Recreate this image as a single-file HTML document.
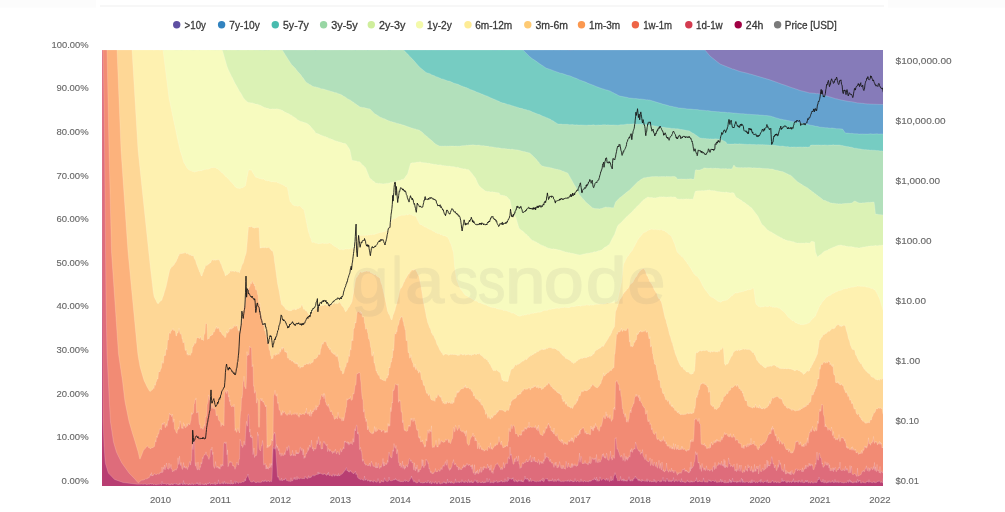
<!DOCTYPE html>
<html><head><meta charset="utf-8"><title>HODL Waves</title>
<style>
html,body{margin:0;padding:0;background:#fff;}
body{width:1005px;height:512px;overflow:hidden;font-family:"Liberation Sans",sans-serif;}
svg{display:block;}
text{font-family:"Liberation Sans",sans-serif;}
.leg text{font-size:11px;fill:#38383c;stroke:#38383c;stroke-width:0.3px;}
.ax text{font-size:9.5px;fill:#66666b;stroke:#66666b;stroke-width:0.12px;}
</style></head><body>
<svg width="1005" height="512" viewBox="0 0 1005 512">
<rect width="1005" height="512" fill="#fff"/>
<rect x="0" y="0" width="96" height="7.5" fill="#fcfcfc"/><rect x="888" y="0" width="117" height="7.5" fill="#fcfcfc"/>
<rect x="100" y="5.5" width="784" height="1" fill="#f0f0f0"/>
<defs><clipPath id="pc"><rect x="102" y="50" width="781" height="436"/></clipPath></defs>
<g clip-path="url(#pc)" shape-rendering="geometricPrecision">
<rect x="101" y="50" width="783" height="437" fill="#867bb9"/>
<path d="M167 50L530 50L530.5 50.1L549 50L551.5 50.1L553.5 50L560 50.1L560.5 50L567.5 50L569.5 50.2L573.5 50L603.5 50.1L636.5 50L638 50.1L639.5 50L688.5 50L689.5 50.1L690 50L704.5 50L705 50.1L710 56L720 64L732.5 69L733 69L740 71.5L746.5 73L750 74.1L750.5 74.1L769 79.6L776.5 82.2L782 84.3L784.5 85L791 87.4L796.5 89.2L800 90.5L805 91.7L809.5 92.9L814.5 93.3L816.5 93.7L817.5 93.6L819.5 93.9L823 94.8L825 95.5L832.5 97.7L835.5 98.7L837 98.9L838.5 99.4L844 100.6L849 101.5L851.5 101.7L857.5 102.9L861.5 103.3L862.5 103.3L865 103.7L868 104L868.5 103.9L869 104L883 104.5L884 487L167 487Z" fill="#65a2cf"/>
<path d="M167 50L530 50L530.5 50.1L549 50L551.5 50.1L553.5 50L560 50.1L560.5 50L567.5 50L569.5 50.2L573.5 50L603.5 50.1L636.5 50L638 50.1L639.5 50L688.5 50L689.5 50.1L690 50L704.5 50L705 50.1L710 56L720 64L732.5 69L733 69L740 71.5L746.5 73L750 74.1L750.5 74.1L769 79.6L776.5 82.2L782 84.3L784.5 85L791 87.4L796.5 89.2L800 90.5L805 91.7L809.5 92.9L814.5 93.3L816.5 93.7L817.5 93.6L819.5 93.9L823 94.8L825 95.5L832.5 97.7L835.5 98.7L837 98.9L838.5 99.4L844 100.6L849 101.5L851.5 101.7L857.5 102.9L861.5 103.3L862.5 103.3L865 103.7L868 104L868.5 103.9L869 104L883 104.5" fill="none" stroke="#fff" stroke-opacity="0.28" stroke-width="0.6"/>
<path d="M172 50L365.5 50L367.5 50.1L369 50L390 50L390.5 50.1L391 50L405 50L406.5 50.2L407.5 50L419 50L420 50.1L425.5 50L427 50.1L430 50L430.5 50.2L431.5 50L436 50L438 50.2L440 50L445 50L445.5 50.1L447 50L487 50.1L492.5 50L495 50.2L497.5 50L501.5 50L502 50.2L504.5 50L512 50L512.5 50.2L513 50L522.5 50L523 50.1L523.5 50.5L529.5 56.5L532 58.5L536 61.1L540 64.1L543 65.9L546 68.1L547 68.5L547.5 68.5L550 69.4L550.5 69.6L551 69.7L554 70.9L560.5 73.2L562.5 73.6L568 75.5L569.5 75.7L575 78L575.5 78.1L577.5 78.9L579.5 79.9L585.5 82.1L588 83.3L594.5 85.7L596 86.5L598.5 87.3L599.5 87.8L603 88.9L603.5 89L606 89.9L607 90L609 90.8L610 90.9L612.5 92.4L613.5 92.8L614.5 93.5L616 94.1L617.5 94.9L618.5 95.6L620 96.1L627.5 97.5L629 98L632.5 98.3L633 98.4L634 98.4L634.5 98.6L635.5 98.5L639.5 99.1L640.5 99L642.5 99.2L647 99.9L647.5 99.8L648.5 100L649.5 100L658.5 102.8L660.5 103.3L662.5 104.1L667.5 105.3L669.5 106L672.5 106.5L674 106.9L676 107.2L678.5 107.9L680 108.1L684.5 108.4L687 108.9L691 109.1L694 109.5L696.5 109.6L697 109.5L699.5 110L704.5 110.4L707 110.8L707.5 110.6L709 110.8L711.5 111.3L717.5 111.7L718.5 111.7L720.5 112.1L725.5 112.3L726 112.5L727 112.5L727.5 112.7L728 112.6L730.5 112.7L732.5 112.9L733.5 113.1L736 113.2L738 113.5L741 113.7L743.5 113.7L745 114L746.5 114L747 114.2L749.5 114.2L751 114.5L756 114.7L756.5 114.8L758 114.8L759 115L763.5 115.3L764.5 115.5L767 115.6L768 115.8L770 115.9L772.5 116.8L774 117.1L774.5 117.4L778 118.4L780 119.1L781.5 119.2L782 119.5L783 119.6L783.5 119.8L786 120.1L787 120.5L789 120.7L791 121.4L793 121.8L795.5 122L796 122.3L798.5 122.6L800.5 123.1L803.5 123.5L806.5 124.3L807 124.3L810.5 125.2L814 125.8L815.5 126.3L817 126.3L820 127.2L821 127.2L825.5 127.7L828 127.8L828.5 128L830.5 128.2L831 128L832.5 128.1L836.5 128.7L838.5 128.7L842.5 129L845 132.5L845.5 133L846 133.1L848 133.1L849 133.3L851 133.5L851.5 133.3L854 133.7L857.5 133.8L858 134L859 133.9L859.5 134.1L861 133.9L862 134L862.5 133.9L863.5 134L868 134.1L870.5 133.8L873 134.1L877 133.8L878.5 134L882 133.9L883 134L884 487L172 487Z" fill="#76ccc2"/>
<path d="M172 50L365.5 50L367.5 50.1L369 50L390 50L390.5 50.1L391 50L405 50L406.5 50.2L407.5 50L419 50L420 50.1L425.5 50L427 50.1L430 50L430.5 50.2L431.5 50L436 50L438 50.2L440 50L445 50L445.5 50.1L447 50L487 50.1L492.5 50L495 50.2L497.5 50L501.5 50L502 50.2L504.5 50L512 50L512.5 50.2L513 50L522.5 50L523 50.1L523.5 50.5L529.5 56.5L532 58.5L536 61.1L540 64.1L543 65.9L546 68.1L547 68.5L547.5 68.5L550 69.4L550.5 69.6L551 69.7L554 70.9L560.5 73.2L562.5 73.6L568 75.5L569.5 75.7L575 78L575.5 78.1L577.5 78.9L579.5 79.9L585.5 82.1L588 83.3L594.5 85.7L596 86.5L598.5 87.3L599.5 87.8L603 88.9L603.5 89L606 89.9L607 90L609 90.8L610 90.9L612.5 92.4L613.5 92.8L614.5 93.5L616 94.1L617.5 94.9L618.5 95.6L620 96.1L627.5 97.5L629 98L632.5 98.3L633 98.4L634 98.4L634.5 98.6L635.5 98.5L639.5 99.1L640.5 99L642.5 99.2L647 99.9L647.5 99.8L648.5 100L649.5 100L658.5 102.8L660.5 103.3L662.5 104.1L667.5 105.3L669.5 106L672.5 106.5L674 106.9L676 107.2L678.5 107.9L680 108.1L684.5 108.4L687 108.9L691 109.1L694 109.5L696.5 109.6L697 109.5L699.5 110L704.5 110.4L707 110.8L707.5 110.6L709 110.8L711.5 111.3L717.5 111.7L718.5 111.7L720.5 112.1L725.5 112.3L726 112.5L727 112.5L727.5 112.7L728 112.6L730.5 112.7L732.5 112.9L733.5 113.1L736 113.2L738 113.5L741 113.7L743.5 113.7L745 114L746.5 114L747 114.2L749.5 114.2L751 114.5L756 114.7L756.5 114.8L758 114.8L759 115L763.5 115.3L764.5 115.5L767 115.6L768 115.8L770 115.9L772.5 116.8L774 117.1L774.5 117.4L778 118.4L780 119.1L781.5 119.2L782 119.5L783 119.6L783.5 119.8L786 120.1L787 120.5L789 120.7L791 121.4L793 121.8L795.5 122L796 122.3L798.5 122.6L800.5 123.1L803.5 123.5L806.5 124.3L807 124.3L810.5 125.2L814 125.8L815.5 126.3L817 126.3L820 127.2L821 127.2L825.5 127.7L828 127.8L828.5 128L830.5 128.2L831 128L832.5 128.1L836.5 128.7L838.5 128.7L842.5 129L845 132.5L845.5 133L846 133.1L848 133.1L849 133.3L851 133.5L851.5 133.3L854 133.7L857.5 133.8L858 134L859 133.9L859.5 134.1L861 133.9L862 134L862.5 133.9L863.5 134L868 134.1L870.5 133.8L873 134.1L877 133.8L878.5 134L882 133.9L883 134" fill="none" stroke="#fff" stroke-opacity="0.28" stroke-width="0.6"/>
<path d="M167 50L260 50.1L267 50L268.5 50.2L271.5 50L285 50L285.5 50.1L286 50L307.5 50.1L314 50L315.5 50.2L317 50L327.5 50.1L339.5 50L340 50.1L340.5 50L350.5 50.1L354.5 50L355.5 50.2L356 50L362 50L362.5 50.1L364.5 50L367 50L367.5 50.2L369 50L386 50L386.5 50.1L387.5 50L388.5 50.2L389.5 50L390.5 50.2L391 50L402 50L403 50.1L403.5 50L405 51.3L406.5 53.1L408 54.3L410 56.7L412 58.6L419.5 67.1L426 72.4L428 73.2L428.5 73.2L430.5 74L431.5 74.7L434.5 75.8L435.5 76.4L438.5 77.4L440 78.2L441 78.5L441.5 78.9L442.5 78.9L448 81L449 81L450.5 81.6L451 81.7L451.5 82.1L454 83.2L458 84.3L459.5 85.1L460 85.2L461.5 85.9L462 85.9L463.5 86.8L465 87.1L465.5 87.5L467 87.8L467.5 88.2L468.5 88.4L470 89.4L472 90L473 90.6L474 90.8L476.5 92L480 93.2L480.5 93.6L481 93.6L481.5 94L482 94L484 95.1L484.5 95.1L485 95.4L487.5 96.2L490.5 97.8L496.5 100.2L497.5 100.8L499 101.3L500.5 102.2L503 103L504 103.1L505 103.6L506.5 103.9L507.5 104.4L509.5 104.7L512 105.7L513.5 106L514.5 106.4L515 106.4L515.5 106.7L518 107.4L519.5 108.1L522.5 108.6L523 109L526.5 109.8L528 110.4L528.5 110.3L529 110.6L530 110.8L533 112.3L534 112.5L535 113.1L537.5 113.9L538 114.3L539.5 114.6L541.5 115.5L542 115.9L542.5 115.9L543.5 116.5L544.5 116.7L546.5 117.7L547 117.7L548.5 118.6L550 119.1L551.5 120L552 120.5L553.5 121.1L555 122.2L556 122.7L557 123.5L558 124L560 124.1L560.5 124L561.5 124.1L562 124.3L567.5 124.3L568.5 124.6L569 124.4L569.5 124.7L573 124.6L574 124.9L575 124.8L575.5 125L576 124.8L579 125.1L580.5 124.9L587 125.2L588 125L591.5 125.1L593.5 124.8L595.5 125.2L598.5 124.9L599.5 125.1L602 125L602.5 124.8L605.5 124.8L606.5 125.1L608 124.8L609 125L610 124.9L611 125.1L613.5 124.9L618 125.2L620.5 124.8L624 124.7L625 124.4L627.5 124L629 124.2L630 124L630.5 124.1L631 123.9L631.5 124.1L634 123.8L634.5 124L635 123.9L635.5 124.2L636 124L636.5 124.2L637.5 123.9L638.5 124.2L640.5 124L641 124.2L642 124.2L643 124.4L643.5 124.2L644 124.5L647.5 124.7L649 125.1L650.5 125.2L651.5 125.6L653 125.6L656 126.3L656.5 126.2L657.5 126.6L658.5 126.7L661 127.3L661.5 127.2L664 127.3L666 127.8L669.5 128L671.5 128.4L674.5 128.4L675.5 128.7L678 128.8L680.5 129.4L681 129.2L681.5 129.5L684.5 129.9L685.5 130.3L686.5 130.4L688.5 130.8L689.5 131.1L692 132.8L694 133.7L700 138L703 138.5L703.5 138.3L704 138.6L706 138.5L706.5 138.8L708.5 138.8L709.5 139L711 138.8L711.5 139L712 138.9L714 139.1L715 138.8L717.5 139L718 139.2L718.5 139.1L720.5 139.2L723.5 140.7L726 142.1L727 144L728.5 143.9L730 144.1L734 144L734.5 143.8L738 144.1L739.5 143.8L741 144.1L741.5 143.9L742.5 144L743 144.3L743.5 144.1L744 144.3L745.5 144.2L747.5 144.5L748 144.3L748.5 144.5L749 144.2L752 144.6L754.5 144.5L756.5 144.7L758.5 144.6L760 144.8L761 144.6L761.5 144.8L762.5 144.6L763 144.8L764.5 144.7L766 144.9L767 144.8L767.5 144.9L769 144.9L769.5 145.2L770 145L771 145.2L772.5 145.1L773.5 145.3L775 145.3L777 145.8L778 145.8L780 146.2L783 146L784.5 146.5L786.5 146.7L787.5 146.6L790 147.2L791 147.1L791.5 146.9L792.5 147.1L793 146.9L795 146.9L796 147.2L797 147L798 147.1L799.5 146.9L801.5 146.9L802 147.2L803.5 146.9L804.5 147.1L805 146.9L806.5 147.1L807 147L807.5 147.2L808.5 147L809.5 147.1L810.5 145.3L811 145L811.5 145.1L812.5 144.9L815.5 145.1L817 144.9L818 145.1L818.5 144.9L819.5 145.1L820.5 145L821 145.2L822 145L824 145.1L824.5 144.9L828 145.2L828.5 145L831.5 145.1L833.5 144.8L834.5 145.1L839.5 145L841.5 145.5L842.5 145.5L844 146L846.5 146.5L849 146.8L849.5 147.1L851.5 147.2L854.5 148.2L856 148.2L858 148.7L861 149L861.5 149.2L865 149.7L866 149.5L867 149.9L868 149.8L870.5 150.2L871.5 150L872 150.2L874 150.2L876.5 150.6L877.5 150.6L878 150.5L880.5 151L881 150.8L882.5 151L883 150.9L884 487L167 487Z" fill="#b2e0bb"/>
<path d="M167 50L260 50.1L267 50L268.5 50.2L271.5 50L285 50L285.5 50.1L286 50L307.5 50.1L314 50L315.5 50.2L317 50L327.5 50.1L339.5 50L340 50.1L340.5 50L350.5 50.1L354.5 50L355.5 50.2L356 50L362 50L362.5 50.1L364.5 50L367 50L367.5 50.2L369 50L386 50L386.5 50.1L387.5 50L388.5 50.2L389.5 50L390.5 50.2L391 50L402 50L403 50.1L403.5 50L405 51.3L406.5 53.1L408 54.3L410 56.7L412 58.6L419.5 67.1L426 72.4L428 73.2L428.5 73.2L430.5 74L431.5 74.7L434.5 75.8L435.5 76.4L438.5 77.4L440 78.2L441 78.5L441.5 78.9L442.5 78.9L448 81L449 81L450.5 81.6L451 81.7L451.5 82.1L454 83.2L458 84.3L459.5 85.1L460 85.2L461.5 85.9L462 85.9L463.5 86.8L465 87.1L465.5 87.5L467 87.8L467.5 88.2L468.5 88.4L470 89.4L472 90L473 90.6L474 90.8L476.5 92L480 93.2L480.5 93.6L481 93.6L481.5 94L482 94L484 95.1L484.5 95.1L485 95.4L487.5 96.2L490.5 97.8L496.5 100.2L497.5 100.8L499 101.3L500.5 102.2L503 103L504 103.1L505 103.6L506.5 103.9L507.5 104.4L509.5 104.7L512 105.7L513.5 106L514.5 106.4L515 106.4L515.5 106.7L518 107.4L519.5 108.1L522.5 108.6L523 109L526.5 109.8L528 110.4L528.5 110.3L529 110.6L530 110.8L533 112.3L534 112.5L535 113.1L537.5 113.9L538 114.3L539.5 114.6L541.5 115.5L542 115.9L542.5 115.9L543.5 116.5L544.5 116.7L546.5 117.7L547 117.7L548.5 118.6L550 119.1L551.5 120L552 120.5L553.5 121.1L555 122.2L556 122.7L557 123.5L558 124L560 124.1L560.5 124L561.5 124.1L562 124.3L567.5 124.3L568.5 124.6L569 124.4L569.5 124.7L573 124.6L574 124.9L575 124.8L575.5 125L576 124.8L579 125.1L580.5 124.9L587 125.2L588 125L591.5 125.1L593.5 124.8L595.5 125.2L598.5 124.9L599.5 125.1L602 125L602.5 124.8L605.5 124.8L606.5 125.1L608 124.8L609 125L610 124.9L611 125.1L613.5 124.9L618 125.2L620.5 124.8L624 124.7L625 124.4L627.5 124L629 124.2L630 124L630.5 124.1L631 123.9L631.5 124.1L634 123.8L634.5 124L635 123.9L635.5 124.2L636 124L636.5 124.2L637.5 123.9L638.5 124.2L640.5 124L641 124.2L642 124.2L643 124.4L643.5 124.2L644 124.5L647.5 124.7L649 125.1L650.5 125.2L651.5 125.6L653 125.6L656 126.3L656.5 126.2L657.5 126.6L658.5 126.7L661 127.3L661.5 127.2L664 127.3L666 127.8L669.5 128L671.5 128.4L674.5 128.4L675.5 128.7L678 128.8L680.5 129.4L681 129.2L681.5 129.5L684.5 129.9L685.5 130.3L686.5 130.4L688.5 130.8L689.5 131.1L692 132.8L694 133.7L700 138L703 138.5L703.5 138.3L704 138.6L706 138.5L706.5 138.8L708.5 138.8L709.5 139L711 138.8L711.5 139L712 138.9L714 139.1L715 138.8L717.5 139L718 139.2L718.5 139.1L720.5 139.2L723.5 140.7L726 142.1L727 144L728.5 143.9L730 144.1L734 144L734.5 143.8L738 144.1L739.5 143.8L741 144.1L741.5 143.9L742.5 144L743 144.3L743.5 144.1L744 144.3L745.5 144.2L747.5 144.5L748 144.3L748.5 144.5L749 144.2L752 144.6L754.5 144.5L756.5 144.7L758.5 144.6L760 144.8L761 144.6L761.5 144.8L762.5 144.6L763 144.8L764.5 144.7L766 144.9L767 144.8L767.5 144.9L769 144.9L769.5 145.2L770 145L771 145.2L772.5 145.1L773.5 145.3L775 145.3L777 145.8L778 145.8L780 146.2L783 146L784.5 146.5L786.5 146.7L787.5 146.6L790 147.2L791 147.1L791.5 146.9L792.5 147.1L793 146.9L795 146.9L796 147.2L797 147L798 147.1L799.5 146.9L801.5 146.9L802 147.2L803.5 146.9L804.5 147.1L805 146.9L806.5 147.1L807 147L807.5 147.2L808.5 147L809.5 147.1L810.5 145.3L811 145L811.5 145.1L812.5 144.9L815.5 145.1L817 144.9L818 145.1L818.5 144.9L819.5 145.1L820.5 145L821 145.2L822 145L824 145.1L824.5 144.9L828 145.2L828.5 145L831.5 145.1L833.5 144.8L834.5 145.1L839.5 145L841.5 145.5L842.5 145.5L844 146L846.5 146.5L849 146.8L849.5 147.1L851.5 147.2L854.5 148.2L856 148.2L858 148.7L861 149L861.5 149.2L865 149.7L866 149.5L867 149.9L868 149.8L870.5 150.2L871.5 150L872 150.2L874 150.2L876.5 150.6L877.5 150.6L878 150.5L880.5 151L881 150.8L882.5 151L883 150.9" fill="none" stroke="#fff" stroke-opacity="0.28" stroke-width="0.6"/>
<path d="M144.5 50L181 50L182 50.2L182.5 50L193 50L193.5 50.1L194.5 50L217 50L219 50.1L219.5 50L223.5 50.1L224.5 50L226.5 50.2L227 50L230 50L230.5 50.1L236 50L238 50.2L240 50L247.5 50L248 50.2L248.5 50L253.5 50L254.5 50.3L256.5 50L260 50.2L260.5 50L262 50.2L263 50L264 50.4L265.5 50L266 50.2L266.5 50L269 50.2L269.5 50L271.5 50L276.5 50L277.5 50.3L278 50L278.5 50.2L279 50L282.5 50.2L286 56L291.5 64.5L295.5 68.6L297.5 71.3L301 75.1L302 76.7L303 77.8L305.5 81.4L306.5 82.4L308 83.4L308.5 83.6L309.5 84.5L310.5 84.8L312.5 86.2L315 86.9L315.5 86.8L316 87.2L318 87.5L319 88L319.5 87.9L320.5 88.5L322 88.9L322.5 88.8L323 89.2L323.5 89L324.5 89.3L325 89.7L326 89.8L328 90.5L328.5 90.5L329 90.8L329.5 90.7L331 91.5L332 91.5L333 92.1L333.5 92L334.5 92.5L336.5 92.8L337 93.2L338 93.4L338.5 93.8L340.5 94.2L341 94.7L342 95.1L343.5 96.2L344 96.3L345 97L345.5 97.2L347.5 98.7L350.5 100.2L352.5 101.8L354 102.6L354.5 103.2L356 104L357 105L357.5 105.1L358 105.6L360 107L361.5 107.2L362.5 107.6L364 107.6L366.5 108.3L367 108.2L368 108.8L369 108.7L370 109L375 113.9L375.5 114L376 114.6L378.5 115.9L379.5 116.8L380.5 117.2L381 117.7L381.5 117.6L383 118.4L384.5 118.8L387.5 120.3L388 120.3L388.5 120.8L389 120.8L390.5 121.4L391.5 121.5L392.5 122L395.5 122.7L397 123.4L398.5 123.6L399 123.9L400.5 124.1L402 124.8L403.5 125.1L408 126.8L409 127L410 127.6L410.5 127.5L411.5 128L412 128L413 128.5L413.5 128.5L414.5 128.9L415 128.7L416.5 129.6L417.5 129.8L418 129.6L418.5 130L419 130L422 132.1L425 134.9L426.5 135.9L427.5 137.1L433.5 142.1L434 142.9L434.5 143.1L435.5 144.1L438.5 145.6L440 146.2L440.5 146L442 146.2L443 145.9L443.5 146.2L445 145.9L446.5 146.2L447.5 146L448 146.2L449 146.1L449.5 145.9L451 145.9L451.5 146.1L452 145.8L452.5 146.1L454 146L454.5 146.3L455 146L456 146L457.5 146.2L458.5 146.1L459 146.2L460.5 146L461.5 145.7L465.5 145.5L466.5 145.2L467 145.1L467.5 145.4L469 145L469.5 145.1L471 144.9L471.5 145L472 144.7L472.5 144.9L473 144.8L474.5 145L475 144.9L475.5 145.2L476 144.9L476.5 145.3L477 145.3L477.5 145.1L479.5 145.1L480 145.4L481 145.4L482 145.8L483.5 145.6L485 146L486.5 146.1L487 146L487.5 146.3L488 146.1L489.5 146.7L491.5 146.7L496.5 147.7L499 147.8L499.5 148.1L501 148.2L501.5 148.4L503.5 148.4L504 148.6L505 148.5L505.5 148.8L506.5 148.8L507.5 149.1L509.5 149.1L510.5 149.4L512 149.1L513 149.2L513.5 149.6L514 149.4L515 149.8L515.5 149.7L518 150L523.5 151.5L524.5 151.5L526.5 152.3L527 152.2L528.5 152.8L529 152.7L530 153.2L533 155.9L535 158.1L536.5 159.4L537 160.3L539 162.5L539.5 163.4L542 166L543 166L544 166.6L549.5 167.4L550.5 167.8L551 167.8L552.5 168.3L554.5 168.7L555 169L555.5 168.9L556.5 169.3L557.5 169.3L558.5 169.7L559.5 169.7L560 170.1L561.5 170.5L562 171L564 171.4L564.5 171.9L565 171.8L565.5 172.3L567.5 172.9L568 173.4L575 186L575.5 186.6L579.5 194.7L583 198.9L584 199.8L585.5 201.8L593 208.3L593.5 208L594.5 208.4L599 208.8L599.5 209L600.5 208.5L601.5 208.5L602 208.2L602.5 208.2L603 207.8L604 207.7L605.5 207L608 207.4L608.5 207.2L610 207.5L610.5 207.4L611.5 207.7L612 207.6L612.5 207.8L613.5 207.9L615.5 202.2L616.5 200.9L620 197.5L621.5 196.5L622 195.9L622.5 195.7L623.5 194.7L624.5 194.1L626.5 192.3L629 190.6L637.5 181.9L638 181.5L638.5 181.4L639.5 180.5L641.5 179.1L642 179L643 178.2L644 177.8L645.5 177.7L646 177.4L646.5 177.5L648 177.1L648.5 177.2L652.5 176.4L653 176.7L654 176.4L654.5 176.6L655.5 176.4L656 176.6L656.5 176.4L657 176.5L657.5 176.4L658.5 176.7L659.5 176.5L660 176.7L660.5 176.5L663 176.6L664.5 176.4L665.5 176.7L666.5 176.3L667.5 176.6L668.5 176.4L669.5 176.6L670 176.4L671 176.7L671.5 176.4L672 176.5L673 176.3L674 176.5L674.5 176.4L675.5 176.8L676.5 177.8L677.5 179.2L678 179L678.5 179.1L681.5 178.9L682 179.1L683 178.9L684 179.1L685 178.9L686 179.2L687.5 178.9L688 179.1L689 178.9L691 178.8L691.5 178.9L692.5 179.3L693 179.1L693.5 179.3L694 179.1L694.5 176.5L695 171.9L695.5 169.9L696 170.1L696.5 169.8L697.5 170.1L700 170L702 168.9L702.5 168.9L703.5 168.2L705 167.8L705.5 168.1L706 167.9L706.5 168.2L708.5 168.3L709.5 168.3L710 168L713 168.4L713.5 168.2L714.5 168.3L715.5 168.1L716.5 168.4L717 168.3L718 168.3L719.5 168.6L720 168.5L720.5 168.7L722 168.7L722.5 168.5L723 168.7L724 168.5L724.5 168.7L726 168.6L727.5 168.9L728.5 168.8L729 169L729.5 168.8L731 169L731.5 168.8L732 169L733.5 165.6L734 165L735.5 167.1L737 167.6L738.5 167.5L739 167.7L740 167.5L740.5 167.7L741 167.4L741.5 167.6L742 167.4L742.5 167.7L744 167.7L744.5 167.5L746.5 167.8L748.5 167.6L751.5 167.8L752.5 168.1L753.5 167.8L757 168L759.5 167.9L760.5 168.2L761 168.1L761.5 168.3L764.5 168.4L765.5 168.6L766.5 168.5L767 168.7L767.5 168.5L770 169L771 168.9L772.5 169.1L775 170L777 170.2L779.5 171.1L780 171L780.5 171.3L781 171.2L781.5 171.5L782 171.4L782.5 171.6L786.5 173.4L787 173.8L788 174.1L788.5 174.6L790.5 175.2L792 176.4L797.5 181.8L801.5 184.3L802 184.4L802.5 185L805 186.6L806 186.9L807 187.7L807.5 187.8L809.5 189.4L810 190L810.5 190.1L811.5 191.1L814 192.8L815 193.8L816 194.2L817 195.2L818 195.8L818.5 196.4L819 196.5L820 197.4L821 197.9L821.5 198.6L823.5 200.2L825.5 200.6L827.5 201.7L828 201.6L828.5 201.8L829 202.3L830.5 202.9L831 202.8L831.5 203.1L832.5 203.3L834 203.2L836.5 203.7L837 203.6L838.5 204L839 203.8L842 203.9L842.5 203.6L843 203.8L843.5 203.6L845 203.6L846 203.3L847 203.5L847.5 203.3L849.5 203.3L850.5 203.1L851 203.3L852.5 202.6L854 201.2L855 201L858.5 202.8L860 203L861.5 203.1L863 202.7L864 202.9L864.5 202.7L866.5 202.5L867 202.3L867.5 202.4L869 202.2L869.5 202.4L871 202.2L871.5 202.3L872 202L873.5 202.2L874 201.9L874.5 204.5L875.5 214.3L876.5 214.1L878.5 214.4L879 214.7L879.5 214.6L883 214.9L884 487L144.5 487Z" fill="#dbf2b5"/>
<path d="M144.5 50L181 50L182 50.2L182.5 50L193 50L193.5 50.1L194.5 50L217 50L219 50.1L219.5 50L223.5 50.1L224.5 50L226.5 50.2L227 50L230 50L230.5 50.1L236 50L238 50.2L240 50L247.5 50L248 50.2L248.5 50L253.5 50L254.5 50.3L256.5 50L260 50.2L260.5 50L262 50.2L263 50L264 50.4L265.5 50L266 50.2L266.5 50L269 50.2L269.5 50L271.5 50L276.5 50L277.5 50.3L278 50L278.5 50.2L279 50L282.5 50.2L286 56L291.5 64.5L295.5 68.6L297.5 71.3L301 75.1L302 76.7L303 77.8L305.5 81.4L306.5 82.4L308 83.4L308.5 83.6L309.5 84.5L310.5 84.8L312.5 86.2L315 86.9L315.5 86.8L316 87.2L318 87.5L319 88L319.5 87.9L320.5 88.5L322 88.9L322.5 88.8L323 89.2L323.5 89L324.5 89.3L325 89.7L326 89.8L328 90.5L328.5 90.5L329 90.8L329.5 90.7L331 91.5L332 91.5L333 92.1L333.5 92L334.5 92.5L336.5 92.8L337 93.2L338 93.4L338.5 93.8L340.5 94.2L341 94.7L342 95.1L343.5 96.2L344 96.3L345 97L345.5 97.2L347.5 98.7L350.5 100.2L352.5 101.8L354 102.6L354.5 103.2L356 104L357 105L357.5 105.1L358 105.6L360 107L361.5 107.2L362.5 107.6L364 107.6L366.5 108.3L367 108.2L368 108.8L369 108.7L370 109L375 113.9L375.5 114L376 114.6L378.5 115.9L379.5 116.8L380.5 117.2L381 117.7L381.5 117.6L383 118.4L384.5 118.8L387.5 120.3L388 120.3L388.5 120.8L389 120.8L390.5 121.4L391.5 121.5L392.5 122L395.5 122.7L397 123.4L398.5 123.6L399 123.9L400.5 124.1L402 124.8L403.5 125.1L408 126.8L409 127L410 127.6L410.5 127.5L411.5 128L412 128L413 128.5L413.5 128.5L414.5 128.9L415 128.7L416.5 129.6L417.5 129.8L418 129.6L418.5 130L419 130L422 132.1L425 134.9L426.5 135.9L427.5 137.1L433.5 142.1L434 142.9L434.5 143.1L435.5 144.1L438.5 145.6L440 146.2L440.5 146L442 146.2L443 145.9L443.5 146.2L445 145.9L446.5 146.2L447.5 146L448 146.2L449 146.1L449.5 145.9L451 145.9L451.5 146.1L452 145.8L452.5 146.1L454 146L454.5 146.3L455 146L456 146L457.5 146.2L458.5 146.1L459 146.2L460.5 146L461.5 145.7L465.5 145.5L466.5 145.2L467 145.1L467.5 145.4L469 145L469.5 145.1L471 144.9L471.5 145L472 144.7L472.5 144.9L473 144.8L474.5 145L475 144.9L475.5 145.2L476 144.9L476.5 145.3L477 145.3L477.5 145.1L479.5 145.1L480 145.4L481 145.4L482 145.8L483.5 145.6L485 146L486.5 146.1L487 146L487.5 146.3L488 146.1L489.5 146.7L491.5 146.7L496.5 147.7L499 147.8L499.5 148.1L501 148.2L501.5 148.4L503.5 148.4L504 148.6L505 148.5L505.5 148.8L506.5 148.8L507.5 149.1L509.5 149.1L510.5 149.4L512 149.1L513 149.2L513.5 149.6L514 149.4L515 149.8L515.5 149.7L518 150L523.5 151.5L524.5 151.5L526.5 152.3L527 152.2L528.5 152.8L529 152.7L530 153.2L533 155.9L535 158.1L536.5 159.4L537 160.3L539 162.5L539.5 163.4L542 166L543 166L544 166.6L549.5 167.4L550.5 167.8L551 167.8L552.5 168.3L554.5 168.7L555 169L555.5 168.9L556.5 169.3L557.5 169.3L558.5 169.7L559.5 169.7L560 170.1L561.5 170.5L562 171L564 171.4L564.5 171.9L565 171.8L565.5 172.3L567.5 172.9L568 173.4L575 186L575.5 186.6L579.5 194.7L583 198.9L584 199.8L585.5 201.8L593 208.3L593.5 208L594.5 208.4L599 208.8L599.5 209L600.5 208.5L601.5 208.5L602 208.2L602.5 208.2L603 207.8L604 207.7L605.5 207L608 207.4L608.5 207.2L610 207.5L610.5 207.4L611.5 207.7L612 207.6L612.5 207.8L613.5 207.9L615.5 202.2L616.5 200.9L620 197.5L621.5 196.5L622 195.9L622.5 195.7L623.5 194.7L624.5 194.1L626.5 192.3L629 190.6L637.5 181.9L638 181.5L638.5 181.4L639.5 180.5L641.5 179.1L642 179L643 178.2L644 177.8L645.5 177.7L646 177.4L646.5 177.5L648 177.1L648.5 177.2L652.5 176.4L653 176.7L654 176.4L654.5 176.6L655.5 176.4L656 176.6L656.5 176.4L657 176.5L657.5 176.4L658.5 176.7L659.5 176.5L660 176.7L660.5 176.5L663 176.6L664.5 176.4L665.5 176.7L666.5 176.3L667.5 176.6L668.5 176.4L669.5 176.6L670 176.4L671 176.7L671.5 176.4L672 176.5L673 176.3L674 176.5L674.5 176.4L675.5 176.8L676.5 177.8L677.5 179.2L678 179L678.5 179.1L681.5 178.9L682 179.1L683 178.9L684 179.1L685 178.9L686 179.2L687.5 178.9L688 179.1L689 178.9L691 178.8L691.5 178.9L692.5 179.3L693 179.1L693.5 179.3L694 179.1L694.5 176.5L695 171.9L695.5 169.9L696 170.1L696.5 169.8L697.5 170.1L700 170L702 168.9L702.5 168.9L703.5 168.2L705 167.8L705.5 168.1L706 167.9L706.5 168.2L708.5 168.3L709.5 168.3L710 168L713 168.4L713.5 168.2L714.5 168.3L715.5 168.1L716.5 168.4L717 168.3L718 168.3L719.5 168.6L720 168.5L720.5 168.7L722 168.7L722.5 168.5L723 168.7L724 168.5L724.5 168.7L726 168.6L727.5 168.9L728.5 168.8L729 169L729.5 168.8L731 169L731.5 168.8L732 169L733.5 165.6L734 165L735.5 167.1L737 167.6L738.5 167.5L739 167.7L740 167.5L740.5 167.7L741 167.4L741.5 167.6L742 167.4L742.5 167.7L744 167.7L744.5 167.5L746.5 167.8L748.5 167.6L751.5 167.8L752.5 168.1L753.5 167.8L757 168L759.5 167.9L760.5 168.2L761 168.1L761.5 168.3L764.5 168.4L765.5 168.6L766.5 168.5L767 168.7L767.5 168.5L770 169L771 168.9L772.5 169.1L775 170L777 170.2L779.5 171.1L780 171L780.5 171.3L781 171.2L781.5 171.5L782 171.4L782.5 171.6L786.5 173.4L787 173.8L788 174.1L788.5 174.6L790.5 175.2L792 176.4L797.5 181.8L801.5 184.3L802 184.4L802.5 185L805 186.6L806 186.9L807 187.7L807.5 187.8L809.5 189.4L810 190L810.5 190.1L811.5 191.1L814 192.8L815 193.8L816 194.2L817 195.2L818 195.8L818.5 196.4L819 196.5L820 197.4L821 197.9L821.5 198.6L823.5 200.2L825.5 200.6L827.5 201.7L828 201.6L828.5 201.8L829 202.3L830.5 202.9L831 202.8L831.5 203.1L832.5 203.3L834 203.2L836.5 203.7L837 203.6L838.5 204L839 203.8L842 203.9L842.5 203.6L843 203.8L843.5 203.6L845 203.6L846 203.3L847 203.5L847.5 203.3L849.5 203.3L850.5 203.1L851 203.3L852.5 202.6L854 201.2L855 201L858.5 202.8L860 203L861.5 203.1L863 202.7L864 202.9L864.5 202.7L866.5 202.5L867 202.3L867.5 202.4L869 202.2L869.5 202.4L871 202.2L871.5 202.3L872 202L873.5 202.2L874 201.9L874.5 204.5L875.5 214.3L876.5 214.1L878.5 214.4L879 214.7L879.5 214.6L883 214.9" fill="none" stroke="#fff" stroke-opacity="0.28" stroke-width="0.6"/>
<path d="M144.5 50L162.5 50L163.5 50.2L164 50L165 50L166 50.2L166.5 50L171 50.1L174 50L175 50.2L175.5 50L176 50.2L180.5 50L181 50.3L182 50.2L182.5 50L186.5 50L187 50.2L187.5 50L190 50L192.5 50.3L193 50.1L193.5 50.2L196.5 50L198.5 50L199.5 50.3L200.5 50L201 50.1L201.5 50L207.5 50L208 50.2L208.5 50L211.5 50L212 50.2L212.5 50L215.5 50.2L217 50L217.5 50.2L218 50L218.5 50.3L220 50L221.5 50.1L222.5 50.4L227 66.2L228 69L231.5 76.2L232.5 77.9L235 83.3L237.5 87.4L239 90.4L240 92L240.5 92.5L243.5 98L246 100.7L246.5 100.9L247 101.8L248.5 102.4L249.5 102.4L250 102.8L250.5 102.9L251 102.6L251.5 103L252 102.8L252.5 102.9L253 103.3L254 103.4L255.5 104.1L256.5 104.3L257 104L257.5 104.2L258.5 104.8L259.5 104.9L260 105.4L260.5 105.3L261.5 105.9L262 105.9L262.5 106.4L264.5 107.5L265.5 107.6L266.5 108.2L267 108.1L267.5 108.3L268 108.2L269.5 109L271.5 109.1L272 108.7L272.5 108.9L273 108.7L273.5 109L274.5 108.9L275.5 109L276.5 108.7L277.5 108.9L278 109.3L278.5 109.1L279.5 109.5L280 109.3L280.5 109.8L283 110.7L283.5 111.3L284 111.2L284.5 111.9L285.5 112.4L286 112.3L287 113.3L288.5 113.6L290.5 114.9L292 115.4L293 116.4L296 118.3L297.5 119.7L298.5 120.1L299 120.7L301 121.4L301.5 121.4L302 121.7L303 121.9L303.5 122.3L305 122.8L305.5 122.8L306 123.1L308 123.9L308.5 124.6L309.5 125.3L310 126.1L310.5 126.3L311 127.2L312 128L312.5 128.9L314 130.3L316 133.5L316.5 133.3L318 133.8L319 134.1L320.5 135.1L321.5 135.2L323 135.9L323.5 135.9L324.5 136.6L326 136.8L326.5 137.3L327 137.2L327.5 137.4L328 138L328.5 137.9L329 138.4L329.5 138.4L330 138.7L330.5 138.6L331.5 139.3L332 139.2L333.5 139.9L334 140.3L335.5 140.9L336 140.8L337 141.4L337.5 141.3L338.5 141.9L339 141.7L340 142.3L341.5 142.5L342.5 143.1L343 143L343.5 143.4L344.5 143.3L345 143.7L345.5 143.6L346 143.9L347 145.2L347.5 146.2L348 146.7L349.5 149.1L350 150.2L352 160.2L354.5 160.8L356.5 161L357 161.4L357.5 161.4L358 161.7L359 161.6L359.5 161.8L361 163L361.5 163.9L363 165.3L364 165.9L365 167.4L365.5 167.5L369.5 177.5L371 179.2L372 179.7L372.5 180.4L373.5 181.2L374 181.3L375.5 183.1L376 183.3L376.5 183.1L377.5 183.2L378.5 183.6L379.5 183.2L380.5 183.6L381 183.4L382 183.8L382.5 183.7L383 183.9L383.5 183.7L384 184.1L384.5 183.6L385 183.8L386.5 183.2L387 183.4L389.5 183L391 182.3L391.5 182.5L392 182.1L393 181.8L393.5 182.1L394.5 181.6L395 181.4L395.5 181.5L396 181.2L396.5 181.2L397.5 180.6L400.5 180.3L401 179.7L403.5 179.2L405 177.5L405.5 176.6L407.5 174.1L410.5 163.5L411 162.9L411.5 163.1L412 162.8L413 162.7L413.5 162.9L414 162.6L414.5 162.8L416 162.6L416.5 162.1L417.5 162.2L418 161.9L418.5 162.2L420 161.8L421 162L421.5 162.5L422.5 162.4L424 162.8L425 162.7L427 162.9L427.5 163.3L428 163.4L429 163.1L429.5 163.4L430 163.2L430.5 163.7L431.5 163.7L434.5 164.4L436 164.3L436.5 164.6L437.5 164.9L439 165L440 164.7L441 164.9L442.5 165.6L444 165.4L445 165.9L445.5 165.6L446 165.9L447.5 165.9L448 166.2L449.5 166L451 166.6L451.5 166.4L452 166.8L453 166.5L455 166.9L456.5 167.5L457 167.3L458 167.2L458.5 167.5L459 167.6L459.5 168.1L460.5 168.2L461 168.1L461.5 168.5L462.5 168.6L463.5 169L464 168.8L465.5 168.9L466 169.1L466.5 169.6L468 169.6L469 169.9L472 173.5L474 176.3L474.5 176.7L475 177.6L475.5 178L477.5 182.7L479 185.6L482 188.4L483 189L485 190.8L485.5 191L486 191.4L486.5 191.1L487.5 191.6L488.5 191.4L489 191.6L489.5 191.5L490 191.9L493 191.8L493.5 192.2L494.5 192.1L496 192.6L496.5 192.4L497 192.8L497.5 192.5L498 192.9L499 192.8L499.5 193.6L500 195.1L500.5 194.9L501.5 195.2L502.5 195.1L503 195.6L503.5 195.5L504 195.8L504.5 195.6L505 195.7L505.5 196.2L506 196L507 196.8L508.5 198.6L509.5 199.4L510 200.1L512 209.8L514 214.3L516 217.9L519 228L520.5 229.7L521 229.8L522 230.8L523 231.2L526 234.3L527 234.8L527.5 235.7L528.5 236.3L529.5 237.8L530 237.9L530.5 238.7L532.5 240.5L533.5 240.6L534 241.2L535 241.4L536 242.1L537 242.4L537.5 242.9L538 243L540.5 244.8L541.5 244.9L542 245.4L543.5 245.8L544.5 246.5L545.5 246.6L546 247.2L547.5 247.8L548 248.2L549.5 248.3L550.5 248.8L551 248.6L551.5 249L552 248.8L552.5 249.1L553.5 248.8L554.5 249.1L555.5 249.1L558 249.8L559 250L559.5 249.8L560 250.3L561.5 250.6L562 251L562.5 250.9L563 251.3L563.5 251.2L564 251.6L564.5 251.6L565.5 252.1L566 252.2L566.5 252L567 252.4L567.5 252.3L568.5 252.7L569 252.6L571 253.2L571.5 253.1L572 253.4L572.5 253.3L574 253.8L574.5 253.8L575 254.1L576.5 254.2L577.5 254.6L579.5 254.9L581 254.8L584 253.9L585.5 253.8L586 253.5L587.5 253.2L588 253.4L588.5 253.1L589 253.3L590 253L590.5 252.6L591 252.9L591.5 252.5L592 252.6L592.5 252.5L594.5 251.6L595 251.9L596 251.7L598 251.1L598.5 250.6L599 250.8L599.5 250.5L601.5 250.1L605 247.1L606 246.8L607 246.2L607.5 245.5L608 245.3L609 244.7L609.5 244L612.5 237.9L614.5 234.4L617.5 226.1L618 225.6L618.5 224.7L619 224.4L619.5 223.8L620 223.6L621 222.7L621.5 222L624 219.6L625 218.3L625.5 218.1L626.5 216.8L627.5 216.1L630 213.4L630.5 213.2L633 210.8L634 209.4L636 207.7L636.5 206.8L639 204.7L640 203.3L640.5 203.2L641.5 201.7L642 201.6L643.5 199.8L644.5 199.3L645 198.8L646.5 197.9L647 197.4L647.5 197.1L648 197.2L648.5 197.1L649 197.2L649.5 197.6L650 197.3L650.5 197.5L651.5 197.4L652 197.6L653 197.7L653.5 198L654.5 197.8L655 198.2L656.5 197.6L658.5 197.3L659.5 196.8L660 197L660.5 196.7L661 197L661.5 196.7L662 196.7L662.5 197.1L663.5 196.8L664 197.1L664.5 196.9L666.5 197.2L667 197L667.5 197.1L668.5 196.9L669 197.2L669.5 196.9L670.5 196.8L671 197L671.5 196.8L672 197.1L673 197.3L673.5 196.9L675.5 197L676.5 198.3L677.5 199L679 198.9L679.5 199.2L681.5 198.9L682.5 199.2L683.5 198.9L684 199.2L684.5 199.1L685 198.8L685.5 199.1L686 198.8L686.5 198.8L687 199.2L687.5 199.1L688 198.8L689.5 199.2L690 199L690.5 199.2L691 198.9L693 199.3L695 191.9L695.5 191.2L696 190.9L696.5 191.1L697.5 190.7L698 190.9L698.5 190.7L699.5 190.8L700 191.1L700.5 190.7L701.5 190.6L702 190.7L703 190.5L703.5 190.7L704 190.7L704.5 190.4L705 190.7L705.5 190.3L706 190.6L708 190L709 190.2L709.5 189.8L710.5 190.4L711.5 190.6L712 190.4L713.5 190.7L714 190.6L716.5 191.2L717 191.6L718.5 191.5L721 192.1L721.5 192L722 192.3L723.5 192.1L724.5 192.4L726.5 192L727 192.1L727.5 192.5L728 192.4L730.5 193L732 192.6L733 192.7L734 193.1L735 195.2L736 196.9L736.5 197.4L737.5 198L738 198L739.5 199.4L740 199.3L740.5 200.1L741 200.1L741.5 200.3L742 201L743.5 202L745 202.7L745.5 203.3L746 203.5L747 204.6L749 205.7L750 206.9L751 207.6L751.5 207.8L758 216.3L761 222.6L762 224.4L763 225.3L763.5 225.5L767.5 230L768 230L769 230.9L770.5 231.8L771 231.8L772.5 232.7L773 233.3L775 234.2L776 235.1L777 235.4L778 236.3L778.5 236.2L780.5 237.5L781 237.6L782 238.2L782.5 238.4L783.5 239.2L784.5 239.3L785.5 240.1L786 240.1L788 240.8L789.5 240.8L792.5 241.8L793 241.6L794.5 242.2L795 242.6L795.5 242.6L796 242.9L796.5 242.7L797.5 243.3L798.5 243L799.5 243.2L800 243L801 243.2L802 242.9L802.5 243.2L803 243L805 243.2L805.5 242.8L806 242.9L806.5 242.8L807.5 243L809 242.9L809.5 243.2L811.5 241.2L813 241.5L813.5 241.8L814 241.7L814.5 242L815.5 252L817.5 257.1L818 256.5L818.5 256.3L819 255.5L821.5 253.9L822.5 252.7L824.5 251.2L825.5 250.8L826 250.8L826.5 250.4L827 250.5L827.5 250.3L828 249.7L829 249.3L829.5 248.8L830 248.8L830.5 248.4L832 247.9L832.5 247.5L835 246.7L835.5 246.3L836 246.3L836.5 245.9L837 246L837.5 245.5L838 245.6L838.5 245.3L839.5 245.2L840 245.3L840.5 245L841 245.3L841.5 245.1L843 245.8L844.5 245.6L845.5 246.1L846 246L846.5 246.4L848 246.3L848.5 246.7L849 246.5L850 246.8L851 246.6L853 247.1L853.5 247L855 247.4L855.5 247.6L856 247.5L858 247.7L858.5 248.1L859 247.7L859.5 248.1L860.5 247.6L861.5 247.5L863.5 246.9L865 246.9L866.5 246.4L867.5 246.5L868.5 246.1L870 246.1L870.5 245.9L871 246L871.5 245.8L872 246.1L873.5 245.7L874.5 245.8L876 245.3L876.5 245.7L878 245.7L879.5 245.2L881 245.4L882 245.1L883 245.1L884 487L144.5 487Z" fill="#f7fbbf"/>
<path d="M144.5 50L162.5 50L163.5 50.2L164 50L165 50L166 50.2L166.5 50L171 50.1L174 50L175 50.2L175.5 50L176 50.2L180.5 50L181 50.3L182 50.2L182.5 50L186.5 50L187 50.2L187.5 50L190 50L192.5 50.3L193 50.1L193.5 50.2L196.5 50L198.5 50L199.5 50.3L200.5 50L201 50.1L201.5 50L207.5 50L208 50.2L208.5 50L211.5 50L212 50.2L212.5 50L215.5 50.2L217 50L217.5 50.2L218 50L218.5 50.3L220 50L221.5 50.1L222.5 50.4L227 66.2L228 69L231.5 76.2L232.5 77.9L235 83.3L237.5 87.4L239 90.4L240 92L240.5 92.5L243.5 98L246 100.7L246.5 100.9L247 101.8L248.5 102.4L249.5 102.4L250 102.8L250.5 102.9L251 102.6L251.5 103L252 102.8L252.5 102.9L253 103.3L254 103.4L255.5 104.1L256.5 104.3L257 104L257.5 104.2L258.5 104.8L259.5 104.9L260 105.4L260.5 105.3L261.5 105.9L262 105.9L262.5 106.4L264.5 107.5L265.5 107.6L266.5 108.2L267 108.1L267.5 108.3L268 108.2L269.5 109L271.5 109.1L272 108.7L272.5 108.9L273 108.7L273.5 109L274.5 108.9L275.5 109L276.5 108.7L277.5 108.9L278 109.3L278.5 109.1L279.5 109.5L280 109.3L280.5 109.8L283 110.7L283.5 111.3L284 111.2L284.5 111.9L285.5 112.4L286 112.3L287 113.3L288.5 113.6L290.5 114.9L292 115.4L293 116.4L296 118.3L297.5 119.7L298.5 120.1L299 120.7L301 121.4L301.5 121.4L302 121.7L303 121.9L303.5 122.3L305 122.8L305.5 122.8L306 123.1L308 123.9L308.5 124.6L309.5 125.3L310 126.1L310.5 126.3L311 127.2L312 128L312.5 128.9L314 130.3L316 133.5L316.5 133.3L318 133.8L319 134.1L320.5 135.1L321.5 135.2L323 135.9L323.5 135.9L324.5 136.6L326 136.8L326.5 137.3L327 137.2L327.5 137.4L328 138L328.5 137.9L329 138.4L329.5 138.4L330 138.7L330.5 138.6L331.5 139.3L332 139.2L333.5 139.9L334 140.3L335.5 140.9L336 140.8L337 141.4L337.5 141.3L338.5 141.9L339 141.7L340 142.3L341.5 142.5L342.5 143.1L343 143L343.5 143.4L344.5 143.3L345 143.7L345.5 143.6L346 143.9L347 145.2L347.5 146.2L348 146.7L349.5 149.1L350 150.2L352 160.2L354.5 160.8L356.5 161L357 161.4L357.5 161.4L358 161.7L359 161.6L359.5 161.8L361 163L361.5 163.9L363 165.3L364 165.9L365 167.4L365.5 167.5L369.5 177.5L371 179.2L372 179.7L372.5 180.4L373.5 181.2L374 181.3L375.5 183.1L376 183.3L376.5 183.1L377.5 183.2L378.5 183.6L379.5 183.2L380.5 183.6L381 183.4L382 183.8L382.5 183.7L383 183.9L383.5 183.7L384 184.1L384.5 183.6L385 183.8L386.5 183.2L387 183.4L389.5 183L391 182.3L391.5 182.5L392 182.1L393 181.8L393.5 182.1L394.5 181.6L395 181.4L395.5 181.5L396 181.2L396.5 181.2L397.5 180.6L400.5 180.3L401 179.7L403.5 179.2L405 177.5L405.5 176.6L407.5 174.1L410.5 163.5L411 162.9L411.5 163.1L412 162.8L413 162.7L413.5 162.9L414 162.6L414.5 162.8L416 162.6L416.5 162.1L417.5 162.2L418 161.9L418.5 162.2L420 161.8L421 162L421.5 162.5L422.5 162.4L424 162.8L425 162.7L427 162.9L427.5 163.3L428 163.4L429 163.1L429.5 163.4L430 163.2L430.5 163.7L431.5 163.7L434.5 164.4L436 164.3L436.5 164.6L437.5 164.9L439 165L440 164.7L441 164.9L442.5 165.6L444 165.4L445 165.9L445.5 165.6L446 165.9L447.5 165.9L448 166.2L449.5 166L451 166.6L451.5 166.4L452 166.8L453 166.5L455 166.9L456.5 167.5L457 167.3L458 167.2L458.5 167.5L459 167.6L459.5 168.1L460.5 168.2L461 168.1L461.5 168.5L462.5 168.6L463.5 169L464 168.8L465.5 168.9L466 169.1L466.5 169.6L468 169.6L469 169.9L472 173.5L474 176.3L474.5 176.7L475 177.6L475.5 178L477.5 182.7L479 185.6L482 188.4L483 189L485 190.8L485.5 191L486 191.4L486.5 191.1L487.5 191.6L488.5 191.4L489 191.6L489.5 191.5L490 191.9L493 191.8L493.5 192.2L494.5 192.1L496 192.6L496.5 192.4L497 192.8L497.5 192.5L498 192.9L499 192.8L499.5 193.6L500 195.1L500.5 194.9L501.5 195.2L502.5 195.1L503 195.6L503.5 195.5L504 195.8L504.5 195.6L505 195.7L505.5 196.2L506 196L507 196.8L508.5 198.6L509.5 199.4L510 200.1L512 209.8L514 214.3L516 217.9L519 228L520.5 229.7L521 229.8L522 230.8L523 231.2L526 234.3L527 234.8L527.5 235.7L528.5 236.3L529.5 237.8L530 237.9L530.5 238.7L532.5 240.5L533.5 240.6L534 241.2L535 241.4L536 242.1L537 242.4L537.5 242.9L538 243L540.5 244.8L541.5 244.9L542 245.4L543.5 245.8L544.5 246.5L545.5 246.6L546 247.2L547.5 247.8L548 248.2L549.5 248.3L550.5 248.8L551 248.6L551.5 249L552 248.8L552.5 249.1L553.5 248.8L554.5 249.1L555.5 249.1L558 249.8L559 250L559.5 249.8L560 250.3L561.5 250.6L562 251L562.5 250.9L563 251.3L563.5 251.2L564 251.6L564.5 251.6L565.5 252.1L566 252.2L566.5 252L567 252.4L567.5 252.3L568.5 252.7L569 252.6L571 253.2L571.5 253.1L572 253.4L572.5 253.3L574 253.8L574.5 253.8L575 254.1L576.5 254.2L577.5 254.6L579.5 254.9L581 254.8L584 253.9L585.5 253.8L586 253.5L587.5 253.2L588 253.4L588.5 253.1L589 253.3L590 253L590.5 252.6L591 252.9L591.5 252.5L592 252.6L592.5 252.5L594.5 251.6L595 251.9L596 251.7L598 251.1L598.5 250.6L599 250.8L599.5 250.5L601.5 250.1L605 247.1L606 246.8L607 246.2L607.5 245.5L608 245.3L609 244.7L609.5 244L612.5 237.9L614.5 234.4L617.5 226.1L618 225.6L618.5 224.7L619 224.4L619.5 223.8L620 223.6L621 222.7L621.5 222L624 219.6L625 218.3L625.5 218.1L626.5 216.8L627.5 216.1L630 213.4L630.5 213.2L633 210.8L634 209.4L636 207.7L636.5 206.8L639 204.7L640 203.3L640.5 203.2L641.5 201.7L642 201.6L643.5 199.8L644.5 199.3L645 198.8L646.5 197.9L647 197.4L647.5 197.1L648 197.2L648.5 197.1L649 197.2L649.5 197.6L650 197.3L650.5 197.5L651.5 197.4L652 197.6L653 197.7L653.5 198L654.5 197.8L655 198.2L656.5 197.6L658.5 197.3L659.5 196.8L660 197L660.5 196.7L661 197L661.5 196.7L662 196.7L662.5 197.1L663.5 196.8L664 197.1L664.5 196.9L666.5 197.2L667 197L667.5 197.1L668.5 196.9L669 197.2L669.5 196.9L670.5 196.8L671 197L671.5 196.8L672 197.1L673 197.3L673.5 196.9L675.5 197L676.5 198.3L677.5 199L679 198.9L679.5 199.2L681.5 198.9L682.5 199.2L683.5 198.9L684 199.2L684.5 199.1L685 198.8L685.5 199.1L686 198.8L686.5 198.8L687 199.2L687.5 199.1L688 198.8L689.5 199.2L690 199L690.5 199.2L691 198.9L693 199.3L695 191.9L695.5 191.2L696 190.9L696.5 191.1L697.5 190.7L698 190.9L698.5 190.7L699.5 190.8L700 191.1L700.5 190.7L701.5 190.6L702 190.7L703 190.5L703.5 190.7L704 190.7L704.5 190.4L705 190.7L705.5 190.3L706 190.6L708 190L709 190.2L709.5 189.8L710.5 190.4L711.5 190.6L712 190.4L713.5 190.7L714 190.6L716.5 191.2L717 191.6L718.5 191.5L721 192.1L721.5 192L722 192.3L723.5 192.1L724.5 192.4L726.5 192L727 192.1L727.5 192.5L728 192.4L730.5 193L732 192.6L733 192.7L734 193.1L735 195.2L736 196.9L736.5 197.4L737.5 198L738 198L739.5 199.4L740 199.3L740.5 200.1L741 200.1L741.5 200.3L742 201L743.5 202L745 202.7L745.5 203.3L746 203.5L747 204.6L749 205.7L750 206.9L751 207.6L751.5 207.8L758 216.3L761 222.6L762 224.4L763 225.3L763.5 225.5L767.5 230L768 230L769 230.9L770.5 231.8L771 231.8L772.5 232.7L773 233.3L775 234.2L776 235.1L777 235.4L778 236.3L778.5 236.2L780.5 237.5L781 237.6L782 238.2L782.5 238.4L783.5 239.2L784.5 239.3L785.5 240.1L786 240.1L788 240.8L789.5 240.8L792.5 241.8L793 241.6L794.5 242.2L795 242.6L795.5 242.6L796 242.9L796.5 242.7L797.5 243.3L798.5 243L799.5 243.2L800 243L801 243.2L802 242.9L802.5 243.2L803 243L805 243.2L805.5 242.8L806 242.9L806.5 242.8L807.5 243L809 242.9L809.5 243.2L811.5 241.2L813 241.5L813.5 241.8L814 241.7L814.5 242L815.5 252L817.5 257.1L818 256.5L818.5 256.3L819 255.5L821.5 253.9L822.5 252.7L824.5 251.2L825.5 250.8L826 250.8L826.5 250.4L827 250.5L827.5 250.3L828 249.7L829 249.3L829.5 248.8L830 248.8L830.5 248.4L832 247.9L832.5 247.5L835 246.7L835.5 246.3L836 246.3L836.5 245.9L837 246L837.5 245.5L838 245.6L838.5 245.3L839.5 245.2L840 245.3L840.5 245L841 245.3L841.5 245.1L843 245.8L844.5 245.6L845.5 246.1L846 246L846.5 246.4L848 246.3L848.5 246.7L849 246.5L850 246.8L851 246.6L853 247.1L853.5 247L855 247.4L855.5 247.6L856 247.5L858 247.7L858.5 248.1L859 247.7L859.5 248.1L860.5 247.6L861.5 247.5L863.5 246.9L865 246.9L866.5 246.4L867.5 246.5L868.5 246.1L870 246.1L870.5 245.9L871 246L871.5 245.8L872 246.1L873.5 245.7L874.5 245.8L876 245.3L876.5 245.7L878 245.7L879.5 245.2L881 245.4L882 245.1L883 245.1" fill="none" stroke="#fff" stroke-opacity="0.28" stroke-width="0.6"/>
<path d="M132 50L152.5 50L153.5 50.3L155 50L156.5 50L157 50.2L157.5 50L158.5 50.1L159 50L159.5 50.3L160 50.1L160.5 50.3L161.5 50L163 50.1L169 97.9L178.5 143.4L179.5 147.3L180 150.2L181 152.9L184 162.9L185 164.2L185.5 165.5L186 165.9L186.5 167.2L188.5 169.5L189 169.5L189.5 170.2L190 170.1L190.5 170.6L191 170.6L191.5 171.1L192 170.8L192.5 171.4L193.5 171.5L194 172.1L194.5 172L195 171.6L196 171.7L196.5 171.3L197 171.5L198.5 170.8L200 170.9L200.5 170.3L201 170.9L201.5 170.8L202 170.1L202.5 170.1L203 170.4L203.5 169.9L205 169.2L205.5 169.6L206 169.6L206.5 169L207 169.3L207.5 169.2L208 168.9L208.5 169.1L209 168.7L210 168.6L210.5 168.2L211 167.5L211.5 168L212 167.5L214.5 167.5L215 168L215.5 167.6L216 167.8L216.5 168.4L218 168.7L219 170.2L219.5 170.1L220.5 171.5L221.5 172.5L222.5 172.8L223.5 174.2L225 175.5L225.5 176.4L226 176.8L226.5 176.7L227 177.6L229.5 179.9L230 180.9L232 182.6L232.5 183.4L234 184.9L235 186.5L235.5 187L236 187.1L236.5 187.8L237 188L238 188.3L238.5 188.2L239.5 188.3L240 188.6L240.5 188.1L241 188.4L241.5 187.6L242 187.9L242.5 187.7L243 187.7L243.5 186.7L244.5 186.6L245.5 185.6L247 177.2L248.5 170.3L249 169.7L250 170.2L251 169.8L252 170.7L252.5 172.2L254 174.4L255.5 177.3L256 176.8L256.5 177.7L257.5 177.4L258.5 178.1L259.5 178.3L260 179L260.5 178.6L262 179.2L263.5 178.9L265.5 180.4L266 180.2L267 180.8L268 180.9L268.5 180.3L269 180.9L269.5 181.2L270 180.9L270.5 181.4L271.5 181.9L272 181.9L272.5 181.4L273 181.8L273.5 181.8L274 181.4L274.5 182.1L276.5 181.8L277.5 182.8L278 182.5L279.5 183.6L280.5 183.7L282 184.4L282.5 184.5L283 185.1L284.5 185.5L285 186.3L286 186.7L286.5 186.5L287.5 187.9L289.5 198.7L290 201L290.5 202L292 203.4L292.5 204.6L293 205.1L293.5 205L294.5 205.8L295.5 205.7L296 206.3L296.5 205.7L297.5 206.3L298 205.9L298.5 206L299.5 205.7L301 206.8L302.5 208.7L303 209.1L303.5 209.2L304 209.8L308 229.8L309 233.3L309.5 234.3L310 236.5L311 238.8L312 242.5L312.5 242.2L314.5 242.3L315.5 243.2L316 242.8L316.5 243.1L317 243.1L317.5 243.7L318 243.5L319 243.9L319.5 243.5L320 243.7L320.5 243.5L321 243.6L322 243.1L322.5 243L323 243.3L324.5 243.4L325 243.1L326 243.6L326.5 243.7L327 243.3L327.5 243.4L328 243L328.5 243.3L329.5 242.7L330 242.7L330.5 243.4L331 243.4L332 244.4L333.5 245.5L334 246.3L334.5 246.1L335 246.6L335.5 246.5L336 246.7L336.5 247.6L337 247.3L338.5 248.9L339 249L340 249.9L341 248.9L342.5 249.7L343 249.5L343.5 250L344 249.8L344.5 249.1L345.5 248.8L346 249L347 249L347.5 248.7L348 249.2L349 248.8L349.5 248.9L350.5 248.5L351 248.6L351.5 248.2L352 248.3L352.5 247.9L353.5 248.6L354.5 244.1L356 235.9L357 235.9L357.5 236.4L358 236.3L359 235.6L359.5 235.8L360.5 235.3L361.5 235.6L362 235.3L362.5 235.5L363 235.1L363.5 235.7L364 235.2L364.5 235.2L365 235.6L367 234.8L367.5 235.4L368 235.2L368.5 234.7L369 235L371 234.6L371.5 234.8L372.5 234.6L373 234.1L373.5 234.4L374.5 234.2L375 234.4L375.5 233.8L376 234L377 233.2L377.5 233.3L378 233L379 233.1L379.5 232.3L381.5 232.6L383 231.8L383.5 231.7L384 231.8L385 231.5L386 230.6L386.5 230.7L387.5 229.8L390 223.8L390.5 223.3L391 221.3L391.5 220.1L392 220.1L392.5 219L393 219.3L394 218.6L394.5 218.7L395 218.1L395.5 218.4L396 218.1L397 217L397.5 217L398.5 216.1L400 215.9L401 215.3L405 215.3L406.5 214.2L407 214.8L408 214.9L409 214.1L409.5 214.1L410 214.5L411 214.7L411.5 214.6L412.5 215.5L413 215.3L413.5 216L414 215.6L414.5 216.1L415.5 215.8L416.5 217.5L418 221.1L418.5 221.6L419.5 223.8L420 224.4L420.5 224.1L421 224.9L421.5 224.6L422.5 225.6L423 225.6L424.5 226.8L425 226.5L425.5 227.2L426 227.4L426.5 227.1L427.5 228.3L429 228.8L430 229.6L430.5 229.7L431 229.6L432.5 230.9L433 230.8L434 231.7L434.5 231.5L435.5 232.7L436 232.3L437 233.4L437.5 233.2L438 233.3L438.5 233.7L439 233.4L439.5 233.4L440.5 234.8L441.5 234.6L443 235.6L444 235.9L444.5 235.5L445 236L446 236.3L446.5 236.8L447.5 236.9L449.5 240.6L450 242.3L451 244.2L453.5 252.6L454.5 265.4L456.5 279.3L459 285.9L459.5 286.5L460 288.1L460.5 289.1L462.5 291.3L463 292.4L463.5 292.9L464 293.7L464.5 294L465 294.9L465.5 295.1L466 295.8L466.5 295.5L467 296.1L467.5 296L469 297.6L469.5 297.4L470 297.9L470.5 297.8L471 298L473 299.4L474 299.8L474.5 300.7L475 300.4L475.5 301L476 300.6L476.5 301L477 301L479 302.9L479.5 302.7L480.5 302.7L481.5 303.6L482.5 303.7L483 304.2L483.5 304L485 304.5L485.5 305L486 304.7L486.5 304.9L487 305.6L488 305.7L489 306.6L489.5 306.2L490.5 307.2L491 306.9L492 307.6L492.5 307.7L493 307.8L493.5 307.5L494 307.5L494.5 307.9L495.5 307.7L496.5 308.3L497 309.1L497.5 308.5L498 308.9L499.5 309.2L500.5 309.2L501 309.6L502.5 309.6L503 310.4L503.5 310.4L504 310L504.5 310.6L505 310.3L505.5 310.7L506.5 310.7L507.5 311.1L508.5 311.8L510 311.9L511.5 313L512 313.1L513 312.9L514 313.3L515 314L515.5 314.3L516 314.3L516.5 314.9L518.5 315.9L519 315.9L519.5 316.2L520 315.9L520.5 316.1L521 315.4L521.5 315.6L522 315.5L522.5 315L523 315.4L523.5 315.4L524 314.8L524.5 314.8L525 315L526.5 314.8L527 314.2L527.5 314L528.5 314.6L529 314.1L529.5 314.3L530.5 313.5L531.5 313.5L532.5 313.2L533 312.8L533.5 313.4L534 313L534.5 312.9L535 313.2L536 312.5L536.5 312.9L537 312.4L538.5 312.1L539 312.5L539.5 312.2L540 312.3L541 311.7L541.5 311.9L542 311.2L543 311L544 310.2L545 310.4L545.5 310.2L546.5 310.5L547 309.9L547.5 310.3L548 310L548.5 309.1L549 309.4L549.5 309.2L551 309.4L552 308.8L552.5 308.9L553 309.2L553.5 308.9L554 308.9L555 308.4L556 308.2L557 308.3L558 308L558.5 308.4L559 308.4L560.5 307.7L562.5 307.5L563 307.9L563.5 307.5L564 307.6L564.5 307.1L565 307.1L565.5 307.7L566 307.4L567.5 307.4L568 307.7L568.5 307.4L569 307.7L571 306.5L572.5 306.5L573 306.9L574 306.2L574.5 306.6L575 306.7L575.5 306.1L576 306.2L576.5 305.8L577 306.3L577.5 305.7L578 305.9L578.5 305.4L579 306.1L579.5 305.7L580 306.2L581 305.9L582 305.3L582.5 305.7L583 305.3L583.5 305.7L584 305.3L584.5 305.5L585 304.9L585.5 305.3L587 304.6L588 305.3L588.5 304.9L589 305.5L590.5 304.7L591.5 305.1L592 304.7L594 305.1L594.5 304.6L595.5 304.6L596 304.2L596.5 304.1L597.5 304.2L598 304L598.5 304.4L599 303.9L599.5 304.2L601 303.4L601.5 304L602 303.9L602.5 304.2L603 303.5L603.5 304L604 303.7L605 303.7L605.5 303.3L606 303.7L606.5 303.1L607.5 302.6L608 303.1L608.5 303L609 303.3L609.5 303.2L610 302.7L611 303.2L611.5 303.1L612 302.6L612.5 302.8L613 302.5L613.5 302.9L614.5 302L615 302.3L615.5 301.5L616 301.3L617 301.4L617.5 300.9L618 298.8L621.5 281.9L623.5 264L624 263.3L627 257.1L628 255.9L628.5 255.6L629.5 253.8L632.5 250.1L633.5 247.8L634.5 246.3L636 242.9L636.5 242.4L637.5 240.1L638.5 238.9L639.5 237.1L640 237.2L641 235.5L641.5 235.2L643 233.1L645 232.1L645.5 232.2L646 231.5L647 231.1L647.5 230.6L648 230.8L649 229.6L649.5 229.9L650 229.4L650.5 229.4L651.5 229L653 229.4L653.5 229.3L654 229.6L654.5 229.7L655.5 229.1L656 229.2L656.5 229.7L657 229.7L657.5 230L658 229.5L659 229.6L659.5 230L660 230.1L661 229.3L661.5 229.5L662.5 230.3L663 230.4L663.5 230.3L664 231L664.5 230.6L665 231L665.5 231.8L666 231.7L666.5 232L668 233.6L669 234.4L669.5 234.5L670 234.9L670.5 235.6L671.5 236.2L672 237.9L672.5 238.7L675 244.8L677 251.5L678 253L678.5 253L679.5 254.5L680 254.4L681.5 256.5L682 256.6L683.5 258.1L684 258.9L684.5 259.3L685 260.3L686 261.2L686.5 262.2L687 262.6L687.5 263.9L688 264.4L688.5 264.7L689 266L691 268.5L692.5 271.6L693 272.1L693.5 273.2L694.5 274.3L695 274.5L695.5 275.6L697.5 276.6L698 277.6L698.5 277.9L699 278.5L700.5 281L703.5 287.2L704 287.7L705.5 290.2L706.5 291.2L707.5 292.7L708 293L709 294.4L709.5 295.6L710 296.1L710.5 296.2L711.5 297.1L714 298L714.5 298.8L715.5 299.2L716 299.9L716.5 299.9L717.5 301.2L718 300.9L719 301.8L719.5 301.5L720 302.3L721 301.9L722.5 300.9L724.5 300.6L725.5 300.2L726 300.5L727 299.6L727.5 299.8L729.5 297.7L730 297.6L730.5 296.4L731 296L731.5 296.1L732 295.5L732.5 295.4L733.5 294.1L734.5 293.7L735.5 292.8L736 293.1L737 292.8L738 292.9L738.5 292.4L739 292.4L739.5 292.3L740 291.7L740.5 292.1L741 291.8L742.5 291.7L743 291.2L743.5 291.6L744.5 291L745 290.4L745.5 290.4L746 290.7L747 290L747.5 289.9L748 289.5L748.5 290L749.5 289.4L750 289.7L750.5 289.5L751 289.7L751.5 288.8L752 288.4L752.5 288.6L753.5 287.9L754 289.7L755.5 301.9L756 304L756.5 304.3L757 305.2L757.5 305.2L758.5 306.4L759 306.2L759.5 306.5L760 307.3L761 306.7L762.5 306.9L763 306.6L763.5 306.9L764 306.5L764.5 306.6L765.5 306.1L766 306.5L767.5 306.8L768 306.3L768.5 306.6L769 306.3L769.5 305.8L770.5 306.4L771 306L771.5 306.6L772.5 307.2L773 307L774 307.2L774.5 307.6L775 307L775.5 307.2L777.5 307.3L778.5 308.2L779 307.8L779.5 308.1L780.5 309.1L784.5 312.3L785.5 313.4L788.5 317.5L789 317.4L789.5 317.8L790.5 319.2L791 319.2L792 320.5L792.5 320.8L793.5 320.7L794 321.3L794.5 321.6L795.5 322.9L796.5 322.8L797 323L798 324L799 323.7L799.5 323.8L800 324.5L802 324.4L803 324.8L804 324.6L804.5 324.3L805 324.3L805.5 324L806 324.2L807 323.4L807.5 323.5L808 322.9L808.5 323L809.5 322.5L810.5 321L813 318.1L813.5 317.9L814.5 317.1L815 316.2L815.5 316.1L816.5 313.1L818 310.1L818.5 308.4L820 305.3L820.5 304.9L822.5 301.6L823 301.4L824 299.8L824.5 299.6L825 298.4L827 296.8L828 296.5L828.5 295.7L829 296L829.5 295.2L830.5 295.2L833 293L833.5 293.4L834 292.6L834.5 292.9L835 291.9L835.5 292L836 291.6L836.5 291.8L837.5 291.1L838 291.3L838.5 290.8L839 290.8L839.5 290.5L840.5 290.2L841 290.5L842 289.6L843 289.4L843.5 288.8L844 288.5L844.5 288.9L845 288.9L845.5 288.2L846 288.7L847 288.1L847.5 288.4L848.5 287.6L850 287.7L850.5 287.6L851 287.1L851.5 287.2L852 286.9L852.5 287.1L853 287.2L853.5 287.1L854 286.7L856 286.6L857 286.3L857.5 285.9L859 286.3L860 286.1L860.5 286.3L861.5 286.2L862 286.4L862.5 286.2L864 286.4L864.5 286.2L865.5 286.8L866 287.3L866.5 286.9L867 287.2L867.5 287.2L868 286.9L868.5 287.4L869 287.1L871 288.4L872.5 288.2L873 288.9L873.5 289.2L874 289L874.5 290L875.5 290.1L876 291.7L876.5 292.3L877 293.5L877.5 294L878 295.5L879.5 298.4L883 310.3L884 487L132 487Z" fill="#fef1b0"/>
<path d="M132 50L152.5 50L153.5 50.3L155 50L156.5 50L157 50.2L157.5 50L158.5 50.1L159 50L159.5 50.3L160 50.1L160.5 50.3L161.5 50L163 50.1L169 97.9L178.5 143.4L179.5 147.3L180 150.2L181 152.9L184 162.9L185 164.2L185.5 165.5L186 165.9L186.5 167.2L188.5 169.5L189 169.5L189.5 170.2L190 170.1L190.5 170.6L191 170.6L191.5 171.1L192 170.8L192.5 171.4L193.5 171.5L194 172.1L194.5 172L195 171.6L196 171.7L196.5 171.3L197 171.5L198.5 170.8L200 170.9L200.5 170.3L201 170.9L201.5 170.8L202 170.1L202.5 170.1L203 170.4L203.5 169.9L205 169.2L205.5 169.6L206 169.6L206.5 169L207 169.3L207.5 169.2L208 168.9L208.5 169.1L209 168.7L210 168.6L210.5 168.2L211 167.5L211.5 168L212 167.5L214.5 167.5L215 168L215.5 167.6L216 167.8L216.5 168.4L218 168.7L219 170.2L219.5 170.1L220.5 171.5L221.5 172.5L222.5 172.8L223.5 174.2L225 175.5L225.5 176.4L226 176.8L226.5 176.7L227 177.6L229.5 179.9L230 180.9L232 182.6L232.5 183.4L234 184.9L235 186.5L235.5 187L236 187.1L236.5 187.8L237 188L238 188.3L238.5 188.2L239.5 188.3L240 188.6L240.5 188.1L241 188.4L241.5 187.6L242 187.9L242.5 187.7L243 187.7L243.5 186.7L244.5 186.6L245.5 185.6L247 177.2L248.5 170.3L249 169.7L250 170.2L251 169.8L252 170.7L252.5 172.2L254 174.4L255.5 177.3L256 176.8L256.5 177.7L257.5 177.4L258.5 178.1L259.5 178.3L260 179L260.5 178.6L262 179.2L263.5 178.9L265.5 180.4L266 180.2L267 180.8L268 180.9L268.5 180.3L269 180.9L269.5 181.2L270 180.9L270.5 181.4L271.5 181.9L272 181.9L272.5 181.4L273 181.8L273.5 181.8L274 181.4L274.5 182.1L276.5 181.8L277.5 182.8L278 182.5L279.5 183.6L280.5 183.7L282 184.4L282.5 184.5L283 185.1L284.5 185.5L285 186.3L286 186.7L286.5 186.5L287.5 187.9L289.5 198.7L290 201L290.5 202L292 203.4L292.5 204.6L293 205.1L293.5 205L294.5 205.8L295.5 205.7L296 206.3L296.5 205.7L297.5 206.3L298 205.9L298.5 206L299.5 205.7L301 206.8L302.5 208.7L303 209.1L303.5 209.2L304 209.8L308 229.8L309 233.3L309.5 234.3L310 236.5L311 238.8L312 242.5L312.5 242.2L314.5 242.3L315.5 243.2L316 242.8L316.5 243.1L317 243.1L317.5 243.7L318 243.5L319 243.9L319.5 243.5L320 243.7L320.5 243.5L321 243.6L322 243.1L322.5 243L323 243.3L324.5 243.4L325 243.1L326 243.6L326.5 243.7L327 243.3L327.5 243.4L328 243L328.5 243.3L329.5 242.7L330 242.7L330.5 243.4L331 243.4L332 244.4L333.5 245.5L334 246.3L334.5 246.1L335 246.6L335.5 246.5L336 246.7L336.5 247.6L337 247.3L338.5 248.9L339 249L340 249.9L341 248.9L342.5 249.7L343 249.5L343.5 250L344 249.8L344.5 249.1L345.5 248.8L346 249L347 249L347.5 248.7L348 249.2L349 248.8L349.5 248.9L350.5 248.5L351 248.6L351.5 248.2L352 248.3L352.5 247.9L353.5 248.6L354.5 244.1L356 235.9L357 235.9L357.5 236.4L358 236.3L359 235.6L359.5 235.8L360.5 235.3L361.5 235.6L362 235.3L362.5 235.5L363 235.1L363.5 235.7L364 235.2L364.5 235.2L365 235.6L367 234.8L367.5 235.4L368 235.2L368.5 234.7L369 235L371 234.6L371.5 234.8L372.5 234.6L373 234.1L373.5 234.4L374.5 234.2L375 234.4L375.5 233.8L376 234L377 233.2L377.5 233.3L378 233L379 233.1L379.5 232.3L381.5 232.6L383 231.8L383.5 231.7L384 231.8L385 231.5L386 230.6L386.5 230.7L387.5 229.8L390 223.8L390.5 223.3L391 221.3L391.5 220.1L392 220.1L392.5 219L393 219.3L394 218.6L394.5 218.7L395 218.1L395.5 218.4L396 218.1L397 217L397.5 217L398.5 216.1L400 215.9L401 215.3L405 215.3L406.5 214.2L407 214.8L408 214.9L409 214.1L409.5 214.1L410 214.5L411 214.7L411.5 214.6L412.5 215.5L413 215.3L413.5 216L414 215.6L414.5 216.1L415.5 215.8L416.5 217.5L418 221.1L418.5 221.6L419.5 223.8L420 224.4L420.5 224.1L421 224.9L421.5 224.6L422.5 225.6L423 225.6L424.5 226.8L425 226.5L425.5 227.2L426 227.4L426.5 227.1L427.5 228.3L429 228.8L430 229.6L430.5 229.7L431 229.6L432.5 230.9L433 230.8L434 231.7L434.5 231.5L435.5 232.7L436 232.3L437 233.4L437.5 233.2L438 233.3L438.5 233.7L439 233.4L439.5 233.4L440.5 234.8L441.5 234.6L443 235.6L444 235.9L444.5 235.5L445 236L446 236.3L446.5 236.8L447.5 236.9L449.5 240.6L450 242.3L451 244.2L453.5 252.6L454.5 265.4L456.5 279.3L459 285.9L459.5 286.5L460 288.1L460.5 289.1L462.5 291.3L463 292.4L463.5 292.9L464 293.7L464.5 294L465 294.9L465.5 295.1L466 295.8L466.5 295.5L467 296.1L467.5 296L469 297.6L469.5 297.4L470 297.9L470.5 297.8L471 298L473 299.4L474 299.8L474.5 300.7L475 300.4L475.5 301L476 300.6L476.5 301L477 301L479 302.9L479.5 302.7L480.5 302.7L481.5 303.6L482.5 303.7L483 304.2L483.5 304L485 304.5L485.5 305L486 304.7L486.5 304.9L487 305.6L488 305.7L489 306.6L489.5 306.2L490.5 307.2L491 306.9L492 307.6L492.5 307.7L493 307.8L493.5 307.5L494 307.5L494.5 307.9L495.5 307.7L496.5 308.3L497 309.1L497.5 308.5L498 308.9L499.5 309.2L500.5 309.2L501 309.6L502.5 309.6L503 310.4L503.5 310.4L504 310L504.5 310.6L505 310.3L505.5 310.7L506.5 310.7L507.5 311.1L508.5 311.8L510 311.9L511.5 313L512 313.1L513 312.9L514 313.3L515 314L515.5 314.3L516 314.3L516.5 314.9L518.5 315.9L519 315.9L519.5 316.2L520 315.9L520.5 316.1L521 315.4L521.5 315.6L522 315.5L522.5 315L523 315.4L523.5 315.4L524 314.8L524.5 314.8L525 315L526.5 314.8L527 314.2L527.5 314L528.5 314.6L529 314.1L529.5 314.3L530.5 313.5L531.5 313.5L532.5 313.2L533 312.8L533.5 313.4L534 313L534.5 312.9L535 313.2L536 312.5L536.5 312.9L537 312.4L538.5 312.1L539 312.5L539.5 312.2L540 312.3L541 311.7L541.5 311.9L542 311.2L543 311L544 310.2L545 310.4L545.5 310.2L546.5 310.5L547 309.9L547.5 310.3L548 310L548.5 309.1L549 309.4L549.5 309.2L551 309.4L552 308.8L552.5 308.9L553 309.2L553.5 308.9L554 308.9L555 308.4L556 308.2L557 308.3L558 308L558.5 308.4L559 308.4L560.5 307.7L562.5 307.5L563 307.9L563.5 307.5L564 307.6L564.5 307.1L565 307.1L565.5 307.7L566 307.4L567.5 307.4L568 307.7L568.5 307.4L569 307.7L571 306.5L572.5 306.5L573 306.9L574 306.2L574.5 306.6L575 306.7L575.5 306.1L576 306.2L576.5 305.8L577 306.3L577.5 305.7L578 305.9L578.5 305.4L579 306.1L579.5 305.7L580 306.2L581 305.9L582 305.3L582.5 305.7L583 305.3L583.5 305.7L584 305.3L584.5 305.5L585 304.9L585.5 305.3L587 304.6L588 305.3L588.5 304.9L589 305.5L590.5 304.7L591.5 305.1L592 304.7L594 305.1L594.5 304.6L595.5 304.6L596 304.2L596.5 304.1L597.5 304.2L598 304L598.5 304.4L599 303.9L599.5 304.2L601 303.4L601.5 304L602 303.9L602.5 304.2L603 303.5L603.5 304L604 303.7L605 303.7L605.5 303.3L606 303.7L606.5 303.1L607.5 302.6L608 303.1L608.5 303L609 303.3L609.5 303.2L610 302.7L611 303.2L611.5 303.1L612 302.6L612.5 302.8L613 302.5L613.5 302.9L614.5 302L615 302.3L615.5 301.5L616 301.3L617 301.4L617.5 300.9L618 298.8L621.5 281.9L623.5 264L624 263.3L627 257.1L628 255.9L628.5 255.6L629.5 253.8L632.5 250.1L633.5 247.8L634.5 246.3L636 242.9L636.5 242.4L637.5 240.1L638.5 238.9L639.5 237.1L640 237.2L641 235.5L641.5 235.2L643 233.1L645 232.1L645.5 232.2L646 231.5L647 231.1L647.5 230.6L648 230.8L649 229.6L649.5 229.9L650 229.4L650.5 229.4L651.5 229L653 229.4L653.5 229.3L654 229.6L654.5 229.7L655.5 229.1L656 229.2L656.5 229.7L657 229.7L657.5 230L658 229.5L659 229.6L659.5 230L660 230.1L661 229.3L661.5 229.5L662.5 230.3L663 230.4L663.5 230.3L664 231L664.5 230.6L665 231L665.5 231.8L666 231.7L666.5 232L668 233.6L669 234.4L669.5 234.5L670 234.9L670.5 235.6L671.5 236.2L672 237.9L672.5 238.7L675 244.8L677 251.5L678 253L678.5 253L679.5 254.5L680 254.4L681.5 256.5L682 256.6L683.5 258.1L684 258.9L684.5 259.3L685 260.3L686 261.2L686.5 262.2L687 262.6L687.5 263.9L688 264.4L688.5 264.7L689 266L691 268.5L692.5 271.6L693 272.1L693.5 273.2L694.5 274.3L695 274.5L695.5 275.6L697.5 276.6L698 277.6L698.5 277.9L699 278.5L700.5 281L703.5 287.2L704 287.7L705.5 290.2L706.5 291.2L707.5 292.7L708 293L709 294.4L709.5 295.6L710 296.1L710.5 296.2L711.5 297.1L714 298L714.5 298.8L715.5 299.2L716 299.9L716.5 299.9L717.5 301.2L718 300.9L719 301.8L719.5 301.5L720 302.3L721 301.9L722.5 300.9L724.5 300.6L725.5 300.2L726 300.5L727 299.6L727.5 299.8L729.5 297.7L730 297.6L730.5 296.4L731 296L731.5 296.1L732 295.5L732.5 295.4L733.5 294.1L734.5 293.7L735.5 292.8L736 293.1L737 292.8L738 292.9L738.5 292.4L739 292.4L739.5 292.3L740 291.7L740.5 292.1L741 291.8L742.5 291.7L743 291.2L743.5 291.6L744.5 291L745 290.4L745.5 290.4L746 290.7L747 290L747.5 289.9L748 289.5L748.5 290L749.5 289.4L750 289.7L750.5 289.5L751 289.7L751.5 288.8L752 288.4L752.5 288.6L753.5 287.9L754 289.7L755.5 301.9L756 304L756.5 304.3L757 305.2L757.5 305.2L758.5 306.4L759 306.2L759.5 306.5L760 307.3L761 306.7L762.5 306.9L763 306.6L763.5 306.9L764 306.5L764.5 306.6L765.5 306.1L766 306.5L767.5 306.8L768 306.3L768.5 306.6L769 306.3L769.5 305.8L770.5 306.4L771 306L771.5 306.6L772.5 307.2L773 307L774 307.2L774.5 307.6L775 307L775.5 307.2L777.5 307.3L778.5 308.2L779 307.8L779.5 308.1L780.5 309.1L784.5 312.3L785.5 313.4L788.5 317.5L789 317.4L789.5 317.8L790.5 319.2L791 319.2L792 320.5L792.5 320.8L793.5 320.7L794 321.3L794.5 321.6L795.5 322.9L796.5 322.8L797 323L798 324L799 323.7L799.5 323.8L800 324.5L802 324.4L803 324.8L804 324.6L804.5 324.3L805 324.3L805.5 324L806 324.2L807 323.4L807.5 323.5L808 322.9L808.5 323L809.5 322.5L810.5 321L813 318.1L813.5 317.9L814.5 317.1L815 316.2L815.5 316.1L816.5 313.1L818 310.1L818.5 308.4L820 305.3L820.5 304.9L822.5 301.6L823 301.4L824 299.8L824.5 299.6L825 298.4L827 296.8L828 296.5L828.5 295.7L829 296L829.5 295.2L830.5 295.2L833 293L833.5 293.4L834 292.6L834.5 292.9L835 291.9L835.5 292L836 291.6L836.5 291.8L837.5 291.1L838 291.3L838.5 290.8L839 290.8L839.5 290.5L840.5 290.2L841 290.5L842 289.6L843 289.4L843.5 288.8L844 288.5L844.5 288.9L845 288.9L845.5 288.2L846 288.7L847 288.1L847.5 288.4L848.5 287.6L850 287.7L850.5 287.6L851 287.1L851.5 287.2L852 286.9L852.5 287.1L853 287.2L853.5 287.1L854 286.7L856 286.6L857 286.3L857.5 285.9L859 286.3L860 286.1L860.5 286.3L861.5 286.2L862 286.4L862.5 286.2L864 286.4L864.5 286.2L865.5 286.8L866 287.3L866.5 286.9L867 287.2L867.5 287.2L868 286.9L868.5 287.4L869 287.1L871 288.4L872.5 288.2L873 288.9L873.5 289.2L874 289L874.5 290L875.5 290.1L876 291.7L876.5 292.3L877 293.5L877.5 294L878 295.5L879.5 298.4L883 310.3" fill="none" stroke="#fff" stroke-opacity="0.28" stroke-width="0.6"/>
<path d="M117 50L132 50L138 150L150 264.1L153 289.8L154 296.6L155.5 299.7L156 300.4L157 302.8L157.5 303.4L158 303.4L158.5 303.7L159.5 301.9L160 301.7L160.5 301.1L161 301.1L162 299.7L162.5 297.8L163.5 295.4L164.5 291.4L165 290.3L165.5 288.4L166 287.1L169.5 270.9L170 269.6L171 267.8L172 266.4L172.5 266.5L173 265.3L173.5 265.6L174 264.7L174.5 264.2L175 262.2L175.5 262.6L176.5 260.9L177 258.7L177.5 258.8L178.5 255.5L179 255.7L179.5 253.6L180 254.1L181 253.3L181.5 253.4L182 254L183 252.7L184 253.6L184.5 252.8L185 252.6L185.5 252.7L186 252.5L186.5 253.9L187.5 253.3L188.5 254.2L189.5 254.5L190 255.5L190.5 254.3L191.5 255.7L192 256.1L192.5 255.7L193 255.8L193.5 255.5L194 257.7L194.5 258.9L195.5 260.3L196.5 264.1L197 264.9L197.5 266.5L199 270.2L199.5 271.9L200 272.3L201 275.6L201.5 275.9L202 276L202.5 273.7L203 272.5L203.5 271.9L204 269.3L204.5 269.1L205 267.8L205.5 265.6L206 265.1L206.5 265.7L207 265.5L207.5 265.1L208 264.3L208.5 264.1L209 264.2L210 262.2L210.5 262.9L211.5 260.7L212 260L212.5 259.9L213 259.2L213.5 260.3L214 260.4L214.5 259.3L215 260.5L216 259.8L216.5 260L217 259.9L217.5 259.3L218 260.3L219 259.3L221 264.2L221.5 264.8L222 266.8L223.5 270.7L224.5 272.6L225 274.7L225.5 275.9L226 275.8L226.5 274.5L227 274.9L227.5 274.8L228 273.8L229.5 273L230 271.3L231 270.6L231.5 271.5L232 270.9L233 271.3L234 271L234.5 271.7L235 271.6L235.5 270.8L236.5 271.7L237 271.6L237.5 272.1L238 272.3L238.5 271.7L239 272.5L239.5 272.8L240 270.7L241 268.7L241.5 266.2L242.5 264.1L243 263.5L243.5 262.3L244 259.9L245 256.4L246 253.8L246.5 250.4L248.5 226.4L249 226.9L250 226.7L250.5 227L251.5 226.5L252.5 227.2L253 228.1L253.5 227.5L254.5 228.2L255 228L255.5 227.4L256 227.7L257 227.6L257.5 227.8L258 226.7L258.5 227.7L259 227.5L260 248.2L260.5 247.9L261.5 248L262 246.9L262.5 247.7L263 248.1L263.5 247.7L264 246.7L264.5 248.2L265 247.5L265.5 247.2L266.5 248.2L267 247.5L267.5 247.6L268 247.9L269 246.9L269.5 247.7L270 249.2L270.5 249L271.5 250.7L272 250.4L273 251.9L274 256.8L274.5 261.8L275 264.4L277.5 283.4L279 290.5L280.5 299.6L281 301.4L281.5 304.6L282 304.3L283 305.9L284 306.4L286 309.7L286.5 309.3L287.5 310.1L288 310.1L289 310.9L290 310.3L290.5 310.9L291.5 310.7L292 310L292.5 309.8L293 309.1L293.5 309.8L294 308.6L294.5 308.9L295 309.9L295.5 309.9L296 308.8L296.5 309.7L297 308.5L297.5 308.4L299 308.6L299.5 307.6L300 307.8L300.5 307.4L302 304.1L302.5 306.2L303 307.3L303.5 309.2L304 309.3L304.5 309.1L306 311.2L306.5 310.6L307.5 312.5L309 314.7L309.5 314.3L310 314.1L310.5 313.4L311 313.4L311.5 312.5L312 311.9L312.5 311.7L313.5 310.2L314 310.6L314.5 310.3L316 308.6L316.5 308.5L317 307.7L317.5 307.9L318 306.8L319 306.5L319.5 306.7L320 305.9L320.5 305.8L321 306.1L321.5 306.1L322 305.1L323 305.5L323.5 306L324 305L324.5 304.7L325.5 304.7L326.5 305.7L327.5 305.1L328 305.9L329 304.6L329.5 305.1L330.5 304.5L331 305.5L331.5 305.1L332 303.9L332.5 304.6L333 303.7L333.5 303.7L334 303L334.5 302.8L335 303L335.5 303.8L336 303.8L336.5 303.1L337 303.6L337.5 303.5L338 303.6L339.5 301.8L341.5 305L342 306.2L342.5 306L343 307.1L344 308L344.5 310L345 310.6L345.5 311.7L346 311.7L346.5 310.4L347 310.4L347.5 309.5L348 307.8L348.5 307.8L349.5 306.5L350.5 304.2L351 304L351.5 302.6L352 301.7L355.5 280.1L356 278L356.5 277L357 277.4L357.5 275.8L358.5 275.1L359.5 272.7L360 272.7L360.5 271.3L361 271.9L362 272.7L362.5 272.2L363 272.1L363.5 271.8L364 271.9L364.5 271.2L365 271.7L365.5 271.3L366.5 271.1L367 270.8L367.5 271.4L368 271.1L368.5 271.7L369 270.7L369.5 271L370 272.1L371 273L371.5 273.3L372 272.8L372.5 273.6L373 274L373.5 273.8L374 274.9L375.5 274L376 275.6L376.5 275.8L377 275.5L377.5 276.8L378 276.4L379 277.8L379.5 277.9L380 278.4L380.5 280.9L381 282.7L382 285.3L383 289.6L386 303.3L387.5 311.2L388 312L388.5 313.8L389 314.6L389.5 314.7L390.5 318.1L391 319.4L392 319.8L393 315.3L394 313.1L394.5 311.2L395 310.3L395.5 307.8L396.5 304.5L398.5 296.6L399.5 291.6L400 289.8L401 287.6L401.5 287.8L402.5 285.8L404 281.7L404.5 281.6L405 279.8L405.5 279.2L408 274.7L408.5 274.1L409 274L409.5 272.8L410.5 271.5L412 269.7L412.5 269.9L413 269.4L413.5 270.3L414 270.2L415 269.3L415.5 269.1L416 270.8L417 272L417.5 273.6L419 276.3L421 286.6L422.5 295.5L423 299.7L425.5 312L426.5 317.8L427 319L427.5 322.1L429 325.8L429.5 327.8L430 327.8L431 330.7L431.5 333L432 333.2L433 335.4L433.5 334.9L434.5 338.1L436 340.8L436.5 343.1L437 344.4L438 345.9L439 348L439.5 349.6L440 350.4L440.5 350.9L441.5 352.7L442 352.6L443 355.1L443.5 355.3L444 355L444.5 354.3L445 354.2L445.5 353.9L446.5 354.2L447 353.9L447.5 354.6L448 354.8L448.5 355.4L449 355L449.5 354.9L450 354.6L450.5 354.6L451 353.8L452 355.1L452.5 354.1L453.5 354.4L454 354.9L454.5 354.2L455 354.8L455.5 354.3L456 355L456.5 355.1L457 354.5L457.5 355.7L458.5 355L459 355.7L460 354.3L460.5 354.3L461 353.7L462 354.5L462.5 355.2L463 354.1L463.5 355L464.5 354.2L465 354L465.5 355.3L466 355.2L466.5 354.7L467 354.8L468.5 354L469 355.1L470.5 354.4L471 355.4L471.5 355.5L472 354.1L473 355L473.5 354.7L474 353.8L474.5 353.8L475 354.2L475.5 354.1L476 354.9L477 353.9L477.5 353.7L478 354.3L478.5 354L479 353L479.5 353.2L480.5 355.1L481.5 355.7L482 355.5L482.5 356.6L483 356.8L484 358.3L484.5 358.7L485.5 358.2L486 359.5L487 359.7L487.5 360.2L488 361.9L488.5 361.6L489.5 364.1L490.5 364.8L491.5 367.4L492 367.5L492.5 369.4L493 369.4L493.5 370.8L494 370.8L494.5 370.3L495 370.7L495.5 370.8L496.5 369.8L497.5 370.9L498 370.9L498.5 371.8L499 372.3L499.5 372.1L500 372.2L500.5 373.3L502 380.1L502.5 379.4L503 380.7L504 381.3L504.5 381.1L505 380.5L505.5 381.4L506.5 381.6L507 380.5L507.5 381.9L508 381.2L509 376.6L510 373.8L510.5 371.2L511 369.7L511.5 368.9L512 369.3L512.5 368.2L513 368.8L513.5 368.1L514 366.8L514.5 366.4L515 364.9L515.5 364.5L516.5 365.5L518 363.8L518.5 364.5L519 363.2L519.5 363.5L520 363.5L520.5 362.5L521.5 362L523 360.8L523.5 361.3L524 360.4L524.5 360.1L525 359.5L525.5 359.3L526 358.8L526.5 360L527 358.9L527.5 358.6L528 357.3L528.5 357.5L529 356.4L529.5 356.1L530 356.7L530.5 355.1L531.5 355.4L532 355.2L532.5 354.5L533 354.7L533.5 354.1L534 354.2L534.5 352.9L535 353.1L535.5 353L536 353.3L536.5 351.7L537 351.6L537.5 351.8L538 351.8L538.5 351.5L539 350.7L540 350L540.5 350.3L541 349.3L541.5 349.5L542 349L542.5 348.9L543 350L543.5 348.8L544 350L544.5 348.5L545 349.6L545.5 349.1L546 348.9L546.5 348L547 348.6L547.5 348.6L548 347.9L548.5 347.9L549 347.3L549.5 347.7L550.5 347.4L551 347.5L552 348.6L552.5 348.2L553 348.5L554 348.6L554.5 348.2L555 348.9L555.5 348.7L557.5 350.5L558 349.9L558.5 350.8L559 350.8L559.5 351.7L560 351.6L560.5 353.2L561.5 353.8L562 354.7L563 355.4L563.5 356.2L564.5 356.2L565.5 358.5L566 358.3L566.5 358.7L567.5 358.9L568 359.6L568.5 359.6L569 360.1L569.5 360.1L570 360.7L571 360.8L571.5 362.3L572 361.9L572.5 362.5L573 362.8L573.5 363.4L574 363.4L575 362.3L575.5 362.5L576.5 360.9L577 361.1L577.5 360.8L578 359.9L578.5 359.3L579 359.5L579.5 359.1L580 359.3L581 358.1L582 358.6L582.5 358.5L583 357.9L583.5 357.7L584 357.8L584.5 357.1L585 358.2L585.5 357.3L586 357.4L586.5 358.1L587 357L587.5 356.8L588 357L589 356.4L589.5 355.7L590 356.7L590.5 356.1L591 355.7L592 355.8L592.5 354.1L593 354.6L593.5 353.5L594 353.9L595 350.7L595.5 351L596 350.4L596.5 350.1L597 349.3L597.5 349.8L598 349.5L598.5 348.6L599 349L599.5 347.9L600.5 348.1L601.5 346.1L602 346.8L602.5 345.8L603.5 346.6L604.5 344.3L605.5 342.8L606 341.5L606.5 341.3L607.5 339.5L608 338.9L609 336.7L609.5 336L610 335.8L610.5 334.9L611 333.2L611.5 333.1L612 330.9L612.5 330.2L613 329L613.5 328.5L614 327.4L614.5 326.9L615.5 311.7L616.5 309.6L617 307.5L617.5 307.1L618 304.5L618.5 303.9L619.5 299.9L621 298.3L621.5 297.1L622 296.8L623 294.2L623.5 293.4L624 293.3L624.5 291.7L625 292.2L625.5 290.7L626 291L627 288.9L627.5 289L628.5 287.8L629 287L629.5 285.4L630.5 284.3L631 283.3L631.5 283.5L632 282.5L632.5 282.8L633.5 281.2L634 279.3L634.5 279.4L635 278L635.5 277.5L636 276.8L636.5 276.5L637 275.8L638 273.2L638.5 273.1L640 270.5L640.5 270.8L641 269.6L641.5 269.5L642 269.6L642.5 268.9L643 269.1L643.5 267.9L644 269.2L644.5 269.5L645.5 271.3L647 276L647.5 275.9L648.5 278.8L649 279.2L649.5 281.5L650.5 282.1L651 283.5L651.5 283.6L652.5 285.9L653 286.6L653.5 288.2L654.5 289.9L655 291.2L655.5 291.6L656 292.6L657 293.9L657.5 296.1L658 297.4L658.5 297.9L659 299.2L659.5 298.8L660 299.6L660.5 300.8L661 301L661.5 302.4L662.5 306.6L665 317.9L666 320.3L666.5 323.1L667 324.4L667.5 326.4L668 327.8L669.5 334.5L670.5 337L671.5 341.1L672 342.6L672.5 343.1L673 345.9L673.5 346.8L674 349.7L674.5 350.3L675 352.7L676 355.6L676.5 356.4L678 360.8L678.5 361.5L679 363.1L679.5 363.8L680 365.2L680.5 365.3L681 366.7L681.5 367L682 366.9L682.5 367.1L683 367.6L683.5 369.2L684.5 369.8L685 369.6L685.5 370.7L686.5 371.9L687.5 372.1L688 371.9L688.5 372.1L689 372.2L689.5 373.4L690 373.3L690.5 374.2L691 373.9L691.5 374.2L692 374L692.5 373.3L693 374L693.5 372.3L694 371.3L694.5 371.1L695 365.8L695.5 356.6L696 352.2L697.5 352.9L698 351.7L698.5 351.9L699 350.8L699.5 351.3L700 350.5L700.5 350.3L701 351.2L701.5 351.2L702 350.2L702.5 351L703 350.3L703.5 350.5L704 350.2L704.5 351.1L705 350.4L705.5 350.5L706 350.1L708 350.8L708.5 352L709 351.3L709.5 351.6L710 352.4L710.5 352.4L711 350.9L711.5 351L712 352.1L712.5 352.1L713 350.9L714 351.8L714.5 351.3L715.5 352.1L716 351.4L716.5 351.9L717 351.8L717.5 352.2L718 350.9L718.5 351.3L719.5 351.4L720 349.9L720.5 349.4L721 349.3L721.5 349.5L722 348.9L722.5 347.2L723 347.2L723.5 349.3L724.5 363.9L725 364L725.5 365.4L726 364.5L726.5 364L727 364.3L728 363.7L729 361.6L729.5 359.4L730 359.5L730.5 357.9L731.5 356L732 356.2L732.5 355.1L733 353.1L734 351.4L734.5 351.4L735 350.6L736 350.5L736.5 349.9L737.5 351L738 349.8L738.5 349.6L739 349.9L739.5 350.8L740 350.1L740.5 349.9L741 350.1L741.5 349.4L742 349.9L743 348.6L743.5 349.2L744 348.7L744.5 349.7L746 348.7L746.5 349.5L747 349.5L747.5 348.9L748 350L748.5 349.1L749 349.3L750.5 350.3L751 350.3L751.5 351.3L752 351.8L752.5 352.7L753.5 352.5L754 353.1L754.5 354.8L755 354.9L756 357.5L756.5 359.6L757 360.6L757.5 360.2L758 361.5L759 363L759.5 362.8L760 364.2L761.5 364.7L762 365.7L762.5 365.3L763 366.5L764.5 367.5L765 368.1L765.5 368L766.5 367.3L767 365.8L767.5 366.4L768 366.7L768.5 366.1L769 366.7L769.5 365.9L770.5 365.8L771 366.5L771.5 366L772 366.3L772.5 365.5L773 365.2L774.5 365.1L775 365.7L775.5 365.4L776 365.9L777 367.5L777.5 366.5L778 366.7L778.5 367.7L779 366.9L779.5 368.6L780 367.8L780.5 368.8L781 368.6L782 368.8L783 368.4L783.5 368.8L784 369L784.5 368.4L785 368.9L785.5 368.1L786 369L787 368.7L788 368.8L788.5 368.5L789 368.9L791 369L792 369.6L792.5 369.4L793 370L793.5 369.9L794 370.6L794.5 370.9L795 370.2L795.5 370.4L796 370.2L796.5 369.5L797 370.3L797.5 369.7L798 370L798.5 371L799 370.5L799.5 370.3L800 371.4L800.5 371.6L801 372.2L801.5 372L802 372.4L802.5 373.3L803 373L803.5 374.4L804 374.2L804.5 373.4L805 373.6L805.5 372.4L806 372.4L806.5 371.2L807 371.3L808 370.4L808.5 371.5L809 370.7L809.5 370.7L810 368.4L810.5 367.7L811 367.7L811.5 365.9L812.5 364.6L814 360.9L814.5 360.8L815.5 358.2L816 357.6L816.5 355.8L817.5 354.1L818 349.7L818.5 347L819.5 339.6L820 340L820.5 339.5L821 338L821.5 337L822 337.4L823 335.1L823.5 334.5L824 334.8L824.5 334.3L825 334.2L826 332.9L826.5 333.5L827 332.1L827.5 332.2L828 331.5L828.5 331.3L829 330.8L829.5 331.4L830 331L830.5 329.7L831 329.8L832 328.5L832.5 328.4L833 328.8L833.5 329L834 327.7L834.5 328.6L835 328.1L836 325.9L836.5 325.3L837 325.5L838 324.4L838.5 324.3L839 325.3L839.5 325.1L840 326.5L840.5 325.3L841 326.6L841.5 326.6L842 325.4L842.5 326.2L843.5 325.2L844 325.1L844.5 325.2L845 326L845.5 326L846 329.2L847.5 333.9L848.5 339L849 339.7L849.5 341.1L850.5 345.4L851 346.3L852 348.9L852.5 349.3L853 349.4L853.5 349.7L854.5 349.8L855 351.5L855.5 354.5L856 355.4L856.5 355.6L857.5 358.6L858 358.8L858.5 360.6L859.5 362.1L860 362.5L860.5 363.7L861 363.4L861.5 363.9L862 364.7L862.5 366.5L863 366.9L863.5 367.7L864 369L864.5 369.3L865 369.3L866 371.4L866.5 371.1L868 373.3L868.5 372.9L869 373.7L869.5 373.6L870 374.6L870.5 375.2L871 376.5L871.5 376.9L872 376.2L872.5 377.5L873 377L876 379.7L876.5 379.2L877 380.1L878 380L878.5 379.1L879 380.1L879.5 380.3L880 379L881 378.7L881.5 379.8L882 378.6L883 379.1L884 487L117 487Z" fill="#fed796"/>
<path d="M117 50L132 50L138 150L150 264.1L153 289.8L154 296.6L155.5 299.7L156 300.4L157 302.8L157.5 303.4L158 303.4L158.5 303.7L159.5 301.9L160 301.7L160.5 301.1L161 301.1L162 299.7L162.5 297.8L163.5 295.4L164.5 291.4L165 290.3L165.5 288.4L166 287.1L169.5 270.9L170 269.6L171 267.8L172 266.4L172.5 266.5L173 265.3L173.5 265.6L174 264.7L174.5 264.2L175 262.2L175.5 262.6L176.5 260.9L177 258.7L177.5 258.8L178.5 255.5L179 255.7L179.5 253.6L180 254.1L181 253.3L181.5 253.4L182 254L183 252.7L184 253.6L184.5 252.8L185 252.6L185.5 252.7L186 252.5L186.5 253.9L187.5 253.3L188.5 254.2L189.5 254.5L190 255.5L190.5 254.3L191.5 255.7L192 256.1L192.5 255.7L193 255.8L193.5 255.5L194 257.7L194.5 258.9L195.5 260.3L196.5 264.1L197 264.9L197.5 266.5L199 270.2L199.5 271.9L200 272.3L201 275.6L201.5 275.9L202 276L202.5 273.7L203 272.5L203.5 271.9L204 269.3L204.5 269.1L205 267.8L205.5 265.6L206 265.1L206.5 265.7L207 265.5L207.5 265.1L208 264.3L208.5 264.1L209 264.2L210 262.2L210.5 262.9L211.5 260.7L212 260L212.5 259.9L213 259.2L213.5 260.3L214 260.4L214.5 259.3L215 260.5L216 259.8L216.5 260L217 259.9L217.5 259.3L218 260.3L219 259.3L221 264.2L221.5 264.8L222 266.8L223.5 270.7L224.5 272.6L225 274.7L225.5 275.9L226 275.8L226.5 274.5L227 274.9L227.5 274.8L228 273.8L229.5 273L230 271.3L231 270.6L231.5 271.5L232 270.9L233 271.3L234 271L234.5 271.7L235 271.6L235.5 270.8L236.5 271.7L237 271.6L237.5 272.1L238 272.3L238.5 271.7L239 272.5L239.5 272.8L240 270.7L241 268.7L241.5 266.2L242.5 264.1L243 263.5L243.5 262.3L244 259.9L245 256.4L246 253.8L246.5 250.4L248.5 226.4L249 226.9L250 226.7L250.5 227L251.5 226.5L252.5 227.2L253 228.1L253.5 227.5L254.5 228.2L255 228L255.5 227.4L256 227.7L257 227.6L257.5 227.8L258 226.7L258.5 227.7L259 227.5L260 248.2L260.5 247.9L261.5 248L262 246.9L262.5 247.7L263 248.1L263.5 247.7L264 246.7L264.5 248.2L265 247.5L265.5 247.2L266.5 248.2L267 247.5L267.5 247.6L268 247.9L269 246.9L269.5 247.7L270 249.2L270.5 249L271.5 250.7L272 250.4L273 251.9L274 256.8L274.5 261.8L275 264.4L277.5 283.4L279 290.5L280.5 299.6L281 301.4L281.5 304.6L282 304.3L283 305.9L284 306.4L286 309.7L286.5 309.3L287.5 310.1L288 310.1L289 310.9L290 310.3L290.5 310.9L291.5 310.7L292 310L292.5 309.8L293 309.1L293.5 309.8L294 308.6L294.5 308.9L295 309.9L295.5 309.9L296 308.8L296.5 309.7L297 308.5L297.5 308.4L299 308.6L299.5 307.6L300 307.8L300.5 307.4L302 304.1L302.5 306.2L303 307.3L303.5 309.2L304 309.3L304.5 309.1L306 311.2L306.5 310.6L307.5 312.5L309 314.7L309.5 314.3L310 314.1L310.5 313.4L311 313.4L311.5 312.5L312 311.9L312.5 311.7L313.5 310.2L314 310.6L314.5 310.3L316 308.6L316.5 308.5L317 307.7L317.5 307.9L318 306.8L319 306.5L319.5 306.7L320 305.9L320.5 305.8L321 306.1L321.5 306.1L322 305.1L323 305.5L323.5 306L324 305L324.5 304.7L325.5 304.7L326.5 305.7L327.5 305.1L328 305.9L329 304.6L329.5 305.1L330.5 304.5L331 305.5L331.5 305.1L332 303.9L332.5 304.6L333 303.7L333.5 303.7L334 303L334.5 302.8L335 303L335.5 303.8L336 303.8L336.5 303.1L337 303.6L337.5 303.5L338 303.6L339.5 301.8L341.5 305L342 306.2L342.5 306L343 307.1L344 308L344.5 310L345 310.6L345.5 311.7L346 311.7L346.5 310.4L347 310.4L347.5 309.5L348 307.8L348.5 307.8L349.5 306.5L350.5 304.2L351 304L351.5 302.6L352 301.7L355.5 280.1L356 278L356.5 277L357 277.4L357.5 275.8L358.5 275.1L359.5 272.7L360 272.7L360.5 271.3L361 271.9L362 272.7L362.5 272.2L363 272.1L363.5 271.8L364 271.9L364.5 271.2L365 271.7L365.5 271.3L366.5 271.1L367 270.8L367.5 271.4L368 271.1L368.5 271.7L369 270.7L369.5 271L370 272.1L371 273L371.5 273.3L372 272.8L372.5 273.6L373 274L373.5 273.8L374 274.9L375.5 274L376 275.6L376.5 275.8L377 275.5L377.5 276.8L378 276.4L379 277.8L379.5 277.9L380 278.4L380.5 280.9L381 282.7L382 285.3L383 289.6L386 303.3L387.5 311.2L388 312L388.5 313.8L389 314.6L389.5 314.7L390.5 318.1L391 319.4L392 319.8L393 315.3L394 313.1L394.5 311.2L395 310.3L395.5 307.8L396.5 304.5L398.5 296.6L399.5 291.6L400 289.8L401 287.6L401.5 287.8L402.5 285.8L404 281.7L404.5 281.6L405 279.8L405.5 279.2L408 274.7L408.5 274.1L409 274L409.5 272.8L410.5 271.5L412 269.7L412.5 269.9L413 269.4L413.5 270.3L414 270.2L415 269.3L415.5 269.1L416 270.8L417 272L417.5 273.6L419 276.3L421 286.6L422.5 295.5L423 299.7L425.5 312L426.5 317.8L427 319L427.5 322.1L429 325.8L429.5 327.8L430 327.8L431 330.7L431.5 333L432 333.2L433 335.4L433.5 334.9L434.5 338.1L436 340.8L436.5 343.1L437 344.4L438 345.9L439 348L439.5 349.6L440 350.4L440.5 350.9L441.5 352.7L442 352.6L443 355.1L443.5 355.3L444 355L444.5 354.3L445 354.2L445.5 353.9L446.5 354.2L447 353.9L447.5 354.6L448 354.8L448.5 355.4L449 355L449.5 354.9L450 354.6L450.5 354.6L451 353.8L452 355.1L452.5 354.1L453.5 354.4L454 354.9L454.5 354.2L455 354.8L455.5 354.3L456 355L456.5 355.1L457 354.5L457.5 355.7L458.5 355L459 355.7L460 354.3L460.5 354.3L461 353.7L462 354.5L462.5 355.2L463 354.1L463.5 355L464.5 354.2L465 354L465.5 355.3L466 355.2L466.5 354.7L467 354.8L468.5 354L469 355.1L470.5 354.4L471 355.4L471.5 355.5L472 354.1L473 355L473.5 354.7L474 353.8L474.5 353.8L475 354.2L475.5 354.1L476 354.9L477 353.9L477.5 353.7L478 354.3L478.5 354L479 353L479.5 353.2L480.5 355.1L481.5 355.7L482 355.5L482.5 356.6L483 356.8L484 358.3L484.5 358.7L485.5 358.2L486 359.5L487 359.7L487.5 360.2L488 361.9L488.5 361.6L489.5 364.1L490.5 364.8L491.5 367.4L492 367.5L492.5 369.4L493 369.4L493.5 370.8L494 370.8L494.5 370.3L495 370.7L495.5 370.8L496.5 369.8L497.5 370.9L498 370.9L498.5 371.8L499 372.3L499.5 372.1L500 372.2L500.5 373.3L502 380.1L502.5 379.4L503 380.7L504 381.3L504.5 381.1L505 380.5L505.5 381.4L506.5 381.6L507 380.5L507.5 381.9L508 381.2L509 376.6L510 373.8L510.5 371.2L511 369.7L511.5 368.9L512 369.3L512.5 368.2L513 368.8L513.5 368.1L514 366.8L514.5 366.4L515 364.9L515.5 364.5L516.5 365.5L518 363.8L518.5 364.5L519 363.2L519.5 363.5L520 363.5L520.5 362.5L521.5 362L523 360.8L523.5 361.3L524 360.4L524.5 360.1L525 359.5L525.5 359.3L526 358.8L526.5 360L527 358.9L527.5 358.6L528 357.3L528.5 357.5L529 356.4L529.5 356.1L530 356.7L530.5 355.1L531.5 355.4L532 355.2L532.5 354.5L533 354.7L533.5 354.1L534 354.2L534.5 352.9L535 353.1L535.5 353L536 353.3L536.5 351.7L537 351.6L537.5 351.8L538 351.8L538.5 351.5L539 350.7L540 350L540.5 350.3L541 349.3L541.5 349.5L542 349L542.5 348.9L543 350L543.5 348.8L544 350L544.5 348.5L545 349.6L545.5 349.1L546 348.9L546.5 348L547 348.6L547.5 348.6L548 347.9L548.5 347.9L549 347.3L549.5 347.7L550.5 347.4L551 347.5L552 348.6L552.5 348.2L553 348.5L554 348.6L554.5 348.2L555 348.9L555.5 348.7L557.5 350.5L558 349.9L558.5 350.8L559 350.8L559.5 351.7L560 351.6L560.5 353.2L561.5 353.8L562 354.7L563 355.4L563.5 356.2L564.5 356.2L565.5 358.5L566 358.3L566.5 358.7L567.5 358.9L568 359.6L568.5 359.6L569 360.1L569.5 360.1L570 360.7L571 360.8L571.5 362.3L572 361.9L572.5 362.5L573 362.8L573.5 363.4L574 363.4L575 362.3L575.5 362.5L576.5 360.9L577 361.1L577.5 360.8L578 359.9L578.5 359.3L579 359.5L579.5 359.1L580 359.3L581 358.1L582 358.6L582.5 358.5L583 357.9L583.5 357.7L584 357.8L584.5 357.1L585 358.2L585.5 357.3L586 357.4L586.5 358.1L587 357L587.5 356.8L588 357L589 356.4L589.5 355.7L590 356.7L590.5 356.1L591 355.7L592 355.8L592.5 354.1L593 354.6L593.5 353.5L594 353.9L595 350.7L595.5 351L596 350.4L596.5 350.1L597 349.3L597.5 349.8L598 349.5L598.5 348.6L599 349L599.5 347.9L600.5 348.1L601.5 346.1L602 346.8L602.5 345.8L603.5 346.6L604.5 344.3L605.5 342.8L606 341.5L606.5 341.3L607.5 339.5L608 338.9L609 336.7L609.5 336L610 335.8L610.5 334.9L611 333.2L611.5 333.1L612 330.9L612.5 330.2L613 329L613.5 328.5L614 327.4L614.5 326.9L615.5 311.7L616.5 309.6L617 307.5L617.5 307.1L618 304.5L618.5 303.9L619.5 299.9L621 298.3L621.5 297.1L622 296.8L623 294.2L623.5 293.4L624 293.3L624.5 291.7L625 292.2L625.5 290.7L626 291L627 288.9L627.5 289L628.5 287.8L629 287L629.5 285.4L630.5 284.3L631 283.3L631.5 283.5L632 282.5L632.5 282.8L633.5 281.2L634 279.3L634.5 279.4L635 278L635.5 277.5L636 276.8L636.5 276.5L637 275.8L638 273.2L638.5 273.1L640 270.5L640.5 270.8L641 269.6L641.5 269.5L642 269.6L642.5 268.9L643 269.1L643.5 267.9L644 269.2L644.5 269.5L645.5 271.3L647 276L647.5 275.9L648.5 278.8L649 279.2L649.5 281.5L650.5 282.1L651 283.5L651.5 283.6L652.5 285.9L653 286.6L653.5 288.2L654.5 289.9L655 291.2L655.5 291.6L656 292.6L657 293.9L657.5 296.1L658 297.4L658.5 297.9L659 299.2L659.5 298.8L660 299.6L660.5 300.8L661 301L661.5 302.4L662.5 306.6L665 317.9L666 320.3L666.5 323.1L667 324.4L667.5 326.4L668 327.8L669.5 334.5L670.5 337L671.5 341.1L672 342.6L672.5 343.1L673 345.9L673.5 346.8L674 349.7L674.5 350.3L675 352.7L676 355.6L676.5 356.4L678 360.8L678.5 361.5L679 363.1L679.5 363.8L680 365.2L680.5 365.3L681 366.7L681.5 367L682 366.9L682.5 367.1L683 367.6L683.5 369.2L684.5 369.8L685 369.6L685.5 370.7L686.5 371.9L687.5 372.1L688 371.9L688.5 372.1L689 372.2L689.5 373.4L690 373.3L690.5 374.2L691 373.9L691.5 374.2L692 374L692.5 373.3L693 374L693.5 372.3L694 371.3L694.5 371.1L695 365.8L695.5 356.6L696 352.2L697.5 352.9L698 351.7L698.5 351.9L699 350.8L699.5 351.3L700 350.5L700.5 350.3L701 351.2L701.5 351.2L702 350.2L702.5 351L703 350.3L703.5 350.5L704 350.2L704.5 351.1L705 350.4L705.5 350.5L706 350.1L708 350.8L708.5 352L709 351.3L709.5 351.6L710 352.4L710.5 352.4L711 350.9L711.5 351L712 352.1L712.5 352.1L713 350.9L714 351.8L714.5 351.3L715.5 352.1L716 351.4L716.5 351.9L717 351.8L717.5 352.2L718 350.9L718.5 351.3L719.5 351.4L720 349.9L720.5 349.4L721 349.3L721.5 349.5L722 348.9L722.5 347.2L723 347.2L723.5 349.3L724.5 363.9L725 364L725.5 365.4L726 364.5L726.5 364L727 364.3L728 363.7L729 361.6L729.5 359.4L730 359.5L730.5 357.9L731.5 356L732 356.2L732.5 355.1L733 353.1L734 351.4L734.5 351.4L735 350.6L736 350.5L736.5 349.9L737.5 351L738 349.8L738.5 349.6L739 349.9L739.5 350.8L740 350.1L740.5 349.9L741 350.1L741.5 349.4L742 349.9L743 348.6L743.5 349.2L744 348.7L744.5 349.7L746 348.7L746.5 349.5L747 349.5L747.5 348.9L748 350L748.5 349.1L749 349.3L750.5 350.3L751 350.3L751.5 351.3L752 351.8L752.5 352.7L753.5 352.5L754 353.1L754.5 354.8L755 354.9L756 357.5L756.5 359.6L757 360.6L757.5 360.2L758 361.5L759 363L759.5 362.8L760 364.2L761.5 364.7L762 365.7L762.5 365.3L763 366.5L764.5 367.5L765 368.1L765.5 368L766.5 367.3L767 365.8L767.5 366.4L768 366.7L768.5 366.1L769 366.7L769.5 365.9L770.5 365.8L771 366.5L771.5 366L772 366.3L772.5 365.5L773 365.2L774.5 365.1L775 365.7L775.5 365.4L776 365.9L777 367.5L777.5 366.5L778 366.7L778.5 367.7L779 366.9L779.5 368.6L780 367.8L780.5 368.8L781 368.6L782 368.8L783 368.4L783.5 368.8L784 369L784.5 368.4L785 368.9L785.5 368.1L786 369L787 368.7L788 368.8L788.5 368.5L789 368.9L791 369L792 369.6L792.5 369.4L793 370L793.5 369.9L794 370.6L794.5 370.9L795 370.2L795.5 370.4L796 370.2L796.5 369.5L797 370.3L797.5 369.7L798 370L798.5 371L799 370.5L799.5 370.3L800 371.4L800.5 371.6L801 372.2L801.5 372L802 372.4L802.5 373.3L803 373L803.5 374.4L804 374.2L804.5 373.4L805 373.6L805.5 372.4L806 372.4L806.5 371.2L807 371.3L808 370.4L808.5 371.5L809 370.7L809.5 370.7L810 368.4L810.5 367.7L811 367.7L811.5 365.9L812.5 364.6L814 360.9L814.5 360.8L815.5 358.2L816 357.6L816.5 355.8L817.5 354.1L818 349.7L818.5 347L819.5 339.6L820 340L820.5 339.5L821 338L821.5 337L822 337.4L823 335.1L823.5 334.5L824 334.8L824.5 334.3L825 334.2L826 332.9L826.5 333.5L827 332.1L827.5 332.2L828 331.5L828.5 331.3L829 330.8L829.5 331.4L830 331L830.5 329.7L831 329.8L832 328.5L832.5 328.4L833 328.8L833.5 329L834 327.7L834.5 328.6L835 328.1L836 325.9L836.5 325.3L837 325.5L838 324.4L838.5 324.3L839 325.3L839.5 325.1L840 326.5L840.5 325.3L841 326.6L841.5 326.6L842 325.4L842.5 326.2L843.5 325.2L844 325.1L844.5 325.2L845 326L845.5 326L846 329.2L847.5 333.9L848.5 339L849 339.7L849.5 341.1L850.5 345.4L851 346.3L852 348.9L852.5 349.3L853 349.4L853.5 349.7L854.5 349.8L855 351.5L855.5 354.5L856 355.4L856.5 355.6L857.5 358.6L858 358.8L858.5 360.6L859.5 362.1L860 362.5L860.5 363.7L861 363.4L861.5 363.9L862 364.7L862.5 366.5L863 366.9L863.5 367.7L864 369L864.5 369.3L865 369.3L866 371.4L866.5 371.1L868 373.3L868.5 372.9L869 373.7L869.5 373.6L870 374.6L870.5 375.2L871 376.5L871.5 376.9L872 376.2L872.5 377.5L873 377L876 379.7L876.5 379.2L877 380.1L878 380L878.5 379.1L879 380.1L879.5 380.3L880 379L881 378.7L881.5 379.8L882 378.6L883 379.1" fill="none" stroke="#fff" stroke-opacity="0.28" stroke-width="0.6"/>
<path d="M107 50L117 50L121 150L128 252L137.5 350.9L138 355.2L140 366.7L144 380.4L145.5 383.4L147 386.7L148 388.6L148.5 389.2L149.5 391.2L150 391L150.5 391.5L152 389.8L152.5 389.7L153 388.4L153.5 387.8L154 388.7L154.5 384.2L155.5 385.4L156 381.6L156.5 381.5L157 379.1L157.5 378.9L158 379.1L158.5 371.8L159 371.9L159.5 371.6L160 372L160.5 369.3L161 369.1L161.5 367.6L162 361.1L162.5 362.6L163 363.6L163.5 362.8L164 355.4L164.5 355.9L165 354.6L165.5 355.5L166 349.3L166.5 348.4L167 350.1L167.5 340.8L168 339.7L168.5 340L169 333.6L169.5 332.7L170 333.6L170.5 333.3L171 330.5L171.5 330.7L172 330.3L173 328.4L173.5 330.4L174.5 330.2L175 331.2L175.5 331.5L176 336L176.5 335.9L177 333.4L177.5 333L178 332.9L179 328.2L180 333.5L180.5 334.3L181 333.6L181.5 334L182 338.9L182.5 338.8L183 343.1L184 341.8L184.5 342.7L185 349.8L185.5 350.7L186 349.8L186.5 349.2L187 354.6L187.5 353L188 355.5L188.5 355L189 354.1L189.5 355.1L190 355L190.5 355.3L191 352.8L191.5 353.1L192 352.5L192.5 346.5L193 346.9L193.5 345.1L194 345.3L194.5 342.7L195.5 343.5L196 342.9L196.5 338.7L197 338.1L197.5 337L198 338L198.5 337.8L199.5 338.8L200 338.1L200.5 336.1L201 338.3L201.5 339.7L202 340.1L202.5 339.5L203 340.2L203.5 340.5L204 334.5L204.5 334.3L205 333.2L205.5 323.7L206 323.4L206.5 323.4L207 324.1L207.5 339.5L208 338.5L208.5 338.2L209 339.1L209.5 336.8L210 336.5L210.5 335.2L211 336L212 334L212.5 335.1L213 333.7L213.5 331.6L214 332.1L214.5 331.8L215 329.7L215.5 329.1L216.5 326.2L217 328.7L217.5 327.7L218 328.7L218.5 326.9L219 328.3L220 332L220.5 330.8L221 332.6L221.5 332.8L222 334.2L223 335.5L223.5 335.6L224 334.8L224.5 337.3L225 337.5L225.5 337.4L226 336.4L226.5 331.2L227 332.8L227.5 333.3L228 333L228.5 331L229 331.7L229.5 328.4L230 329.2L230.5 327.7L231 329.5L231.5 328.5L232 328.2L233 328.2L233.5 327.5L234 324.8L235 326.7L236 325.7L236.5 325.9L237 324.8L237.5 327.7L238.5 331.2L239 329.1L239.5 330.9L240 331.3L240.5 323.6L241.5 323.7L242 323.4L242.5 312.3L243 312L244 306.2L244.5 306.3L245 306L245.5 298.5L246 297.7L246.5 290.1L247 289L247.5 290.5L248 291.1L248.5 287.4L249 288.4L249.5 286.2L250 286.5L250.5 282.7L251 283.6L251.5 283.8L252 280.9L252.5 280.9L253 282.9L253.5 283.7L254 283L254.5 286.1L255 285.2L255.5 289.4L256 289.8L256.5 290.1L257 289.8L257.5 294.4L258 294.5L258.5 301.5L259 303.8L259.5 303.9L260 303.4L260.5 311.2L262 318.8L262.5 319.5L263 324.4L263.5 325.8L264 324.8L264.5 330.8L265 330.3L266 335.2L266.5 335L267 341.6L267.5 342.7L268 343.1L268.5 342.6L269 349.1L269.5 350.3L270 350.4L270.5 355.5L271 355.3L271.5 359L272 359L272.5 357.8L273 358.5L273.5 354.5L274 354.3L275 355.6L275.5 355.4L276 353L276.5 354.6L277 354.9L277.5 354.1L278.5 353.3L279 354.5L280 349.2L280.5 352.3L281 349.9L281.5 348.8L282 347L282.5 349.6L283 347.1L283.5 347.9L284 348.1L284.5 350.6L285 352.2L285.5 351L286 352.5L286.5 352.5L287 351.4L287.5 358.1L288 357.7L289 358.6L289.5 360.2L290 359.5L291 360L291.5 361.3L292 361.1L292.5 360.1L293 361.6L293.5 362.4L294 361.2L294.5 363.2L295 363.6L295.5 362.9L296 364.2L296.5 362.5L297 364.1L297.5 362.9L298 366.1L298.5 367.1L299 365.7L299.5 365.6L300 368.5L300.5 366.8L301 367.3L301.5 366.4L302 367.2L302.5 366.9L303.5 366.7L304 364.3L304.5 365.1L305 364.6L306 364.4L307 363L307.5 364.2L308 364.1L308.5 364.3L309.5 361.8L310 364.4L310.5 363.6L312.5 362.2L313 362.4L313.5 359.6L314 359L314.5 358.7L315 359.2L315.5 358.6L316 358.5L316.5 358.1L317 356.9L317.5 357.1L318 354.9L318.5 354.6L319 353.7L319.5 354.5L320 354.7L320.5 349.4L321 348.7L322 344L322.5 342.9L323 344.5L323.5 342.7L324 341.7L324.5 341.7L325 340.5L325.5 342.1L326 341.9L326.5 342.3L327 345.6L327.5 345.9L328 346.3L328.5 348.1L329 347.5L329.5 349.4L330 349.7L330.5 348.4L331 351.4L331.5 352.2L332 352.8L332.5 352.5L333 353.8L333.5 353.2L334 354.8L334.5 354.4L335 352.6L335.5 355.2L336 356.6L336.5 355.8L337 356.8L337.5 354.7L338 358.3L338.5 360.7L339 362.4L339.5 367.6L340 366.3L340.5 370.2L341 370.7L342 370.2L342.5 374L343 373.7L343.5 373.6L344 372.4L344.5 369.2L345 368.6L345.5 366L346 366.6L346.5 362.6L347 362L347.5 362.7L348 362L348.5 356.3L349 354.9L349.5 356.7L350 349.9L350.5 348.6L351 350.2L351.5 339.6L352 340.7L352.5 339.8L353 340.8L353.5 328.4L354 328.6L354.5 327.9L355 322.2L355.5 323.1L356 323L357 312L357.5 312.3L358 311.6L358.5 311.4L359 311.4L359.5 312L360 313.2L360.5 310.9L361 314L361.5 312L362 315.1L362.5 317.3L363 316.8L363.5 316.9L364 317.2L364.5 323.3L365 323.5L365.5 329.4L366 328.4L366.5 328.8L367 328.3L367.5 332.4L368 333.4L368.5 338.8L369 338.4L369.5 340L370 342.5L370.5 347.2L371 347.7L371.5 354L372 356.4L373 355.1L373.5 351.8L374 363L374.5 362.5L375 365.1L375.5 366.7L376 371L376.5 370.3L377 373.1L377.5 372.9L378 375L378.5 375.4L379 374.9L379.5 375.4L380 378.8L380.5 379L381.5 378.8L382 380.1L382.5 379.8L383 380.2L383.5 380.5L384 380.1L384.5 380.7L385 380.7L385.5 381.3L386.5 377.5L387 378.2L387.5 377.7L388 373.9L388.5 375.4L389 367.1L389.5 367.8L390 368L390.5 364L391 361.3L391.5 362.1L392 356.9L392.5 357.8L393 349L393.5 350.7L394 347.1L394.5 334L395 333.3L396 334.2L396.5 330.7L397 331.8L397.5 326.1L398 325.8L398.5 324.9L399 322.9L399.5 319.7L400 320L400.5 317.6L401 317.8L401.5 316.1L402 317.2L402.5 317.1L403 321.4L403.5 321.5L404 325.9L404.5 326.1L405 329.8L405.5 329.6L406 340.3L406.5 340.9L407 339.9L407.5 340.5L408 352.7L409 352.2L409.5 358.2L410.5 357.6L411 354.7L411.5 359.6L412.5 362.5L413 363.2L413.5 366.7L414 367.4L414.5 366.6L415 364.2L415.5 369.7L416 367.3L416.5 368.1L417 370.3L417.5 370.5L418 369.9L418.5 373.2L419 372.7L419.5 370.4L420 372.3L420.5 371.9L421 377.3L421.5 379.8L422 379.2L422.5 380L423.5 385.4L424 384.5L424.5 386L425 386.4L425.5 389.9L426 390.7L426.5 393.4L427 392.7L427.5 393.6L428 394L428.5 395.9L429 394L429.5 393.9L430 395.6L430.5 398.4L431.5 400L432 399.9L432.5 400.3L433.5 400.5L434 400.1L435 401.5L435.5 396.8L436 396.8L436.5 398L437 397.7L437.5 394.8L438 394.6L438.5 394.2L439 396L439.5 396L440 397.2L440.5 397.3L441 395.7L441.5 399.1L442 401.2L442.5 400.5L443 403.5L443.5 402.5L445 404.3L445.5 403.8L446 400.9L446.5 403.8L447 402.1L447.5 401.7L448 402.7L449 403.1L449.5 401.7L450 402.7L450.5 403.4L451 403.5L451.5 403.5L452 400.3L452.5 403.6L453 403.4L453.5 401.7L454 402.5L454.5 397.4L455 396.6L455.5 397.2L456 397.3L456.5 393.7L457 391.3L457.5 393.3L458 390.9L458.5 392.4L459 392.3L459.5 391L460 390.3L460.5 389.6L461.5 388.9L462 388.3L462.5 389L463 388.3L463.5 388.6L464 386.2L464.5 386.5L465 387.8L465.5 384.9L466 387.9L467 388.1L467.5 387.9L468 387.8L468.5 387.2L469 388.3L469.5 389L470 389.3L470.5 389.3L471 388.8L471.5 391.1L472 391.1L472.5 392.1L473 392.4L473.5 396L474 396L474.5 394.5L475 397.5L475.5 398.6L476 399.3L476.5 399.1L477 398.6L477.5 399.8L478 399.7L478.5 400.4L479.5 402.3L480 398.9L480.5 402.4L481 404.5L481.5 403.9L482 405.4L482.5 404.7L483 405.8L483.5 407.5L484.5 409.7L485 409.5L485.5 414.2L486 414.4L486.5 412.6L487 413.4L487.5 417.2L488 418.5L488.5 416.6L489 415.8L490 419.2L490.5 418.9L491 418.8L491.5 415.7L492 417.7L492.5 417.8L493 416.8L493.5 416.1L494 414.1L494.5 415.1L495 415.3L495.5 414.7L496 414.3L496.5 413.5L497 410.8L497.5 412.5L498 412L498.5 410.9L499.5 409.7L500 410.3L501 409.4L501.5 410.2L502 410L503 410.3L503.5 410.8L505 411.8L505.5 411.7L506 411.3L506.5 410L507 409.7L508 410.5L508.5 410.4L509 409.4L510 403.9L510.5 405.4L511 401L511.5 401.2L512 401.1L512.5 399.3L513.5 399.6L514 398.1L514.5 398.9L515.5 398.2L516 398.1L517 395.5L518 394.3L518.5 395L519 395L519.5 393L520 394.3L520.5 394L521 393.3L521.5 391.1L522 391.7L522.5 390.2L523 390.1L523.5 390.6L524 388.4L524.5 388.9L525 388.7L525.5 389.4L526 389.3L526.5 389L527 389.6L527.5 388.8L528 388.7L528.5 388L529 388L529.5 387.2L530 389.8L530.5 389.8L531 388.2L531.5 388.2L532 386.8L532.5 388.2L533 387.3L533.5 387.6L534 385.4L534.5 386.9L535 386.4L535.5 385.5L536 387.3L536.5 387.4L537 387.8L537.5 387.4L538 385.4L538.5 388.5L539.5 387.2L540 387.9L540.5 388L541 386.7L541.5 389.6L542 389.6L542.5 388.6L543 388.8L543.5 388.4L544 387.6L544.5 386.2L545 387.1L546 385.4L546.5 384.8L547 385.4L547.5 384.2L548 384.2L548.5 382.5L549 382.7L550 384.8L550.5 384.9L551 386.7L551.5 386.1L552 387.2L552.5 387.5L553 388.7L553.5 389.1L554 388.2L554.5 389.8L555 390.5L555.5 389.7L556 391.1L556.5 391.5L557 392.4L558 392.4L558.5 393.5L559 392.1L559.5 393.9L560 393.3L560.5 395.2L561.5 394.4L562 399L562.5 398.6L563 401.8L563.5 401.2L564 401.3L564.5 399.8L565 402.9L565.5 404.2L566 404.4L566.5 402.1L567 404.7L567.5 406.2L568 406.4L568.5 406.1L569 407L570 406.4L570.5 408.3L571 406.6L572 408.2L572.5 408.5L573 407.7L573.5 406.1L574 405.4L574.5 404.3L575 404.2L575.5 404.3L576 402.9L576.5 402.6L577 399.1L577.5 401.3L579 395.2L579.5 395.4L580 396.2L581 392.4L581.5 391.8L582 390.2L582.5 391.8L583.5 391.4L584 390.7L584.5 390.4L585 389.4L585.5 391L586 390.4L586.5 391L587 391L587.5 390.3L588 390L588.5 389.3L589 389.6L589.5 388.7L590 388.8L590.5 387.4L591 385.4L591.5 386.5L592.5 384.3L593 383.9L593.5 385.2L595 386.8L595.5 386.9L596 387.6L596.5 387.4L597 387.5L597.5 387.9L598 386.9L598.5 386.7L599 385.6L599.5 385.6L600 383.7L600.5 383.8L601 383.6L601.5 380.2L602 380L603 377.1L603.5 372.9L604 376.3L604.5 375.5L605 375.6L605.5 375.1L606 373.5L606.5 374L607.5 372.6L608 372.8L608.5 372.3L609 372.3L610 369.9L611 370.7L611.5 370.5L612 368.8L612.5 368.5L613 368.5L613.5 366.9L614 367.7L614.5 354.2L615 353.9L615.5 347L616 342L616.5 334.5L617 333.5L617.5 334.5L618 332.1L618.5 331.4L619 332.3L619.5 331.8L620 332.1L620.5 330.3L621 330.2L621.5 328.2L622 331.3L622.5 331.4L624 329L624.5 330.7L625.5 330.2L626 331L626.5 329.5L627 329.2L627.5 328L628 328.2L628.5 328.5L629.5 342.1L630 340.1L630.5 346L631 346.7L631.5 345.3L632 346.6L632.5 347.1L633 345.7L633.5 345.5L634 341.1L634.5 342.6L635 342.2L635.5 339.9L636 340.1L636.5 339.7L637 333.4L637.5 334.9L638 333.9L638.5 333.9L639.5 331.2L640 332.2L640.5 329.9L641 331.5L641.5 331.9L642 331.7L642.5 332L643 331L644 331.5L644.5 331.3L645 330.3L645.5 329.6L646 332L646.5 332.6L647 331L648 332.5L649 339L649.5 338.5L650 336.7L650.5 347.2L651 345.2L651.5 345.4L652 347.4L652.5 353.5L653 354.2L653.5 359.2L654 359.2L654.5 364.1L655 363.9L655.5 364.7L656 364.4L656.5 369.5L657 370.9L657.5 374.1L658 375.5L658.5 380.1L659 380.1L659.5 380.5L660 380.3L660.5 387.5L661.5 387.4L662 389.4L662.5 392.8L663 393.7L663.5 393.7L664 392.5L664.5 396.3L665 395.9L665.5 399.6L666 398.9L666.5 399.7L667 399.6L667.5 401.3L668 401.6L668.5 400L669 400.4L669.5 404.5L670 401.7L671 406L671.5 405.9L672 406.9L672.5 404.9L673 407.8L673.5 407.6L674 408.1L674.5 409L675 410.8L675.5 410.1L676 410.5L676.5 410.4L677 412.3L677.5 412.5L678 412.8L678.5 411L679 413.9L679.5 413.2L680 413.7L680.5 414.8L681 415L681.5 414.2L682.5 414.6L683 414.5L683.5 414.8L684 414L684.5 414.5L685 414.2L685.5 414.5L686 413.4L686.5 413.8L687 413.4L687.5 413.4L688 412.1L688.5 413.9L689 414L689.5 413.2L690.5 413.4L691 412.2L691.5 414L692 412.9L692.5 413.3L694 412.5L694.5 407.6L695 408.4L695.5 404.6L696 397.5L696.5 396.5L697 397.8L697.5 394L698 394.6L698.5 389.9L699 389.8L699.5 389.4L700 385.3L700.5 385.3L701 383.3L701.5 384.1L702 384.1L702.5 383L703.5 383.8L704 382.3L704.5 383.9L705 384.9L705.5 384.3L706 384.2L706.5 385.4L707.5 387.3L708 386.3L708.5 392.2L709 392.4L709.5 391.3L710 391L710.5 403.7L711 405.4L711.5 405.2L712 405.3L712.5 406.6L713 406.7L713.5 405.4L714.5 409.2L715 409L715.5 408.5L716 409.6L717 409.3L717.5 408.2L718.5 407.8L719 407.1L719.5 407L720 404.4L720.5 404.5L721 401.5L721.5 401.8L722 401.9L722.5 400.9L723 400.9L723.5 396.3L724.5 396.6L725 396.3L726 394.8L726.5 393.1L727 393.2L727.5 393.9L728 393.6L728.5 390.7L729 390.3L729.5 390.8L730.5 390L731 386.8L731.5 387.5L732 387.3L732.5 388L733 386.7L734 386.5L735 385.4L735.5 385L736 385.1L736.5 386.7L737.5 384.1L738 386.5L738.5 386.1L739 388.9L739.5 388.3L740 388.7L740.5 389.4L741 390.8L741.5 389.9L742 391L742.5 393.3L743 392L743.5 396.4L744 395.7L745 400.6L745.5 400.4L746 401L746.5 400.2L747 401.6L747.5 405.6L748.5 405.8L749 406.9L750 405.9L750.5 407.3L751 407.1L751.5 407.6L752.5 408.1L753 408L753.5 406.4L754 407.5L755 407.2L755.5 404.1L756.5 407.8L757.5 406.9L758 408.1L758.5 407.7L759 408.1L759.5 404.9L760 408.5L760.5 406.7L761 408.6L761.5 408.9L762 408L762.5 409L763 408.9L763.5 407.3L764.5 409.3L765 408.3L765.5 408L766 408.2L766.5 407.3L767.5 407.3L768 405.3L768.5 406L769 404.7L769.5 401.3L770 404.2L770.5 403.3L771 401L771.5 400.7L772 397.6L772.5 398L773 397.5L773.5 398.6L774 397.3L775 397.5L775.5 397.1L776.5 396.7L777 396.1L778 397L778.5 397.1L779 398.4L780 398.2L780.5 398.3L781 399.4L781.5 398L782 399.9L782.5 400.9L783 403.4L783.5 403.3L784.5 405.6L785 405.5L785.5 406L786 406.2L786.5 407.8L787 407.4L787.5 408.5L788 408.1L788.5 408.2L789 407.4L789.5 408.4L790 409.2L790.5 409.1L791 408.7L791.5 410L792 410.8L792.5 409L793 409.2L793.5 410.2L794 409.6L794.5 410.7L795.5 411.1L796.5 410.6L797 410.7L798 410.3L798.5 409.9L799 410.9L799.5 408.6L800 410.1L800.5 409.3L801 409.2L801.5 408.5L802 408.9L803 407.6L803.5 407.7L804 405.6L804.5 407.5L805 406L805.5 406.3L806 406.8L806.5 405.6L807 403.8L807.5 404.8L808 405.2L808.5 404.3L809 402.1L809.5 402.6L810 402.4L810.5 401.9L811 399.7L811.5 394.5L812 394.3L812.5 395.2L813 395L813.5 394.1L814 390.9L814.5 391.7L815 388.7L815.5 389L816.5 385.7L817 386.1L817.5 378.3L818 379.3L818.5 378.7L819 379.1L819.5 367.5L820 369.4L820.5 368L821 364.3L821.5 364.4L822 364.3L822.5 364.8L823 363.1L824 362.1L824.5 361.4L825 363.4L826.5 361.8L827 363.3L827.5 362.8L828.5 360.8L829 362.1L829.5 361.3L830 365L830.5 363.6L832 366.5L832.5 366.6L833 364.4L833.5 373L834 375L835 375.2L835.5 382L836 383L836.5 382.7L837.5 382.7L838 381.2L838.5 383.7L839 382.1L839.5 384.4L840 385.1L840.5 384.9L841 384.8L841.5 383.5L842 385.1L843 385.7L843.5 385.7L844 389.3L844.5 389.1L845 391.3L845.5 392.4L846 393L846.5 391.4L847 393.7L847.5 394.1L848 396.8L848.5 394.9L849 395.8L849.5 399.4L850 400.5L850.5 399.4L851 400.1L851.5 403.2L852 403.9L852.5 402.4L853 403.9L854 408.9L854.5 409.2L855 408.7L855.5 408.4L856 412.4L856.5 413.7L857 413.8L857.5 414.8L858 414.6L858.5 413.7L859 413.2L859.5 416.9L860 416L860.5 418.3L861 417.6L861.5 419.9L862 418.9L862.5 421.2L863 420.9L863.5 421.4L864 421L865 423.3L865.5 423.3L866 421.8L866.5 423.3L867.5 423L868 421.6L868.5 422.7L869 422.2L869.5 423.1L870 420L870.5 419.8L871 420L871.5 419.9L872 416.4L872.5 416.4L873 415.3L873.5 413.3L874 412.8L874.5 413.1L875 411.3L875.5 411.4L876 409.1L876.5 408.4L877 409.1L877.5 409L878 408.2L878.5 407.9L879 406.9L879.5 408.4L881 407.8L881.5 409.1L882 407.8L882.5 412.2L883 414.4L884 487L107 487Z" fill="#fcb27c"/>
<path d="M107 50L117 50L121 150L128 252L137.5 350.9L138 355.2L140 366.7L144 380.4L145.5 383.4L147 386.7L148 388.6L148.5 389.2L149.5 391.2L150 391L150.5 391.5L152 389.8L152.5 389.7L153 388.4L153.5 387.8L154 388.7L154.5 384.2L155.5 385.4L156 381.6L156.5 381.5L157 379.1L157.5 378.9L158 379.1L158.5 371.8L159 371.9L159.5 371.6L160 372L160.5 369.3L161 369.1L161.5 367.6L162 361.1L162.5 362.6L163 363.6L163.5 362.8L164 355.4L164.5 355.9L165 354.6L165.5 355.5L166 349.3L166.5 348.4L167 350.1L167.5 340.8L168 339.7L168.5 340L169 333.6L169.5 332.7L170 333.6L170.5 333.3L171 330.5L171.5 330.7L172 330.3L173 328.4L173.5 330.4L174.5 330.2L175 331.2L175.5 331.5L176 336L176.5 335.9L177 333.4L177.5 333L178 332.9L179 328.2L180 333.5L180.5 334.3L181 333.6L181.5 334L182 338.9L182.5 338.8L183 343.1L184 341.8L184.5 342.7L185 349.8L185.5 350.7L186 349.8L186.5 349.2L187 354.6L187.5 353L188 355.5L188.5 355L189 354.1L189.5 355.1L190 355L190.5 355.3L191 352.8L191.5 353.1L192 352.5L192.5 346.5L193 346.9L193.5 345.1L194 345.3L194.5 342.7L195.5 343.5L196 342.9L196.5 338.7L197 338.1L197.5 337L198 338L198.5 337.8L199.5 338.8L200 338.1L200.5 336.1L201 338.3L201.5 339.7L202 340.1L202.5 339.5L203 340.2L203.5 340.5L204 334.5L204.5 334.3L205 333.2L205.5 323.7L206 323.4L206.5 323.4L207 324.1L207.5 339.5L208 338.5L208.5 338.2L209 339.1L209.5 336.8L210 336.5L210.5 335.2L211 336L212 334L212.5 335.1L213 333.7L213.5 331.6L214 332.1L214.5 331.8L215 329.7L215.5 329.1L216.5 326.2L217 328.7L217.5 327.7L218 328.7L218.5 326.9L219 328.3L220 332L220.5 330.8L221 332.6L221.5 332.8L222 334.2L223 335.5L223.5 335.6L224 334.8L224.5 337.3L225 337.5L225.5 337.4L226 336.4L226.5 331.2L227 332.8L227.5 333.3L228 333L228.5 331L229 331.7L229.5 328.4L230 329.2L230.5 327.7L231 329.5L231.5 328.5L232 328.2L233 328.2L233.5 327.5L234 324.8L235 326.7L236 325.7L236.5 325.9L237 324.8L237.5 327.7L238.5 331.2L239 329.1L239.5 330.9L240 331.3L240.5 323.6L241.5 323.7L242 323.4L242.5 312.3L243 312L244 306.2L244.5 306.3L245 306L245.5 298.5L246 297.7L246.5 290.1L247 289L247.5 290.5L248 291.1L248.5 287.4L249 288.4L249.5 286.2L250 286.5L250.5 282.7L251 283.6L251.5 283.8L252 280.9L252.5 280.9L253 282.9L253.5 283.7L254 283L254.5 286.1L255 285.2L255.5 289.4L256 289.8L256.5 290.1L257 289.8L257.5 294.4L258 294.5L258.5 301.5L259 303.8L259.5 303.9L260 303.4L260.5 311.2L262 318.8L262.5 319.5L263 324.4L263.5 325.8L264 324.8L264.5 330.8L265 330.3L266 335.2L266.5 335L267 341.6L267.5 342.7L268 343.1L268.5 342.6L269 349.1L269.5 350.3L270 350.4L270.5 355.5L271 355.3L271.5 359L272 359L272.5 357.8L273 358.5L273.5 354.5L274 354.3L275 355.6L275.5 355.4L276 353L276.5 354.6L277 354.9L277.5 354.1L278.5 353.3L279 354.5L280 349.2L280.5 352.3L281 349.9L281.5 348.8L282 347L282.5 349.6L283 347.1L283.5 347.9L284 348.1L284.5 350.6L285 352.2L285.5 351L286 352.5L286.5 352.5L287 351.4L287.5 358.1L288 357.7L289 358.6L289.5 360.2L290 359.5L291 360L291.5 361.3L292 361.1L292.5 360.1L293 361.6L293.5 362.4L294 361.2L294.5 363.2L295 363.6L295.5 362.9L296 364.2L296.5 362.5L297 364.1L297.5 362.9L298 366.1L298.5 367.1L299 365.7L299.5 365.6L300 368.5L300.5 366.8L301 367.3L301.5 366.4L302 367.2L302.5 366.9L303.5 366.7L304 364.3L304.5 365.1L305 364.6L306 364.4L307 363L307.5 364.2L308 364.1L308.5 364.3L309.5 361.8L310 364.4L310.5 363.6L312.5 362.2L313 362.4L313.5 359.6L314 359L314.5 358.7L315 359.2L315.5 358.6L316 358.5L316.5 358.1L317 356.9L317.5 357.1L318 354.9L318.5 354.6L319 353.7L319.5 354.5L320 354.7L320.5 349.4L321 348.7L322 344L322.5 342.9L323 344.5L323.5 342.7L324 341.7L324.5 341.7L325 340.5L325.5 342.1L326 341.9L326.5 342.3L327 345.6L327.5 345.9L328 346.3L328.5 348.1L329 347.5L329.5 349.4L330 349.7L330.5 348.4L331 351.4L331.5 352.2L332 352.8L332.5 352.5L333 353.8L333.5 353.2L334 354.8L334.5 354.4L335 352.6L335.5 355.2L336 356.6L336.5 355.8L337 356.8L337.5 354.7L338 358.3L338.5 360.7L339 362.4L339.5 367.6L340 366.3L340.5 370.2L341 370.7L342 370.2L342.5 374L343 373.7L343.5 373.6L344 372.4L344.5 369.2L345 368.6L345.5 366L346 366.6L346.5 362.6L347 362L347.5 362.7L348 362L348.5 356.3L349 354.9L349.5 356.7L350 349.9L350.5 348.6L351 350.2L351.5 339.6L352 340.7L352.5 339.8L353 340.8L353.5 328.4L354 328.6L354.5 327.9L355 322.2L355.5 323.1L356 323L357 312L357.5 312.3L358 311.6L358.5 311.4L359 311.4L359.5 312L360 313.2L360.5 310.9L361 314L361.5 312L362 315.1L362.5 317.3L363 316.8L363.5 316.9L364 317.2L364.5 323.3L365 323.5L365.5 329.4L366 328.4L366.5 328.8L367 328.3L367.5 332.4L368 333.4L368.5 338.8L369 338.4L369.5 340L370 342.5L370.5 347.2L371 347.7L371.5 354L372 356.4L373 355.1L373.5 351.8L374 363L374.5 362.5L375 365.1L375.5 366.7L376 371L376.5 370.3L377 373.1L377.5 372.9L378 375L378.5 375.4L379 374.9L379.5 375.4L380 378.8L380.5 379L381.5 378.8L382 380.1L382.5 379.8L383 380.2L383.5 380.5L384 380.1L384.5 380.7L385 380.7L385.5 381.3L386.5 377.5L387 378.2L387.5 377.7L388 373.9L388.5 375.4L389 367.1L389.5 367.8L390 368L390.5 364L391 361.3L391.5 362.1L392 356.9L392.5 357.8L393 349L393.5 350.7L394 347.1L394.5 334L395 333.3L396 334.2L396.5 330.7L397 331.8L397.5 326.1L398 325.8L398.5 324.9L399 322.9L399.5 319.7L400 320L400.5 317.6L401 317.8L401.5 316.1L402 317.2L402.5 317.1L403 321.4L403.5 321.5L404 325.9L404.5 326.1L405 329.8L405.5 329.6L406 340.3L406.5 340.9L407 339.9L407.5 340.5L408 352.7L409 352.2L409.5 358.2L410.5 357.6L411 354.7L411.5 359.6L412.5 362.5L413 363.2L413.5 366.7L414 367.4L414.5 366.6L415 364.2L415.5 369.7L416 367.3L416.5 368.1L417 370.3L417.5 370.5L418 369.9L418.5 373.2L419 372.7L419.5 370.4L420 372.3L420.5 371.9L421 377.3L421.5 379.8L422 379.2L422.5 380L423.5 385.4L424 384.5L424.5 386L425 386.4L425.5 389.9L426 390.7L426.5 393.4L427 392.7L427.5 393.6L428 394L428.5 395.9L429 394L429.5 393.9L430 395.6L430.5 398.4L431.5 400L432 399.9L432.5 400.3L433.5 400.5L434 400.1L435 401.5L435.5 396.8L436 396.8L436.5 398L437 397.7L437.5 394.8L438 394.6L438.5 394.2L439 396L439.5 396L440 397.2L440.5 397.3L441 395.7L441.5 399.1L442 401.2L442.5 400.5L443 403.5L443.5 402.5L445 404.3L445.5 403.8L446 400.9L446.5 403.8L447 402.1L447.5 401.7L448 402.7L449 403.1L449.5 401.7L450 402.7L450.5 403.4L451 403.5L451.5 403.5L452 400.3L452.5 403.6L453 403.4L453.5 401.7L454 402.5L454.5 397.4L455 396.6L455.5 397.2L456 397.3L456.5 393.7L457 391.3L457.5 393.3L458 390.9L458.5 392.4L459 392.3L459.5 391L460 390.3L460.5 389.6L461.5 388.9L462 388.3L462.5 389L463 388.3L463.5 388.6L464 386.2L464.5 386.5L465 387.8L465.5 384.9L466 387.9L467 388.1L467.5 387.9L468 387.8L468.5 387.2L469 388.3L469.5 389L470 389.3L470.5 389.3L471 388.8L471.5 391.1L472 391.1L472.5 392.1L473 392.4L473.5 396L474 396L474.5 394.5L475 397.5L475.5 398.6L476 399.3L476.5 399.1L477 398.6L477.5 399.8L478 399.7L478.5 400.4L479.5 402.3L480 398.9L480.5 402.4L481 404.5L481.5 403.9L482 405.4L482.5 404.7L483 405.8L483.5 407.5L484.5 409.7L485 409.5L485.5 414.2L486 414.4L486.5 412.6L487 413.4L487.5 417.2L488 418.5L488.5 416.6L489 415.8L490 419.2L490.5 418.9L491 418.8L491.5 415.7L492 417.7L492.5 417.8L493 416.8L493.5 416.1L494 414.1L494.5 415.1L495 415.3L495.5 414.7L496 414.3L496.5 413.5L497 410.8L497.5 412.5L498 412L498.5 410.9L499.5 409.7L500 410.3L501 409.4L501.5 410.2L502 410L503 410.3L503.5 410.8L505 411.8L505.5 411.7L506 411.3L506.5 410L507 409.7L508 410.5L508.5 410.4L509 409.4L510 403.9L510.5 405.4L511 401L511.5 401.2L512 401.1L512.5 399.3L513.5 399.6L514 398.1L514.5 398.9L515.5 398.2L516 398.1L517 395.5L518 394.3L518.5 395L519 395L519.5 393L520 394.3L520.5 394L521 393.3L521.5 391.1L522 391.7L522.5 390.2L523 390.1L523.5 390.6L524 388.4L524.5 388.9L525 388.7L525.5 389.4L526 389.3L526.5 389L527 389.6L527.5 388.8L528 388.7L528.5 388L529 388L529.5 387.2L530 389.8L530.5 389.8L531 388.2L531.5 388.2L532 386.8L532.5 388.2L533 387.3L533.5 387.6L534 385.4L534.5 386.9L535 386.4L535.5 385.5L536 387.3L536.5 387.4L537 387.8L537.5 387.4L538 385.4L538.5 388.5L539.5 387.2L540 387.9L540.5 388L541 386.7L541.5 389.6L542 389.6L542.5 388.6L543 388.8L543.5 388.4L544 387.6L544.5 386.2L545 387.1L546 385.4L546.5 384.8L547 385.4L547.5 384.2L548 384.2L548.5 382.5L549 382.7L550 384.8L550.5 384.9L551 386.7L551.5 386.1L552 387.2L552.5 387.5L553 388.7L553.5 389.1L554 388.2L554.5 389.8L555 390.5L555.5 389.7L556 391.1L556.5 391.5L557 392.4L558 392.4L558.5 393.5L559 392.1L559.5 393.9L560 393.3L560.5 395.2L561.5 394.4L562 399L562.5 398.6L563 401.8L563.5 401.2L564 401.3L564.5 399.8L565 402.9L565.5 404.2L566 404.4L566.5 402.1L567 404.7L567.5 406.2L568 406.4L568.5 406.1L569 407L570 406.4L570.5 408.3L571 406.6L572 408.2L572.5 408.5L573 407.7L573.5 406.1L574 405.4L574.5 404.3L575 404.2L575.5 404.3L576 402.9L576.5 402.6L577 399.1L577.5 401.3L579 395.2L579.5 395.4L580 396.2L581 392.4L581.5 391.8L582 390.2L582.5 391.8L583.5 391.4L584 390.7L584.5 390.4L585 389.4L585.5 391L586 390.4L586.5 391L587 391L587.5 390.3L588 390L588.5 389.3L589 389.6L589.5 388.7L590 388.8L590.5 387.4L591 385.4L591.5 386.5L592.5 384.3L593 383.9L593.5 385.2L595 386.8L595.5 386.9L596 387.6L596.5 387.4L597 387.5L597.5 387.9L598 386.9L598.5 386.7L599 385.6L599.5 385.6L600 383.7L600.5 383.8L601 383.6L601.5 380.2L602 380L603 377.1L603.5 372.9L604 376.3L604.5 375.5L605 375.6L605.5 375.1L606 373.5L606.5 374L607.5 372.6L608 372.8L608.5 372.3L609 372.3L610 369.9L611 370.7L611.5 370.5L612 368.8L612.5 368.5L613 368.5L613.5 366.9L614 367.7L614.5 354.2L615 353.9L615.5 347L616 342L616.5 334.5L617 333.5L617.5 334.5L618 332.1L618.5 331.4L619 332.3L619.5 331.8L620 332.1L620.5 330.3L621 330.2L621.5 328.2L622 331.3L622.5 331.4L624 329L624.5 330.7L625.5 330.2L626 331L626.5 329.5L627 329.2L627.5 328L628 328.2L628.5 328.5L629.5 342.1L630 340.1L630.5 346L631 346.7L631.5 345.3L632 346.6L632.5 347.1L633 345.7L633.5 345.5L634 341.1L634.5 342.6L635 342.2L635.5 339.9L636 340.1L636.5 339.7L637 333.4L637.5 334.9L638 333.9L638.5 333.9L639.5 331.2L640 332.2L640.5 329.9L641 331.5L641.5 331.9L642 331.7L642.5 332L643 331L644 331.5L644.5 331.3L645 330.3L645.5 329.6L646 332L646.5 332.6L647 331L648 332.5L649 339L649.5 338.5L650 336.7L650.5 347.2L651 345.2L651.5 345.4L652 347.4L652.5 353.5L653 354.2L653.5 359.2L654 359.2L654.5 364.1L655 363.9L655.5 364.7L656 364.4L656.5 369.5L657 370.9L657.5 374.1L658 375.5L658.5 380.1L659 380.1L659.5 380.5L660 380.3L660.5 387.5L661.5 387.4L662 389.4L662.5 392.8L663 393.7L663.5 393.7L664 392.5L664.5 396.3L665 395.9L665.5 399.6L666 398.9L666.5 399.7L667 399.6L667.5 401.3L668 401.6L668.5 400L669 400.4L669.5 404.5L670 401.7L671 406L671.5 405.9L672 406.9L672.5 404.9L673 407.8L673.5 407.6L674 408.1L674.5 409L675 410.8L675.5 410.1L676 410.5L676.5 410.4L677 412.3L677.5 412.5L678 412.8L678.5 411L679 413.9L679.5 413.2L680 413.7L680.5 414.8L681 415L681.5 414.2L682.5 414.6L683 414.5L683.5 414.8L684 414L684.5 414.5L685 414.2L685.5 414.5L686 413.4L686.5 413.8L687 413.4L687.5 413.4L688 412.1L688.5 413.9L689 414L689.5 413.2L690.5 413.4L691 412.2L691.5 414L692 412.9L692.5 413.3L694 412.5L694.5 407.6L695 408.4L695.5 404.6L696 397.5L696.5 396.5L697 397.8L697.5 394L698 394.6L698.5 389.9L699 389.8L699.5 389.4L700 385.3L700.5 385.3L701 383.3L701.5 384.1L702 384.1L702.5 383L703.5 383.8L704 382.3L704.5 383.9L705 384.9L705.5 384.3L706 384.2L706.5 385.4L707.5 387.3L708 386.3L708.5 392.2L709 392.4L709.5 391.3L710 391L710.5 403.7L711 405.4L711.5 405.2L712 405.3L712.5 406.6L713 406.7L713.5 405.4L714.5 409.2L715 409L715.5 408.5L716 409.6L717 409.3L717.5 408.2L718.5 407.8L719 407.1L719.5 407L720 404.4L720.5 404.5L721 401.5L721.5 401.8L722 401.9L722.5 400.9L723 400.9L723.5 396.3L724.5 396.6L725 396.3L726 394.8L726.5 393.1L727 393.2L727.5 393.9L728 393.6L728.5 390.7L729 390.3L729.5 390.8L730.5 390L731 386.8L731.5 387.5L732 387.3L732.5 388L733 386.7L734 386.5L735 385.4L735.5 385L736 385.1L736.5 386.7L737.5 384.1L738 386.5L738.5 386.1L739 388.9L739.5 388.3L740 388.7L740.5 389.4L741 390.8L741.5 389.9L742 391L742.5 393.3L743 392L743.5 396.4L744 395.7L745 400.6L745.5 400.4L746 401L746.5 400.2L747 401.6L747.5 405.6L748.5 405.8L749 406.9L750 405.9L750.5 407.3L751 407.1L751.5 407.6L752.5 408.1L753 408L753.5 406.4L754 407.5L755 407.2L755.5 404.1L756.5 407.8L757.5 406.9L758 408.1L758.5 407.7L759 408.1L759.5 404.9L760 408.5L760.5 406.7L761 408.6L761.5 408.9L762 408L762.5 409L763 408.9L763.5 407.3L764.5 409.3L765 408.3L765.5 408L766 408.2L766.5 407.3L767.5 407.3L768 405.3L768.5 406L769 404.7L769.5 401.3L770 404.2L770.5 403.3L771 401L771.5 400.7L772 397.6L772.5 398L773 397.5L773.5 398.6L774 397.3L775 397.5L775.5 397.1L776.5 396.7L777 396.1L778 397L778.5 397.1L779 398.4L780 398.2L780.5 398.3L781 399.4L781.5 398L782 399.9L782.5 400.9L783 403.4L783.5 403.3L784.5 405.6L785 405.5L785.5 406L786 406.2L786.5 407.8L787 407.4L787.5 408.5L788 408.1L788.5 408.2L789 407.4L789.5 408.4L790 409.2L790.5 409.1L791 408.7L791.5 410L792 410.8L792.5 409L793 409.2L793.5 410.2L794 409.6L794.5 410.7L795.5 411.1L796.5 410.6L797 410.7L798 410.3L798.5 409.9L799 410.9L799.5 408.6L800 410.1L800.5 409.3L801 409.2L801.5 408.5L802 408.9L803 407.6L803.5 407.7L804 405.6L804.5 407.5L805 406L805.5 406.3L806 406.8L806.5 405.6L807 403.8L807.5 404.8L808 405.2L808.5 404.3L809 402.1L809.5 402.6L810 402.4L810.5 401.9L811 399.7L811.5 394.5L812 394.3L812.5 395.2L813 395L813.5 394.1L814 390.9L814.5 391.7L815 388.7L815.5 389L816.5 385.7L817 386.1L817.5 378.3L818 379.3L818.5 378.7L819 379.1L819.5 367.5L820 369.4L820.5 368L821 364.3L821.5 364.4L822 364.3L822.5 364.8L823 363.1L824 362.1L824.5 361.4L825 363.4L826.5 361.8L827 363.3L827.5 362.8L828.5 360.8L829 362.1L829.5 361.3L830 365L830.5 363.6L832 366.5L832.5 366.6L833 364.4L833.5 373L834 375L835 375.2L835.5 382L836 383L836.5 382.7L837.5 382.7L838 381.2L838.5 383.7L839 382.1L839.5 384.4L840 385.1L840.5 384.9L841 384.8L841.5 383.5L842 385.1L843 385.7L843.5 385.7L844 389.3L844.5 389.1L845 391.3L845.5 392.4L846 393L846.5 391.4L847 393.7L847.5 394.1L848 396.8L848.5 394.9L849 395.8L849.5 399.4L850 400.5L850.5 399.4L851 400.1L851.5 403.2L852 403.9L852.5 402.4L853 403.9L854 408.9L854.5 409.2L855 408.7L855.5 408.4L856 412.4L856.5 413.7L857 413.8L857.5 414.8L858 414.6L858.5 413.7L859 413.2L859.5 416.9L860 416L860.5 418.3L861 417.6L861.5 419.9L862 418.9L862.5 421.2L863 420.9L863.5 421.4L864 421L865 423.3L865.5 423.3L866 421.8L866.5 423.3L867.5 423L868 421.6L868.5 422.7L869 422.2L869.5 423.1L870 420L870.5 419.8L871 420L871.5 419.9L872 416.4L872.5 416.4L873 415.3L873.5 413.3L874 412.8L874.5 413.1L875 411.3L875.5 411.4L876 409.1L876.5 408.4L877 409.1L877.5 409L878 408.2L878.5 407.9L879 406.9L879.5 408.4L881 407.8L881.5 409.1L882 407.8L882.5 412.2L883 414.4" fill="none" stroke="#fff" stroke-opacity="0.28" stroke-width="0.6"/>
<path d="M103 50L107 50L109 150L111.5 252L118.5 354L122.5 380.9L124.5 398.1L125 401.7L129 421.4L132 431.8L135 441.4L138 451.5L138.5 453.5L139.5 458.3L140 459.2L143.5 450.3L144.5 449.1L145.5 448.3L146 447.6L146.5 446.5L147 446.5L147.5 446.1L148 446.5L148.5 447.6L149 447.9L149.5 447.8L150 448.6L150.5 448.4L151 448.5L151.5 447.7L152 447.8L152.5 447.5L153 447.7L153.5 446.9L154.5 446.4L155 442.7L155.5 440.6L156 442.1L156.5 436.2L157 437.4L157.5 437.4L158 433.6L158.5 434.3L159 433L159.5 429L160 429.1L160.5 428.4L161 430L161.5 429.8L162 424.2L162.5 423L163 425L163.5 423L164 423.3L164.5 422.2L165 427.6L165.5 427.6L166 426L166.5 423.8L167 426.3L168 419.5L168.5 420.5L169 417.3L169.5 413.1L170 414.3L170.5 415L171 414.2L171.5 416.7L172 415.7L172.5 414.1L173 422.4L173.5 421.3L174 418.9L174.5 429.2L175 429.2L175.5 430.1L176 432.3L176.5 432.5L177 433.5L177.5 429.6L178 429.9L178.5 427.2L179 429.2L179.5 426.1L180 420.8L181 424.8L181.5 428.2L182 428.2L182.5 427.4L183 429L183.5 422.7L184 426.2L184.5 424.4L185 427.6L185.5 427.6L186 427.5L186.5 426.4L187 423.6L187.5 426.3L188 424.4L188.5 423.5L189 423.7L189.5 425L190 424L190.5 421.5L191 419.8L191.5 412.6L192 414.7L192.5 413.5L193 413.5L193.5 412.6L194 404.3L194.5 403.4L195 399.6L195.5 399.9L196 397.9L196.5 413.1L197 412.2L197.5 412.5L198 411.3L198.5 412.5L199 422L199.5 424.6L200 423.8L200.5 428.1L201 428.6L201.5 427.4L202 428.1L202.5 428.5L203 429.5L203.5 427.9L204 425L204.5 424.7L205 426.6L205.5 416.6L206 417.1L206.5 415.4L207 405.1L208 402.1L208.5 394.9L209 396L209.5 400.1L210 399.7L210.5 404.6L211 404.1L211.5 407.1L212 408.7L212.5 407.5L213 404.5L213.5 408.4L214 408.4L214.5 409.2L215 408.4L215.5 408.7L216 414.8L216.5 416L217 414.5L217.5 415.3L218 416.3L218.5 419.9L219 420.5L219.5 420L220 421.8L220.5 422.3L221 426.6L221.5 425.2L222 422.7L222.5 425L223 424.5L223.5 425.4L224 425.9L224.5 393.3L225 391.9L225.5 391.6L226 389.5L226.5 393.6L227.5 390L228 391.2L228.5 397.1L229 395.4L229.5 401.6L230 399.8L230.5 405.1L231 405.5L231.5 406.6L232 407L232.5 405.7L233 406L233.5 406.8L234 404.3L234.5 407.3L235 430.7L235.5 428.6L236 430.8L236.5 432.4L237 431.6L237.5 428.5L238 427.8L238.5 430.4L239.5 433L240 419.6L240.5 411.8L241 410.5L241.5 397.7L242 398.1L242.5 394.3L243 381.9L243.5 381.2L244 376.3L244.5 386.4L245 386.3L245.5 388.3L246 388.9L246.5 378L247 351.6L247.5 355.8L248 354.3L248.5 354L249 355.3L249.5 346.1L250 347.2L250.5 347.4L251 347.3L251.5 347.9L252 366.9L253 364.6L253.5 386.3L254 385.8L254.5 393.3L255 390.5L255.5 390.7L256 393.4L256.5 403.2L257 401.8L257.5 398.6L258 399.8L258.5 426.5L259 427.5L259.5 426.8L260 401.6L260.5 398.4L261 398.9L261.5 401L262 398.3L262.5 401L263 402.3L263.5 401L264 403.1L264.5 404.4L265 404.9L265.5 406.9L266 405L266.5 407.2L267 447.9L267.5 445.3L268 447.5L268.5 447L269 445.1L269.5 446.3L270 446.1L270.5 444.6L271 444.7L271.5 439L272.5 441L273 438.8L273.5 395.9L274.5 394L275 390.3L275.5 394.4L276 396.1L276.5 396.2L277 393.7L277.5 403.2L278 403.4L278.5 402.3L279 409.7L279.5 410.1L280 410L280.5 411.9L281 415.5L281.5 412.7L282 415.3L282.5 410.6L283 413.3L283.5 412.6L284 411.2L284.5 411.5L285.5 414.1L286 414L286.5 414.3L287 415.6L287.5 415.1L288 413.2L288.5 413.3L289 414.8L289.5 414.3L290 410.6L290.5 413.4L291 414.8L291.5 415L292 414.7L292.5 414.3L293 413.5L293.5 413.7L294 414.7L294.5 413.9L295 412.6L296 414.5L296.5 414.5L297 412.7L297.5 413.9L298 416.1L298.5 415.7L299 417.4L299.5 416.2L300 413L300.5 414.6L301 414L301.5 414.8L302 413.9L302.5 413.9L303 414.2L303.5 413.9L304 414.3L304.5 414.9L305.5 411.6L306 413.3L306.5 408.1L307 413.6L307.5 413.6L308 414.5L308.5 413.9L309 412L309.5 416.1L310.5 409.8L311 416.5L311.5 412.4L312 413.9L312.5 411L313 412.2L313.5 411.6L314 408.6L314.5 408.8L315 410.4L315.5 408.5L316 405.5L316.5 410.1L317 407.8L317.5 406.1L318 407L318.5 405.1L319 404.3L319.5 404.4L320 399L320.5 399.4L321 396.3L321.5 395L322 394.1L322.5 396.4L323 397L323.5 393.5L324 398.8L324.5 393.5L325 395.9L325.5 402.1L326 402L326.5 405.1L327 404.8L327.5 405.2L328 406.6L328.5 403.9L329 408.1L329.5 408.1L330 411.2L331 412.2L331.5 410.5L332 412.2L332.5 415L333 414.6L333.5 415.3L334 418.2L334.5 419.5L335 418.3L335.5 418.9L336 416.4L336.5 417.8L337 418.7L337.5 418.9L338 412.3L338.5 415L339 417.1L339.5 418.2L340 418L340.5 418.5L341 417.6L342 421.2L342.5 419.8L343 417.4L343.5 420.9L344.5 417.1L345 412.7L345.5 412.3L346 407.3L346.5 407.2L347 398.7L347.5 400.1L348 400L348.5 398.9L349 398.1L349.5 399L350 398.2L350.5 396.4L351 399.7L351.5 400.4L352.5 399.3L353 393.3L353.5 394L354 394.1L355 385.5L356 384.7L356.5 374.1L357 374.1L357.5 373.9L358 373L359 373L359.5 372.4L360 373L360.5 379.1L361 383.1L361.5 390.8L362 396.4L362.5 399.3L363 399.6L363.5 412.2L364 409.6L364.5 409.7L365 418.1L365.5 417.7L366 421.7L366.5 419.1L367 422.6L367.5 430L368 426.3L368.5 428.8L369 429.9L369.5 431.7L370 431.2L370.5 432.8L371 432.7L371.5 433.4L372 433.5L372.5 433.9L373 431.8L373.5 433.5L374 431.9L374.5 426.5L375 431.4L375.5 431.6L376 427.6L376.5 431.5L377 431.1L377.5 430.4L378 429.4L378.5 428.9L379 429L380 430.1L380.5 429.7L381 429.7L381.5 432L382 430.1L382.5 430.6L383 430.2L384 429.8L385 433.1L385.5 431.2L386 432.4L386.5 430.8L387 432.5L387.5 431.9L388 423.4L388.5 426.3L389 424.2L389.5 426.3L390 425.3L390.5 407.6L391 411.8L391.5 409.4L392 402.1L392.5 402.9L393 389.8L393.5 390.8L394 390.2L394.5 388.1L395 385.1L395.5 383.7L396 384.4L397.5 385.3L398 383.8L398.5 402.4L399 399.7L399.5 400.9L400 401.2L400.5 400.7L401 410.9L401.5 412.3L402 411.7L402.5 422.8L403 420.3L403.5 422.6L404 428.9L404.5 430.5L405 429.4L405.5 431L406 431.1L406.5 431.4L407 430.7L407.5 431L408 428.7L408.5 425.4L409 426.3L409.5 425.1L410 426.7L410.5 424.4L411 418.3L411.5 420.3L412 418.2L412.5 419.3L413 421.7L413.5 420.8L414 417.9L414.5 420.5L415 420.1L415.5 424.2L416 424.9L416.5 429.2L417 430.4L417.5 430.4L418 429.3L418.5 437.3L419 437.1L419.5 438.4L420 436.4L420.5 441.9L421 441.5L421.5 441.3L422 442L422.5 439.9L423 443.4L423.5 443.9L424 444.8L424.5 447.3L425 444.9L425.5 446.7L426 438.8L426.5 440.4L427 441.2L427.5 431.2L428 429.9L429 433.5L429.5 429.5L430 431.3L430.5 430.7L431 431.9L431.5 425.8L432 444.2L432.5 447.4L433 447.4L433.5 446.6L434 447.5L434.5 446L435 445.7L435.5 444.1L436 440.3L436.5 444.7L437 447.2L437.5 446.2L438 447.2L438.5 443.9L439 438.5L439.5 444.3L440 444.5L440.5 441.9L441 440.6L441.5 440.2L442 442.2L443 441.2L443.5 442.5L444.5 441.9L445 441.9L445.5 439.2L446 439.4L446.5 440.4L447 439.5L447.5 438.9L448 439.5L448.5 442.7L449 439.7L449.5 442.4L450 443.2L450.5 443.5L451 442.2L451.5 439.9L452 439L452.5 438.6L453.5 427.4L454 427.8L454.5 431.8L455 431.5L455.5 425.4L456 426.7L456.5 427.4L457 429.6L457.5 430.5L458 429.2L458.5 428.4L459 425.2L459.5 427.7L460 428.8L460.5 430.7L461 430.9L461.5 430.9L462 432.2L462.5 431.7L463 430.3L463.5 431.6L464 433.2L464.5 433.5L465 431L465.5 436.3L466 434.6L466.5 430.5L467 442.9L468 444.4L468.5 445.4L469 445L469.5 444.2L470 440L470.5 438.9L471 436.8L471.5 437.3L472 436.1L472.5 435.8L473 433L473.5 436.8L474 436L474.5 435.4L475 441.1L475.5 438.1L476 440.9L476.5 439.9L477 441.4L477.5 448.5L478 448.7L478.5 445L479 442.8L479.5 449.2L480.5 445.7L481.5 449.7L482 448.4L482.5 450.1L483 450L483.5 449.3L484 451.3L484.5 450.6L485 450.7L485.5 449.4L486 449.2L486.5 449.6L487 450.6L487.5 450.5L488 447.6L488.5 446.4L489 447.1L489.5 448.4L490 446.8L490.5 442.8L491 449.2L491.5 447.5L492 449.6L492.5 449.2L493.5 447.2L494 447.3L494.5 445.4L495 444.7L495.5 446.2L496 443.5L496.5 444.6L497 445.2L497.5 444.7L498 443.4L498.5 441.5L499 436.7L499.5 441.5L500 442.6L500.5 443L501 444.9L501.5 441L502 444.9L502.5 446L503 448.1L503.5 447.4L504 447.5L504.5 447.3L505 445.7L505.5 447.1L506 445.6L506.5 445.9L507 445L507.5 446.5L508 442L508.5 440.9L509 428.4L510 432L510.5 431.3L511 424.6L511.5 424.8L512 428.8L512.5 426.2L513 425.6L513.5 424.8L514 426.3L514.5 426.3L515 429.3L515.5 433.8L516 434L516.5 433.3L517 433.8L517.5 434.4L518 436.7L518.5 436.5L519 435.2L520 433.9L520.5 435.5L521 434.4L521.5 435.3L522 430.3L522.5 431.6L523 430.4L523.5 430L524 431.6L524.5 428.6L525 427.4L525.5 429.2L526 427.7L526.5 429.5L527 428.2L527.5 427.8L528 426L528.5 427.6L529 422.1L529.5 427.9L530 427L530.5 426.3L531 427.5L531.5 427.2L533.5 427.3L534 426.8L534.5 427.1L535 428.1L535.5 425.5L536 427.9L536.5 429.7L537 428.8L537.5 426.8L538 431.1L538.5 425.1L539 429.7L540 434L540.5 434.6L541 435L541.5 435L543 435.7L543.5 430.5L544 433.6L544.5 432.9L545 431.9L545.5 429.1L546 426.9L546.5 428.4L547 428.5L547.5 425.1L548 425.1L548.5 423L549 425.3L549.5 425.4L550 427.9L550.5 426.5L551 430.8L551.5 430.5L552.5 432.2L553 430.4L553.5 433.9L554 428L554.5 434L555 434.5L556 436.4L556.5 436L557 433.6L557.5 434.3L558 438.1L558.5 438.7L559 440.4L559.5 440.5L560 440.4L560.5 441.6L561 441.5L561.5 439.3L562 443.2L562.5 439.9L563 441.8L563.5 444.6L564 444.1L564.5 442.2L565 442.6L565.5 444.1L566 442.3L566.5 444.5L567 443.8L567.5 444.7L568 441.9L568.5 441.2L569 440.2L569.5 442.1L570 440.3L570.5 439.8L571 441.3L571.5 437.7L572 441.2L572.5 437.9L573 441.5L573.5 442.5L574 440.2L574.5 438.5L575 435.1L575.5 437L576.5 438L577 435.4L577.5 434.7L578 435.9L578.5 434L579 434.9L579.5 430.4L580 434L580.5 429.3L581 430.1L581.5 429.2L582 428.7L582.5 427.9L583 428.2L583.5 427.4L584.5 430.8L585 433.3L585.5 432L586 431.2L586.5 434.2L587 433L587.5 434L588 433.6L588.5 432.9L589 434.5L589.5 434.3L590 434.4L590.5 434.7L591 426L591.5 429L592 427.9L592.5 430.5L593 427.1L593.5 430.8L594 425.6L594.5 428.2L595 427.7L595.5 423.4L596 426.1L596.5 426.5L597 426.2L597.5 429.4L598 428.8L598.5 429.6L599 431.4L599.5 430.5L600 427L600.5 425.7L601 426.7L602 423.7L603 418.2L603.5 416.8L604 415.7L604.5 418.2L605 418.9L605.5 418.4L606 411.8L606.5 416.4L607 414.1L607.5 417.8L608.5 417.2L609 416.7L609.5 418.6L610 414.8L610.5 418.1L611 419.5L611.5 421.4L612 420.1L612.5 419.6L613 418.6L613.5 408.3L614 408.9L614.5 407.1L615 410.1L615.5 381.9L616 381.9L617 380.1L617.5 382.1L618 383.6L618.5 384.4L619 383.9L619.5 390.6L620 388.8L620.5 389.3L621 396L621.5 397.1L622.5 408.8L623 408.6L623.5 413.5L624 414.1L624.5 414.3L625 417.4L625.5 413.6L626 417.2L626.5 422.2L627 419.4L627.5 420.2L628 422.3L628.5 419.7L629 419.3L629.5 413.5L630 411.5L630.5 410L631 412.9L631.5 407.5L632 407.5L632.5 406.6L633.5 403.2L634 403.6L634.5 397.7L635 397.2L635.5 396.5L636 394.3L636.5 396.4L637 394.5L637.5 395.1L638 396.9L638.5 397.6L639 395.2L639.5 401.1L640 397.4L640.5 400.7L641 402.1L641.5 402.9L642 403.2L642.5 405.2L643 406.3L643.5 406.3L644 407.7L644.5 407.5L645 408.8L645.5 414.1L646 414.3L646.5 413.5L647 410.5L647.5 419.3L648 421.9L648.5 421.4L649 419.6L649.5 421.1L650 424.8L650.5 423.7L651 424.3L651.5 429.8L652 428.1L652.5 428.9L653 432.6L654 434.2L654.5 434.5L655 433.8L656 431.8L656.5 436.9L657 439.3L657.5 439.7L658 438.4L659 439.7L659.5 440L660 441.1L660.5 440.2L661 441.9L661.5 439.9L662.5 440.5L663 440.2L663.5 436.5L664 441.4L664.5 441.3L665 440.1L665.5 441.1L666 444L666.5 442.4L667 445.9L667.5 446.1L668 445.7L668.5 446.4L669 444.7L669.5 447.1L670 448.5L671 445.7L671.5 447.9L672 449.2L672.5 447L673 449.2L673.5 443.5L674 448.8L674.5 449.7L675 448.7L675.5 444.1L676 447.6L676.5 449.7L677 447.4L677.5 449.2L678 445.2L678.5 450L679 449.1L679.5 449.7L680 449.5L680.5 448.7L681 449.9L681.5 446.3L682 449.4L682.5 446.5L683 449.3L683.5 449.8L684 448.7L684.5 448.6L685 450.1L685.5 450.6L686 449.9L686.5 451.5L687 450.1L687.5 449.7L688 450.7L688.5 449.2L689 450.3L689.5 449L690 447.1L690.5 440.1L691 442.2L692 439.1L692.5 441.2L693 441.9L693.5 440.5L694 434.4L694.5 419.3L695 419.8L696 417.9L696.5 418.8L697 420.2L697.5 420.5L698 421.7L698.5 421.1L699 418.4L699.5 423.4L700 423.8L700.5 424.1L701 442.6L701.5 444.5L702 443.6L702.5 444.3L703 445.2L703.5 444.6L704 445.1L704.5 443.4L705 446.4L705.5 445L706 446.1L706.5 448.5L707.5 448.6L708 447.2L708.5 448.2L709 447.9L709.5 448.3L710 444.6L710.5 447.8L711 444.2L711.5 441.9L712 443.7L712.5 444.9L713 444.9L714 440.7L714.5 442.4L715 443.2L715.5 440.4L716 442.6L716.5 439.4L717 441.4L717.5 439.6L718 441.4L718.5 441.2L719 440.1L719.5 440.9L720 442.2L721 440.1L721.5 436.7L722 440.1L722.5 437.6L723 437.8L723.5 437L724.5 432.5L725 435L725.5 434.5L726 433L726.5 434.3L727 433.8L727.5 435.9L728 436.4L728.5 436.7L729 434.4L729.5 437L730 436.6L730.5 433.6L731 437L731.5 437.3L732 436.8L732.5 437.3L733 437.4L733.5 434.1L734 437.2L734.5 437L735 436.6L735.5 440.6L736 439.6L736.5 440L737 439.3L737.5 440.2L738 439.8L738.5 443.1L739 443.3L739.5 443.1L740 443.5L740.5 444.1L741 443.4L741.5 447.6L742 446.8L742.5 447.1L743 448.2L743.5 445.2L744 448.7L744.5 445.3L745 445.5L745.5 445.3L746 446.1L746.5 447.3L747 444.6L747.5 443.7L748 446.9L748.5 443.9L749 443.8L749.5 445.6L750 443.1L750.5 445.1L751 438.3L751.5 444.8L752 444L752.5 443.9L753 444.1L753.5 443.9L754 441L754.5 445.4L755 444.6L755.5 445.4L756 445.7L756.5 445.3L757 448.1L758 449.8L758.5 449.7L759 447.3L759.5 448.3L760 445.6L760.5 444.2L761 445.6L761.5 445.7L762 443.7L762.5 444.9L763 443.2L763.5 442.8L764 444.2L764.5 442.6L765 442.2L765.5 442.3L766 440.5L766.5 440.5L767 438.7L767.5 437.8L768 435.3L768.5 434.7L769 435.1L769.5 432.5L770 433.9L770.5 432.8L771 433.7L771.5 427.8L772 430.4L772.5 426.2L773 429.3L773.5 428.1L774 430.8L774.5 432.4L775 435.3L775.5 436.2L776 434.2L776.5 436.8L777 441.2L777.5 440.6L778 441L778.5 437.3L779 438.8L779.5 444.1L780 440.9L781 441.2L782 444.5L782.5 444.1L783 442.6L783.5 443.2L784 443.2L784.5 446.1L785 446.4L785.5 448.2L786 449.3L786.5 450L787 449L787.5 449.8L788 448.5L788.5 451.8L789 451.6L789.5 449.2L790.5 453.1L791 452.6L791.5 453.3L792 451.4L792.5 452.9L793 452.8L793.5 451L794 450.2L794.5 448.6L795 445.9L795.5 441.8L796 442.3L796.5 440.9L797 441.9L797.5 440.9L798 441.1L798.5 442.1L799 444.7L799.5 444L800 444.4L800.5 441.8L801 444.9L802 446.5L802.5 445.4L803 446.5L803.5 444.1L804 446.9L804.5 443.9L805 443.2L805.5 443.1L806 445.8L806.5 442.1L807 441.7L807.5 437.8L808 443.2L808.5 437.5L809 435.2L809.5 432L810 432.6L811 429.4L811.5 431.8L812.5 426.3L813 429.9L813.5 430L814 431.2L814.5 431.1L815 431.3L815.5 427.5L816 430.5L816.5 430.8L817 430.2L817.5 421.1L818 423.7L818.5 422.9L819 412.3L819.5 411.6L820 409L820.5 411.4L821 410.7L821.5 404.4L822 404.9L822.5 404.8L823 405.1L823.5 414.4L824.5 417.1L825 426.9L825.5 424.4L826 426.9L826.5 426.3L827 427L827.5 428.5L828 430.5L828.5 428.8L829 428.1L829.5 429.7L830 429.9L831 431.3L831.5 427L832 430.1L832.5 435.3L833 435.5L833.5 431.5L834 438.4L834.5 437L835 437.7L835.5 439.8L836 439.7L836.5 439.5L837 438.2L837.5 440.2L838 438.1L838.5 438.4L839 434.6L839.5 440.7L840 441.6L840.5 440.5L841 437.9L841.5 437.3L842 438.3L842.5 437.9L843 437L843.5 438.8L844 438.6L844.5 441.2L845 439.4L845.5 443.1L846 443.1L846.5 447.7L847 446.2L847.5 448.5L848 447.1L848.5 448.2L849 448.5L849.5 449.5L850 449.5L850.5 449.2L851 449.6L851.5 447.2L852 450.3L852.5 446.7L853 449.6L853.5 448.7L854 450.6L854.5 449.8L855 450.4L855.5 449L856 452.9L856.5 452.7L857 452.8L857.5 451.9L858 452.1L858.5 454.5L859 453.4L859.5 454L860 453L861 453.5L861.5 450.4L862 453.6L862.5 452.4L863 449.5L863.5 450.4L864 450.2L864.5 446.2L865 445.8L865.5 447.7L866 446L866.5 448.3L867 447.5L868 443.8L868.5 437.8L869 443.7L869.5 443L870 443.9L870.5 445.3L871 442.7L871.5 442.6L872 443.4L872.5 440.8L873 441.7L873.5 436.5L874 441.5L874.5 443.5L875 441.9L875.5 441L876 442.4L876.5 441.7L877.5 445.1L878.5 442.7L879 443.8L879.5 441.3L880 444.5L880.5 442.1L881 444.2L881.5 443.2L882 448.1L882.5 447L883 448L884 487L103 487Z" fill="#f28b74"/>
<path d="M103 50L107 50L109 150L111.5 252L118.5 354L122.5 380.9L124.5 398.1L125 401.7L129 421.4L132 431.8L135 441.4L138 451.5L138.5 453.5L139.5 458.3L140 459.2L143.5 450.3L144.5 449.1L145.5 448.3L146 447.6L146.5 446.5L147 446.5L147.5 446.1L148 446.5L148.5 447.6L149 447.9L149.5 447.8L150 448.6L150.5 448.4L151 448.5L151.5 447.7L152 447.8L152.5 447.5L153 447.7L153.5 446.9L154.5 446.4L155 442.7L155.5 440.6L156 442.1L156.5 436.2L157 437.4L157.5 437.4L158 433.6L158.5 434.3L159 433L159.5 429L160 429.1L160.5 428.4L161 430L161.5 429.8L162 424.2L162.5 423L163 425L163.5 423L164 423.3L164.5 422.2L165 427.6L165.5 427.6L166 426L166.5 423.8L167 426.3L168 419.5L168.5 420.5L169 417.3L169.5 413.1L170 414.3L170.5 415L171 414.2L171.5 416.7L172 415.7L172.5 414.1L173 422.4L173.5 421.3L174 418.9L174.5 429.2L175 429.2L175.5 430.1L176 432.3L176.5 432.5L177 433.5L177.5 429.6L178 429.9L178.5 427.2L179 429.2L179.5 426.1L180 420.8L181 424.8L181.5 428.2L182 428.2L182.5 427.4L183 429L183.5 422.7L184 426.2L184.5 424.4L185 427.6L185.5 427.6L186 427.5L186.5 426.4L187 423.6L187.5 426.3L188 424.4L188.5 423.5L189 423.7L189.5 425L190 424L190.5 421.5L191 419.8L191.5 412.6L192 414.7L192.5 413.5L193 413.5L193.5 412.6L194 404.3L194.5 403.4L195 399.6L195.5 399.9L196 397.9L196.5 413.1L197 412.2L197.5 412.5L198 411.3L198.5 412.5L199 422L199.5 424.6L200 423.8L200.5 428.1L201 428.6L201.5 427.4L202 428.1L202.5 428.5L203 429.5L203.5 427.9L204 425L204.5 424.7L205 426.6L205.5 416.6L206 417.1L206.5 415.4L207 405.1L208 402.1L208.5 394.9L209 396L209.5 400.1L210 399.7L210.5 404.6L211 404.1L211.5 407.1L212 408.7L212.5 407.5L213 404.5L213.5 408.4L214 408.4L214.5 409.2L215 408.4L215.5 408.7L216 414.8L216.5 416L217 414.5L217.5 415.3L218 416.3L218.5 419.9L219 420.5L219.5 420L220 421.8L220.5 422.3L221 426.6L221.5 425.2L222 422.7L222.5 425L223 424.5L223.5 425.4L224 425.9L224.5 393.3L225 391.9L225.5 391.6L226 389.5L226.5 393.6L227.5 390L228 391.2L228.5 397.1L229 395.4L229.5 401.6L230 399.8L230.5 405.1L231 405.5L231.5 406.6L232 407L232.5 405.7L233 406L233.5 406.8L234 404.3L234.5 407.3L235 430.7L235.5 428.6L236 430.8L236.5 432.4L237 431.6L237.5 428.5L238 427.8L238.5 430.4L239.5 433L240 419.6L240.5 411.8L241 410.5L241.5 397.7L242 398.1L242.5 394.3L243 381.9L243.5 381.2L244 376.3L244.5 386.4L245 386.3L245.5 388.3L246 388.9L246.5 378L247 351.6L247.5 355.8L248 354.3L248.5 354L249 355.3L249.5 346.1L250 347.2L250.5 347.4L251 347.3L251.5 347.9L252 366.9L253 364.6L253.5 386.3L254 385.8L254.5 393.3L255 390.5L255.5 390.7L256 393.4L256.5 403.2L257 401.8L257.5 398.6L258 399.8L258.5 426.5L259 427.5L259.5 426.8L260 401.6L260.5 398.4L261 398.9L261.5 401L262 398.3L262.5 401L263 402.3L263.5 401L264 403.1L264.5 404.4L265 404.9L265.5 406.9L266 405L266.5 407.2L267 447.9L267.5 445.3L268 447.5L268.5 447L269 445.1L269.5 446.3L270 446.1L270.5 444.6L271 444.7L271.5 439L272.5 441L273 438.8L273.5 395.9L274.5 394L275 390.3L275.5 394.4L276 396.1L276.5 396.2L277 393.7L277.5 403.2L278 403.4L278.5 402.3L279 409.7L279.5 410.1L280 410L280.5 411.9L281 415.5L281.5 412.7L282 415.3L282.5 410.6L283 413.3L283.5 412.6L284 411.2L284.5 411.5L285.5 414.1L286 414L286.5 414.3L287 415.6L287.5 415.1L288 413.2L288.5 413.3L289 414.8L289.5 414.3L290 410.6L290.5 413.4L291 414.8L291.5 415L292 414.7L292.5 414.3L293 413.5L293.5 413.7L294 414.7L294.5 413.9L295 412.6L296 414.5L296.5 414.5L297 412.7L297.5 413.9L298 416.1L298.5 415.7L299 417.4L299.5 416.2L300 413L300.5 414.6L301 414L301.5 414.8L302 413.9L302.5 413.9L303 414.2L303.5 413.9L304 414.3L304.5 414.9L305.5 411.6L306 413.3L306.5 408.1L307 413.6L307.5 413.6L308 414.5L308.5 413.9L309 412L309.5 416.1L310.5 409.8L311 416.5L311.5 412.4L312 413.9L312.5 411L313 412.2L313.5 411.6L314 408.6L314.5 408.8L315 410.4L315.5 408.5L316 405.5L316.5 410.1L317 407.8L317.5 406.1L318 407L318.5 405.1L319 404.3L319.5 404.4L320 399L320.5 399.4L321 396.3L321.5 395L322 394.1L322.5 396.4L323 397L323.5 393.5L324 398.8L324.5 393.5L325 395.9L325.5 402.1L326 402L326.5 405.1L327 404.8L327.5 405.2L328 406.6L328.5 403.9L329 408.1L329.5 408.1L330 411.2L331 412.2L331.5 410.5L332 412.2L332.5 415L333 414.6L333.5 415.3L334 418.2L334.5 419.5L335 418.3L335.5 418.9L336 416.4L336.5 417.8L337 418.7L337.5 418.9L338 412.3L338.5 415L339 417.1L339.5 418.2L340 418L340.5 418.5L341 417.6L342 421.2L342.5 419.8L343 417.4L343.5 420.9L344.5 417.1L345 412.7L345.5 412.3L346 407.3L346.5 407.2L347 398.7L347.5 400.1L348 400L348.5 398.9L349 398.1L349.5 399L350 398.2L350.5 396.4L351 399.7L351.5 400.4L352.5 399.3L353 393.3L353.5 394L354 394.1L355 385.5L356 384.7L356.5 374.1L357 374.1L357.5 373.9L358 373L359 373L359.5 372.4L360 373L360.5 379.1L361 383.1L361.5 390.8L362 396.4L362.5 399.3L363 399.6L363.5 412.2L364 409.6L364.5 409.7L365 418.1L365.5 417.7L366 421.7L366.5 419.1L367 422.6L367.5 430L368 426.3L368.5 428.8L369 429.9L369.5 431.7L370 431.2L370.5 432.8L371 432.7L371.5 433.4L372 433.5L372.5 433.9L373 431.8L373.5 433.5L374 431.9L374.5 426.5L375 431.4L375.5 431.6L376 427.6L376.5 431.5L377 431.1L377.5 430.4L378 429.4L378.5 428.9L379 429L380 430.1L380.5 429.7L381 429.7L381.5 432L382 430.1L382.5 430.6L383 430.2L384 429.8L385 433.1L385.5 431.2L386 432.4L386.5 430.8L387 432.5L387.5 431.9L388 423.4L388.5 426.3L389 424.2L389.5 426.3L390 425.3L390.5 407.6L391 411.8L391.5 409.4L392 402.1L392.5 402.9L393 389.8L393.5 390.8L394 390.2L394.5 388.1L395 385.1L395.5 383.7L396 384.4L397.5 385.3L398 383.8L398.5 402.4L399 399.7L399.5 400.9L400 401.2L400.5 400.7L401 410.9L401.5 412.3L402 411.7L402.5 422.8L403 420.3L403.5 422.6L404 428.9L404.5 430.5L405 429.4L405.5 431L406 431.1L406.5 431.4L407 430.7L407.5 431L408 428.7L408.5 425.4L409 426.3L409.5 425.1L410 426.7L410.5 424.4L411 418.3L411.5 420.3L412 418.2L412.5 419.3L413 421.7L413.5 420.8L414 417.9L414.5 420.5L415 420.1L415.5 424.2L416 424.9L416.5 429.2L417 430.4L417.5 430.4L418 429.3L418.5 437.3L419 437.1L419.5 438.4L420 436.4L420.5 441.9L421 441.5L421.5 441.3L422 442L422.5 439.9L423 443.4L423.5 443.9L424 444.8L424.5 447.3L425 444.9L425.5 446.7L426 438.8L426.5 440.4L427 441.2L427.5 431.2L428 429.9L429 433.5L429.5 429.5L430 431.3L430.5 430.7L431 431.9L431.5 425.8L432 444.2L432.5 447.4L433 447.4L433.5 446.6L434 447.5L434.5 446L435 445.7L435.5 444.1L436 440.3L436.5 444.7L437 447.2L437.5 446.2L438 447.2L438.5 443.9L439 438.5L439.5 444.3L440 444.5L440.5 441.9L441 440.6L441.5 440.2L442 442.2L443 441.2L443.5 442.5L444.5 441.9L445 441.9L445.5 439.2L446 439.4L446.5 440.4L447 439.5L447.5 438.9L448 439.5L448.5 442.7L449 439.7L449.5 442.4L450 443.2L450.5 443.5L451 442.2L451.5 439.9L452 439L452.5 438.6L453.5 427.4L454 427.8L454.5 431.8L455 431.5L455.5 425.4L456 426.7L456.5 427.4L457 429.6L457.5 430.5L458 429.2L458.5 428.4L459 425.2L459.5 427.7L460 428.8L460.5 430.7L461 430.9L461.5 430.9L462 432.2L462.5 431.7L463 430.3L463.5 431.6L464 433.2L464.5 433.5L465 431L465.5 436.3L466 434.6L466.5 430.5L467 442.9L468 444.4L468.5 445.4L469 445L469.5 444.2L470 440L470.5 438.9L471 436.8L471.5 437.3L472 436.1L472.5 435.8L473 433L473.5 436.8L474 436L474.5 435.4L475 441.1L475.5 438.1L476 440.9L476.5 439.9L477 441.4L477.5 448.5L478 448.7L478.5 445L479 442.8L479.5 449.2L480.5 445.7L481.5 449.7L482 448.4L482.5 450.1L483 450L483.5 449.3L484 451.3L484.5 450.6L485 450.7L485.5 449.4L486 449.2L486.5 449.6L487 450.6L487.5 450.5L488 447.6L488.5 446.4L489 447.1L489.5 448.4L490 446.8L490.5 442.8L491 449.2L491.5 447.5L492 449.6L492.5 449.2L493.5 447.2L494 447.3L494.5 445.4L495 444.7L495.5 446.2L496 443.5L496.5 444.6L497 445.2L497.5 444.7L498 443.4L498.5 441.5L499 436.7L499.5 441.5L500 442.6L500.5 443L501 444.9L501.5 441L502 444.9L502.5 446L503 448.1L503.5 447.4L504 447.5L504.5 447.3L505 445.7L505.5 447.1L506 445.6L506.5 445.9L507 445L507.5 446.5L508 442L508.5 440.9L509 428.4L510 432L510.5 431.3L511 424.6L511.5 424.8L512 428.8L512.5 426.2L513 425.6L513.5 424.8L514 426.3L514.5 426.3L515 429.3L515.5 433.8L516 434L516.5 433.3L517 433.8L517.5 434.4L518 436.7L518.5 436.5L519 435.2L520 433.9L520.5 435.5L521 434.4L521.5 435.3L522 430.3L522.5 431.6L523 430.4L523.5 430L524 431.6L524.5 428.6L525 427.4L525.5 429.2L526 427.7L526.5 429.5L527 428.2L527.5 427.8L528 426L528.5 427.6L529 422.1L529.5 427.9L530 427L530.5 426.3L531 427.5L531.5 427.2L533.5 427.3L534 426.8L534.5 427.1L535 428.1L535.5 425.5L536 427.9L536.5 429.7L537 428.8L537.5 426.8L538 431.1L538.5 425.1L539 429.7L540 434L540.5 434.6L541 435L541.5 435L543 435.7L543.5 430.5L544 433.6L544.5 432.9L545 431.9L545.5 429.1L546 426.9L546.5 428.4L547 428.5L547.5 425.1L548 425.1L548.5 423L549 425.3L549.5 425.4L550 427.9L550.5 426.5L551 430.8L551.5 430.5L552.5 432.2L553 430.4L553.5 433.9L554 428L554.5 434L555 434.5L556 436.4L556.5 436L557 433.6L557.5 434.3L558 438.1L558.5 438.7L559 440.4L559.5 440.5L560 440.4L560.5 441.6L561 441.5L561.5 439.3L562 443.2L562.5 439.9L563 441.8L563.5 444.6L564 444.1L564.5 442.2L565 442.6L565.5 444.1L566 442.3L566.5 444.5L567 443.8L567.5 444.7L568 441.9L568.5 441.2L569 440.2L569.5 442.1L570 440.3L570.5 439.8L571 441.3L571.5 437.7L572 441.2L572.5 437.9L573 441.5L573.5 442.5L574 440.2L574.5 438.5L575 435.1L575.5 437L576.5 438L577 435.4L577.5 434.7L578 435.9L578.5 434L579 434.9L579.5 430.4L580 434L580.5 429.3L581 430.1L581.5 429.2L582 428.7L582.5 427.9L583 428.2L583.5 427.4L584.5 430.8L585 433.3L585.5 432L586 431.2L586.5 434.2L587 433L587.5 434L588 433.6L588.5 432.9L589 434.5L589.5 434.3L590 434.4L590.5 434.7L591 426L591.5 429L592 427.9L592.5 430.5L593 427.1L593.5 430.8L594 425.6L594.5 428.2L595 427.7L595.5 423.4L596 426.1L596.5 426.5L597 426.2L597.5 429.4L598 428.8L598.5 429.6L599 431.4L599.5 430.5L600 427L600.5 425.7L601 426.7L602 423.7L603 418.2L603.5 416.8L604 415.7L604.5 418.2L605 418.9L605.5 418.4L606 411.8L606.5 416.4L607 414.1L607.5 417.8L608.5 417.2L609 416.7L609.5 418.6L610 414.8L610.5 418.1L611 419.5L611.5 421.4L612 420.1L612.5 419.6L613 418.6L613.5 408.3L614 408.9L614.5 407.1L615 410.1L615.5 381.9L616 381.9L617 380.1L617.5 382.1L618 383.6L618.5 384.4L619 383.9L619.5 390.6L620 388.8L620.5 389.3L621 396L621.5 397.1L622.5 408.8L623 408.6L623.5 413.5L624 414.1L624.5 414.3L625 417.4L625.5 413.6L626 417.2L626.5 422.2L627 419.4L627.5 420.2L628 422.3L628.5 419.7L629 419.3L629.5 413.5L630 411.5L630.5 410L631 412.9L631.5 407.5L632 407.5L632.5 406.6L633.5 403.2L634 403.6L634.5 397.7L635 397.2L635.5 396.5L636 394.3L636.5 396.4L637 394.5L637.5 395.1L638 396.9L638.5 397.6L639 395.2L639.5 401.1L640 397.4L640.5 400.7L641 402.1L641.5 402.9L642 403.2L642.5 405.2L643 406.3L643.5 406.3L644 407.7L644.5 407.5L645 408.8L645.5 414.1L646 414.3L646.5 413.5L647 410.5L647.5 419.3L648 421.9L648.5 421.4L649 419.6L649.5 421.1L650 424.8L650.5 423.7L651 424.3L651.5 429.8L652 428.1L652.5 428.9L653 432.6L654 434.2L654.5 434.5L655 433.8L656 431.8L656.5 436.9L657 439.3L657.5 439.7L658 438.4L659 439.7L659.5 440L660 441.1L660.5 440.2L661 441.9L661.5 439.9L662.5 440.5L663 440.2L663.5 436.5L664 441.4L664.5 441.3L665 440.1L665.5 441.1L666 444L666.5 442.4L667 445.9L667.5 446.1L668 445.7L668.5 446.4L669 444.7L669.5 447.1L670 448.5L671 445.7L671.5 447.9L672 449.2L672.5 447L673 449.2L673.5 443.5L674 448.8L674.5 449.7L675 448.7L675.5 444.1L676 447.6L676.5 449.7L677 447.4L677.5 449.2L678 445.2L678.5 450L679 449.1L679.5 449.7L680 449.5L680.5 448.7L681 449.9L681.5 446.3L682 449.4L682.5 446.5L683 449.3L683.5 449.8L684 448.7L684.5 448.6L685 450.1L685.5 450.6L686 449.9L686.5 451.5L687 450.1L687.5 449.7L688 450.7L688.5 449.2L689 450.3L689.5 449L690 447.1L690.5 440.1L691 442.2L692 439.1L692.5 441.2L693 441.9L693.5 440.5L694 434.4L694.5 419.3L695 419.8L696 417.9L696.5 418.8L697 420.2L697.5 420.5L698 421.7L698.5 421.1L699 418.4L699.5 423.4L700 423.8L700.5 424.1L701 442.6L701.5 444.5L702 443.6L702.5 444.3L703 445.2L703.5 444.6L704 445.1L704.5 443.4L705 446.4L705.5 445L706 446.1L706.5 448.5L707.5 448.6L708 447.2L708.5 448.2L709 447.9L709.5 448.3L710 444.6L710.5 447.8L711 444.2L711.5 441.9L712 443.7L712.5 444.9L713 444.9L714 440.7L714.5 442.4L715 443.2L715.5 440.4L716 442.6L716.5 439.4L717 441.4L717.5 439.6L718 441.4L718.5 441.2L719 440.1L719.5 440.9L720 442.2L721 440.1L721.5 436.7L722 440.1L722.5 437.6L723 437.8L723.5 437L724.5 432.5L725 435L725.5 434.5L726 433L726.5 434.3L727 433.8L727.5 435.9L728 436.4L728.5 436.7L729 434.4L729.5 437L730 436.6L730.5 433.6L731 437L731.5 437.3L732 436.8L732.5 437.3L733 437.4L733.5 434.1L734 437.2L734.5 437L735 436.6L735.5 440.6L736 439.6L736.5 440L737 439.3L737.5 440.2L738 439.8L738.5 443.1L739 443.3L739.5 443.1L740 443.5L740.5 444.1L741 443.4L741.5 447.6L742 446.8L742.5 447.1L743 448.2L743.5 445.2L744 448.7L744.5 445.3L745 445.5L745.5 445.3L746 446.1L746.5 447.3L747 444.6L747.5 443.7L748 446.9L748.5 443.9L749 443.8L749.5 445.6L750 443.1L750.5 445.1L751 438.3L751.5 444.8L752 444L752.5 443.9L753 444.1L753.5 443.9L754 441L754.5 445.4L755 444.6L755.5 445.4L756 445.7L756.5 445.3L757 448.1L758 449.8L758.5 449.7L759 447.3L759.5 448.3L760 445.6L760.5 444.2L761 445.6L761.5 445.7L762 443.7L762.5 444.9L763 443.2L763.5 442.8L764 444.2L764.5 442.6L765 442.2L765.5 442.3L766 440.5L766.5 440.5L767 438.7L767.5 437.8L768 435.3L768.5 434.7L769 435.1L769.5 432.5L770 433.9L770.5 432.8L771 433.7L771.5 427.8L772 430.4L772.5 426.2L773 429.3L773.5 428.1L774 430.8L774.5 432.4L775 435.3L775.5 436.2L776 434.2L776.5 436.8L777 441.2L777.5 440.6L778 441L778.5 437.3L779 438.8L779.5 444.1L780 440.9L781 441.2L782 444.5L782.5 444.1L783 442.6L783.5 443.2L784 443.2L784.5 446.1L785 446.4L785.5 448.2L786 449.3L786.5 450L787 449L787.5 449.8L788 448.5L788.5 451.8L789 451.6L789.5 449.2L790.5 453.1L791 452.6L791.5 453.3L792 451.4L792.5 452.9L793 452.8L793.5 451L794 450.2L794.5 448.6L795 445.9L795.5 441.8L796 442.3L796.5 440.9L797 441.9L797.5 440.9L798 441.1L798.5 442.1L799 444.7L799.5 444L800 444.4L800.5 441.8L801 444.9L802 446.5L802.5 445.4L803 446.5L803.5 444.1L804 446.9L804.5 443.9L805 443.2L805.5 443.1L806 445.8L806.5 442.1L807 441.7L807.5 437.8L808 443.2L808.5 437.5L809 435.2L809.5 432L810 432.6L811 429.4L811.5 431.8L812.5 426.3L813 429.9L813.5 430L814 431.2L814.5 431.1L815 431.3L815.5 427.5L816 430.5L816.5 430.8L817 430.2L817.5 421.1L818 423.7L818.5 422.9L819 412.3L819.5 411.6L820 409L820.5 411.4L821 410.7L821.5 404.4L822 404.9L822.5 404.8L823 405.1L823.5 414.4L824.5 417.1L825 426.9L825.5 424.4L826 426.9L826.5 426.3L827 427L827.5 428.5L828 430.5L828.5 428.8L829 428.1L829.5 429.7L830 429.9L831 431.3L831.5 427L832 430.1L832.5 435.3L833 435.5L833.5 431.5L834 438.4L834.5 437L835 437.7L835.5 439.8L836 439.7L836.5 439.5L837 438.2L837.5 440.2L838 438.1L838.5 438.4L839 434.6L839.5 440.7L840 441.6L840.5 440.5L841 437.9L841.5 437.3L842 438.3L842.5 437.9L843 437L843.5 438.8L844 438.6L844.5 441.2L845 439.4L845.5 443.1L846 443.1L846.5 447.7L847 446.2L847.5 448.5L848 447.1L848.5 448.2L849 448.5L849.5 449.5L850 449.5L850.5 449.2L851 449.6L851.5 447.2L852 450.3L852.5 446.7L853 449.6L853.5 448.7L854 450.6L854.5 449.8L855 450.4L855.5 449L856 452.9L856.5 452.7L857 452.8L857.5 451.9L858 452.1L858.5 454.5L859 453.4L859.5 454L860 453L861 453.5L861.5 450.4L862 453.6L862.5 452.4L863 449.5L863.5 450.4L864 450.2L864.5 446.2L865 445.8L865.5 447.7L866 446L866.5 448.3L867 447.5L868 443.8L868.5 437.8L869 443.7L869.5 443L870 443.9L870.5 445.3L871 442.7L871.5 442.6L872 443.4L872.5 440.8L873 441.7L873.5 436.5L874 441.5L874.5 443.5L875 441.9L875.5 441L876 442.4L876.5 441.7L877.5 445.1L878.5 442.7L879 443.8L879.5 441.3L880 444.5L880.5 442.1L881 444.2L881.5 443.2L882 448.1L882.5 447L883 448" fill="none" stroke="#fff" stroke-opacity="0.28" stroke-width="0.6"/>
<path d="M102 50L103 50L103.5 71.4L104.5 142.9L106 300L107 354L109.5 404.5L110.5 422.1L113.5 442L116.5 452.2L117 453.3L121.5 462.4L122 463.2L129 473L135 479.2L138 482.7L138.5 482.8L141 480.5L141.5 480.2L142 480.2L143 479.9L143.5 480L144 479.8L144.5 479.4L145 479.4L145.5 478.8L146 478.8L146.5 478.9L147 478.5L147.5 478.7L148 477.6L148.5 478.1L149 477.9L150 476.1L150.5 474.2L151 475.7L151.5 472.7L152 476.1L152.5 475L153 475.8L153.5 474.6L154 474.6L154.5 473.6L155 473.6L155.5 474.5L156 474.3L156.5 474.5L157 474.4L157.5 473.6L158.5 474.1L159 473.8L159.5 474L160 472.2L160.5 472.8L161 471.8L161.5 472.7L162 467.1L162.5 472.6L163 472L163.5 467.5L164 468.9L164.5 465L165 470L165.5 467.4L166 467L166.5 463L167 467.5L167.5 468.7L168 468.3L168.5 469.4L169 463.1L169.5 468L170 468.5L170.5 466.8L171 464.4L171.5 469L172 469.1L172.5 471.9L173 471L173.5 470.7L174 471.3L174.5 469.8L175 469.8L175.5 469.1L176 470.3L176.5 469.5L177 468.1L177.5 468L178 457.8L178.5 464.5L179 463.7L179.5 456.2L180 464L180.5 465.5L181 462.5L182 469L182.5 469.5L183 466.9L183.5 462.6L184 467.8L184.5 465.9L185 467.4L185.5 468.2L186 467.9L186.5 466.5L187 469.1L187.5 469.5L188 466.9L188.5 467L189.5 461.6L190 462.5L190.5 465.1L191 461.6L191.5 460.4L192 448.2L192.5 442.6L193 449.6L193.5 439L194 440.4L194.5 440.1L195 463.1L195.5 466.2L196 462.5L196.5 467.5L197 469L197.5 470.1L198 462.1L198.5 469.3L199 469.3L199.5 470.1L200 466.5L200.5 467.4L201 462.3L201.5 464.1L202 462.7L202.5 457.5L203 458.7L203.5 456.4L204 455.7L204.5 454.5L205 455.1L205.5 454L206 451.9L206.5 454.6L207 455.7L207.5 455.6L208 456.9L208.5 458.7L209 459.5L209.5 457.6L210 456.8L210.5 449.1L211 449.1L211.5 450.3L212 447.1L212.5 454.6L213 452.2L213.5 465.9L214.5 468.4L215 467.1L215.5 461.6L216 466.1L216.5 467.4L217 467.2L217.5 466.1L218 468.2L218.5 466.7L219 468.7L219.5 467.4L220 469.2L220.5 465.9L221 464.2L221.5 466.6L222 464.7L222.5 464.5L223 466.1L223.5 444.5L224.5 441.9L225 443.3L225.5 443.6L226 441.8L226.5 444.3L227 454.8L227.5 449.9L228 466.7L228.5 465.8L229 463.1L229.5 463L230 460.9L230.5 462.4L231 462.6L232 461.9L232.5 465.5L233 465.9L233.5 465.1L234 466.9L234.5 466.8L235 469.3L235.5 467.5L236 467L236.5 462.5L237 463L237.5 462.6L238 465L238.5 465L239 458.9L239.5 459.1L240 439.3L241 441.6L241.5 445.8L242 445.2L242.5 447.5L243 447.1L244 441.2L244.5 443.6L245 445.2L245.5 434.2L246 426.6L246.5 421.3L247 425.1L247.5 426.2L248 414.5L248.5 414.1L249 416.2L249.5 432.1L250 429.1L250.5 437.2L251 435L251.5 437.8L252 437.9L252.5 436.7L253 454.6L254 448L254.5 457.5L255 455.9L255.5 455.9L256 454.8L256.5 455.5L257 452.6L257.5 432.2L258 435.6L258.5 434.5L259 447.6L259.5 449.4L260.5 450.9L261.5 445.3L262 445.6L262.5 440.5L263 444.1L263.5 463.3L264 465.2L264.5 463.8L265 463.8L265.5 463.5L266 469.1L266.5 465.3L267 469L267.5 467.4L268 468.7L268.5 469.3L269 466.6L269.5 467.9L270 463.5L270.5 466.2L271 467.6L271.5 463.5L272 465.3L272.5 446.3L273 446L273.5 434.2L274 434.3L274.5 432L275.5 434.5L276 446.9L276.5 444.5L277 448.4L277.5 446.1L278 449.4L278.5 450.8L279 448.7L279.5 454.5L280 452.8L280.5 453.7L281 456.3L281.5 455L282 452.9L282.5 455.1L283 455.8L283.5 455.2L284 455.2L284.5 452.7L285 454.8L285.5 451.2L286 451L286.5 448.1L287 446.9L287.5 450.6L288 449L288.5 445.9L289 445.8L289.5 449.1L290 454.7L290.5 455.8L291 455.8L291.5 454.3L292 455.5L292.5 450.3L293 453.4L293.5 455.8L294 454.1L295 456L295.5 455.7L296 450.2L296.5 454L297 452.3L297.5 454L298 452.5L298.5 453.8L299.5 452L300 447.6L300.5 447.2L301 450.2L301.5 450.6L302 448.3L302.5 449.8L303 455L303.5 449.4L304 458.5L304.5 456.2L305 457.7L305.5 456.7L306 453.2L306.5 453.8L307 452.5L307.5 451.8L308 447.6L308.5 450.5L309 448.9L309.5 445L310 447.5L310.5 447.1L311 446L311.5 440.2L312 447.2L312.5 449.1L313 447.3L313.5 451.1L314.5 448.4L315 449.1L316 448.9L317 440.5L317.5 444.2L318 442.3L318.5 436.7L319 439.7L319.5 445L320 444L320.5 441.5L321 448.8L321.5 449.1L322 447.7L322.5 449L323 443.6L324 441.1L324.5 443.4L325 442.7L325.5 444.8L326.5 445.8L327 444L327.5 451.6L328 450.6L328.5 448.5L329 449.2L329.5 451.5L330 449.3L330.5 450.8L331.5 451.4L332 452.1L332.5 453.6L333 451L334 453L334.5 450.9L335 451.2L335.5 449.2L336 452.8L336.5 454.1L337 453.2L337.5 451.4L338 451.4L338.5 452.1L339 454.1L339.5 454.9L340.5 448.6L341 449.8L341.5 452.1L342 450.2L342.5 449.3L343 449.1L343.5 447.4L344 448.8L344.5 441.1L345 442.5L345.5 440.9L346 442.1L347 443.1L347.5 441.6L348 444.2L348.5 441.9L349 445.2L349.5 442.9L350 443.3L350.5 443.8L351 441.5L351.5 443.6L352 444.3L352.5 444.4L353 438.6L353.5 442L354 442.3L354.5 430.9L355 428.7L355.5 431L356 427.4L356.5 425.1L357 425.4L357.5 434L358 431.9L358.5 434.3L359 434.5L359.5 449.5L360 448.9L360.5 447.4L361 451.1L361.5 450.8L362 455.3L362.5 461.4L363 459L363.5 460.5L364 461.3L364.5 463.6L365 463L365.5 465.2L366 464.8L366.5 464.3L367 465.3L367.5 465.8L368 465.2L368.5 464.9L369 466L369.5 463L370.5 466.5L371 463.1L371.5 461.1L372 463.4L372.5 463.7L373 466.5L373.5 466.1L374 466.4L374.5 466.2L375.5 467.8L376 462.4L376.5 468.1L377 466.5L377.5 468L378 463.5L378.5 463.6L379 467.6L379.5 468.6L380 468.3L380.5 465.9L381 467.5L381.5 466.7L382 464.4L382.5 463.1L383 458.5L383.5 466.3L384 461.9L384.5 466L385 464.9L385.5 464.2L386 463L386.5 464.7L387 463.8L387.5 460.3L388 462.4L388.5 454.3L389 452.1L389.5 453.4L390 456.3L390.5 456.4L391 457.8L392 457.5L392.5 451.2L393 449.8L393.5 451.4L394 443.6L394.5 446.5L395 447.9L395.5 448.4L396 445.5L396.5 453.7L397 453.6L397.5 449.6L398 454.8L398.5 462.4L399 461.9L399.5 465.4L400 466L400.5 463L401 467.6L401.5 466.7L402 465.4L402.5 461.1L403 468.4L403.5 465.1L404 465.8L404.5 469.3L405 466.6L405.5 468.2L406 464.8L406.5 465.4L407 465.3L407.5 467.2L408 463.9L408.5 463.5L409 459.1L409.5 458.5L410 459.4L410.5 461.4L411 460L411.5 460.3L412 463.1L412.5 462.8L413 462.2L413.5 468.5L414 470.2L414.5 462.8L415 469L415.5 470.9L416 467L416.5 469.3L417 464.9L417.5 467.8L418 472.5L418.5 469.5L419 471.9L419.5 469.4L420 469.3L420.5 469.9L421 468L421.5 467.1L422 459.4L422.5 466.1L423 460.1L423.5 467.2L424 467.8L424.5 465.4L425 465.4L425.5 465.3L426 459.1L426.5 460.3L427.5 460.8L428 463.6L428.5 462.8L429 468.7L429.5 468.1L430.5 472.7L431 471.2L432 473.9L432.5 473.7L433 472.5L433.5 473.6L434 472.3L434.5 472.1L435 471.5L435.5 468.5L436 472L436.5 471.9L437 471.4L437.5 471.9L438 470.5L438.5 469.7L439 469.7L439.5 471.2L440 471.3L441 467.6L442 469.8L442.5 466.7L443 465.1L443.5 465.2L444 466.6L444.5 464.6L445.5 461.6L446 465.3L446.5 465.1L447 459.7L448 466.1L448.5 468.3L449 468.8L449.5 470.4L450 467.8L450.5 469.5L452 465.9L452.5 462.2L453 462.5L453.5 459.6L454 464L454.5 464.7L455 464.6L455.5 463.2L456 465.1L456.5 465.7L457 467.1L457.5 466.1L458 467.3L458.5 470.1L459 467.1L459.5 468L460 469.9L460.5 468.8L461 468.9L461.5 469.7L462 469.2L462.5 466.8L463 468L463.5 464.7L464 466.9L464.5 465.7L465 467.5L465.5 465L466 465.8L467 463.2L467.5 464.6L468.5 465.7L469 464L469.5 464.9L470 464.9L470.5 466.2L471 467L471.5 465.3L472 469.3L472.5 464.6L473 472L473.5 473.2L474 473.2L474.5 464.7L475 474.9L475.5 472.4L476 473.4L476.5 471L477 473.5L477.5 469.8L478 473.7L478.5 473.8L479 473.2L479.5 469.3L480 472.4L480.5 468.1L481 466.9L481.5 472.4L482 471.2L482.5 468.8L483 467.3L483.5 470.1L484 466L484.5 467.9L485 468L485.5 468.2L486 467.5L486.5 468.2L487 468.7L487.5 464.1L488.5 468L489 466.1L489.5 470.3L490 468.4L490.5 470.3L491 464.8L491.5 472.4L492.5 471.2L493 473.5L493.5 468.7L494 469.6L494.5 467.4L495 466.9L495.5 464.5L496 464.6L496.5 464.3L497.5 462.8L498 464.8L498.5 465.3L499 465.4L499.5 467.1L500 467.4L500.5 468.4L501 469.9L501.5 467.3L502 468.5L502.5 469.5L503 467.9L503.5 462.5L504 465.6L504.5 468.1L505 465.2L505.5 463.4L506 462.9L506.5 463.4L507 463.1L507.5 463.5L508 457.8L508.5 456.8L509 458.8L509.5 459L510 447.1L510.5 455.4L511 453.9L511.5 454.3L512 458.5L512.5 460.1L513 463.5L513.5 464.3L514 464L514.5 458.6L515 462L515.5 458.6L516 458.8L516.5 456.4L517 461.5L517.5 460.7L518 460.8L518.5 455.8L519 464.1L519.5 463.9L520 468.5L520.5 466.9L521 467.1L521.5 467.6L522 463.8L522.5 462.6L523 463.9L523.5 464L524 461.9L524.5 462.2L525 462.8L525.5 462.4L526 460.3L526.5 459.2L527 462.1L527.5 461.3L528 462L528.5 461.1L529 459.6L529.5 460.3L530 457.5L530.5 455.4L531 462.2L531.5 460.7L532 462.1L532.5 457.8L533 457.3L534 461.3L534.5 457L535 461.7L536 461.7L536.5 461.2L537.5 462.8L538 462.5L538.5 459.4L539 460.7L539.5 464.5L540 461.7L540.5 462.3L541 461.2L541.5 463.5L542 461.7L543 463.7L543.5 459.7L544 461.4L544.5 460L545 452.8L545.5 458.6L546 456.9L546.5 456.2L547 457.4L547.5 457L548 457.6L548.5 457.4L549 460.3L549.5 460.3L550 461.8L550.5 459.2L551 462L551.5 463L552 463.4L552.5 462.3L554 467.4L554.5 464.5L555 462.7L555.5 465.6L556 462L556.5 465.4L557 468L557.5 467.8L558 464.7L558.5 467.4L559 466.1L559.5 461.6L560.5 466.5L561 468.4L561.5 468.5L562 465.1L562.5 468.8L563 468.1L563.5 465.5L564 468.9L564.5 468.3L565 468.9L565.5 469.2L566 461.4L566.5 462.6L567 467.5L567.5 467.5L568 466.6L568.5 462.9L569 466.4L569.5 467.1L570 466.6L570.5 468L571 467.4L571.5 463.6L572 467.7L572.5 463.6L573 466.5L573.5 464.7L574 465.2L574.5 465.4L575 463.7L575.5 465.8L576 465.5L576.5 466.5L577 464.5L577.5 465.8L578 464.3L578.5 460.4L579 460.2L579.5 453.1L580 462.3L581 456.3L581.5 456.8L582 463.2L583 463.7L583.5 462.8L584 463.9L585 460.5L585.5 463.2L586.5 463.5L587 463.2L587.5 463.5L588 465.1L589 461.6L589.5 463.3L590 456.5L590.5 463.5L591 463.5L591.5 461.3L592 457.6L593 459.6L593.5 459.4L594 458.1L594.5 459.6L595.5 457.8L596 462.5L596.5 454.5L597 461L597.5 461.7L598 462.9L599 458.9L599.5 462.1L600.5 461.8L601 459.6L601.5 459.4L602 455.8L602.5 454.1L603 456.7L603.5 453.5L604 456.4L604.5 458.1L605 456.4L605.5 458.2L606 458.4L606.5 453.2L607 454.8L607.5 459.4L608 459.3L608.5 460.2L609 460.6L609.5 457.6L610 456.1L610.5 451.1L611 458.5L611.5 457.5L612 460.2L612.5 459.7L613 455.1L613.5 457.2L614 458.4L614.5 458.1L615 438.3L615.5 438.4L616 437.5L616.5 442.2L617 449.2L617.5 449.1L618 449.2L618.5 451.7L619 452.6L620 455.8L620.5 456.8L621 457.4L621.5 455.1L622 456.4L622.5 457.1L623 460.6L623.5 459.8L624 453.4L624.5 456.4L625 461.4L626 456.2L626.5 459.4L627 457.4L627.5 460.3L628 457.5L628.5 458.3L629 455.6L629.5 456.5L630 457.1L630.5 449.8L631 452L631.5 448.5L632 451.3L632.5 452.4L633 448.9L633.5 449.5L634.5 448.1L635 449.3L635.5 442.1L636 443.8L636.5 444.8L637 448.4L638 449.5L638.5 450.8L639 451L639.5 451.6L640 449.9L640.5 454.4L641 453.5L641.5 452.2L642 453.2L642.5 449.6L643 455.6L643.5 456.3L644 457.7L644.5 457.9L645 459.8L645.5 458.5L646 454.4L646.5 460.4L647 461L647.5 460.7L648 462.1L648.5 461.9L649 461.3L649.5 460.4L650 457.9L650.5 465.6L651 465.2L651.5 462.9L652 459.2L652.5 465.1L653 465.5L653.5 466.1L654 462.2L654.5 462.4L655 465L655.5 465.7L656 466.7L656.5 462.2L657 467.1L657.5 468.3L658.5 464.3L659 460.3L659.5 468.2L660 468.6L660.5 463.4L661 469L661.5 470L662 462.1L662.5 465.4L663 471.1L663.5 469.7L664 471.9L665 471.5L665.5 469.9L666 470.7L666.5 463L667 468.4L667.5 470.6L668 470.4L668.5 472.2L669 472L669.5 469.6L670 470.8L670.5 471.1L671 472.1L671.5 468.1L672 470.9L672.5 471.4L673 470L673.5 472.5L674 473.1L674.5 470.8L675 470.3L676 471.8L677.5 475.2L678 472.4L678.5 473.7L679 473.8L680 472L681 473.5L681.5 472.5L682.5 469.6L683 469.1L683.5 470L684 469.4L684.5 468.3L685 471.5L685.5 470.1L686 471.2L686.5 470L687 471.9L687.5 471.7L688 471.9L688.5 473.1L689 471.5L689.5 472.5L690 467.5L690.5 471.2L691 461.8L691.5 468.8L692 467.3L692.5 467.5L693 466.2L693.5 466.1L694 462.7L694.5 461.8L695 459.1L695.5 451.6L696 454L696.5 455.1L697 452.6L697.5 454.8L698 462.8L698.5 463L699 462L699.5 464.1L700 469.3L700.5 465.4L701.5 471.4L702 463.5L702.5 466.9L703.5 468.5L704 470.3L704.5 467.9L705 469.8L705.5 470.6L706 469.1L706.5 465.8L707 469.5L707.5 470.4L708 469.6L709 469.5L709.5 471.2L710 469.8L710.5 470.4L711.5 469.1L712 469.3L712.5 471.5L713 466.6L713.5 466.7L714 465.8L714.5 469.7L715 462.5L715.5 468L716 468.8L716.5 466.7L717 465.4L717.5 464.9L718 465.6L718.5 462.4L719 464.9L719.5 463.5L720 463.9L720.5 463.8L721 465.5L721.5 461.2L722 464.1L722.5 465.6L723 464.4L723.5 466.4L724 459.3L724.5 467.6L725 460.6L725.5 467.8L726 465.2L726.5 467.1L727 466.6L727.5 467.6L728 466.3L728.5 457.9L729 460L729.5 463.9L730 463.1L730.5 466.6L731 466.2L731.5 464.9L732 465.7L732.5 467L733 467.1L733.5 465.9L734 464.1L734.5 468.5L735 471.1L736 469.1L736.5 471.7L737 463.6L737.5 469.7L738 470.7L738.5 469.1L739 468.4L739.5 465.2L740 471.3L740.5 469.3L741 465L741.5 467.4L742 471.8L742.5 472.4L743 472.7L743.5 470.1L744 470.2L744.5 472.2L745 470.4L745.5 466.1L746 470.1L746.5 470.4L747 469.3L747.5 471.4L748 464.7L748.5 468L749.5 466.2L750 470.2L750.5 470.9L751 470.8L751.5 466.3L752 470.8L752.5 472.3L753 469.7L753.5 472.3L754 471.3L754.5 464.4L755 471.5L755.5 469.4L756 471.4L756.5 466.3L757 468.8L757.5 468.9L758 466L758.5 474L759 472.6L759.5 466.1L760 464.7L760.5 471.3L761 471.2L761.5 471.8L762.5 468.2L763 468L763.5 470.4L764.5 469.9L765 464.2L765.5 469.2L766 468.4L766.5 467.2L767 460L767.5 467.5L768 461.3L768.5 465.9L769 465L769.5 465.9L770 466L770.5 462.5L771 463.8L771.5 456.9L772 456.7L772.5 459.5L773 463.8L773.5 463.2L774.5 468L775 465.5L775.5 465.4L776 469L776.5 470.7L777 469.8L777.5 467.8L778 464.7L778.5 467.4L779 460.1L780 464.7L780.5 462.7L781 467L782 470.6L782.5 469.8L783 469.8L783.5 471.9L784 471.2L784.5 464.2L785 472.3L785.5 474.2L786 470.2L786.5 473.8L787 473.5L787.5 471.6L788 473.3L788.5 472.3L789 473.9L789.5 472.3L790 474.5L790.5 471.4L791 475L791.5 471.3L792 470.4L792.5 473.4L793 473.1L793.5 474.2L794 474.5L794.5 472.2L795 472.4L795.5 469.2L796 469.5L796.5 468.9L797 468.6L797.5 471L798.5 469.6L799 470L799.5 470.3L800 470.2L800.5 469.3L801 470.1L801.5 470.5L802 471.9L802.5 467.8L803 471.9L803.5 470.6L804 469.9L804.5 468.4L805 468.8L805.5 465.3L806 469L806.5 466L807 465.1L807.5 466.5L808 467.3L808.5 466.4L809 463.2L809.5 465.7L810 463.6L810.5 466.2L811 464L811.5 464.3L812 465.6L812.5 464.6L813 469L813.5 469.9L814 469.4L814.5 467.3L815 466.7L815.5 463.1L816 464.4L816.5 456.9L817 452.1L817.5 459.1L818 460.3L818.5 459.9L819 453.1L819.5 453.2L820.5 458L821 457.6L821.5 458.4L822 464.2L822.5 463L823 467.3L823.5 467.2L824 465.8L824.5 466L825 461.6L825.5 463.2L826 465.4L826.5 465L827 462.4L827.5 465.4L828 463.7L828.5 463.5L829 468.1L829.5 464.8L830 470.6L830.5 471.1L831 468.1L831.5 469.9L832 471L832.5 469.6L833 467.7L833.5 471.7L834 468.3L834.5 469.8L835 467.5L835.5 467.5L836 471.7L836.5 471.4L837 470.3L837.5 469.9L838 468.7L838.5 469.8L839 467L839.5 468.4L840 462.2L840.5 469.4L841 470.5L842 470.3L842.5 470.6L843 468.6L843.5 469.4L844 470.5L844.5 471L845.5 466.3L846 470.5L846.5 468.5L847 469.6L847.5 468.7L848 471.6L848.5 472L849 473.2L849.5 472.4L850 465.6L850.5 472.8L851 468.1L851.5 466.1L852 473.6L852.5 474.4L853 474.5L853.5 474.4L854 474L854.5 473.2L855 473.9L855.5 474.1L856 475.3L856.5 476.2L857 476.3L857.5 468.2L858 476.4L858.5 475.7L859 475.8L859.5 475.3L860.5 474.8L861 474.8L861.5 473.3L862 471.4L862.5 471.2L863 471.7L863.5 470.3L864.5 471.8L865.5 467.9L866 468.4L866.5 465.8L867 470.5L867.5 470.7L868 467.6L868.5 467.8L869 471.6L869.5 468.3L870 470.6L870.5 469.5L871 467.3L871.5 467.6L872 469.5L872.5 469.9L873 468.6L873.5 466.6L874 469.4L874.5 462.5L875 470.7L875.5 466.8L876 470.8L876.5 471.7L877 464.5L877.5 470.2L878 470.9L878.5 469.8L879 472.4L879.5 473L880 466.5L880.5 473.3L881 471.8L881.5 471.5L882 470.7L882.5 473.1L883 471.7L884 487L102 487Z" fill="#de6c7b"/>
<path d="M102 50L103 50L103.5 71.4L104.5 142.9L106 300L107 354L109.5 404.5L110.5 422.1L113.5 442L116.5 452.2L117 453.3L121.5 462.4L122 463.2L129 473L135 479.2L138 482.7L138.5 482.8L141 480.5L141.5 480.2L142 480.2L143 479.9L143.5 480L144 479.8L144.5 479.4L145 479.4L145.5 478.8L146 478.8L146.5 478.9L147 478.5L147.5 478.7L148 477.6L148.5 478.1L149 477.9L150 476.1L150.5 474.2L151 475.7L151.5 472.7L152 476.1L152.5 475L153 475.8L153.5 474.6L154 474.6L154.5 473.6L155 473.6L155.5 474.5L156 474.3L156.5 474.5L157 474.4L157.5 473.6L158.5 474.1L159 473.8L159.5 474L160 472.2L160.5 472.8L161 471.8L161.5 472.7L162 467.1L162.5 472.6L163 472L163.5 467.5L164 468.9L164.5 465L165 470L165.5 467.4L166 467L166.5 463L167 467.5L167.5 468.7L168 468.3L168.5 469.4L169 463.1L169.5 468L170 468.5L170.5 466.8L171 464.4L171.5 469L172 469.1L172.5 471.9L173 471L173.5 470.7L174 471.3L174.5 469.8L175 469.8L175.5 469.1L176 470.3L176.5 469.5L177 468.1L177.5 468L178 457.8L178.5 464.5L179 463.7L179.5 456.2L180 464L180.5 465.5L181 462.5L182 469L182.5 469.5L183 466.9L183.5 462.6L184 467.8L184.5 465.9L185 467.4L185.5 468.2L186 467.9L186.5 466.5L187 469.1L187.5 469.5L188 466.9L188.5 467L189.5 461.6L190 462.5L190.5 465.1L191 461.6L191.5 460.4L192 448.2L192.5 442.6L193 449.6L193.5 439L194 440.4L194.5 440.1L195 463.1L195.5 466.2L196 462.5L196.5 467.5L197 469L197.5 470.1L198 462.1L198.5 469.3L199 469.3L199.5 470.1L200 466.5L200.5 467.4L201 462.3L201.5 464.1L202 462.7L202.5 457.5L203 458.7L203.5 456.4L204 455.7L204.5 454.5L205 455.1L205.5 454L206 451.9L206.5 454.6L207 455.7L207.5 455.6L208 456.9L208.5 458.7L209 459.5L209.5 457.6L210 456.8L210.5 449.1L211 449.1L211.5 450.3L212 447.1L212.5 454.6L213 452.2L213.5 465.9L214.5 468.4L215 467.1L215.5 461.6L216 466.1L216.5 467.4L217 467.2L217.5 466.1L218 468.2L218.5 466.7L219 468.7L219.5 467.4L220 469.2L220.5 465.9L221 464.2L221.5 466.6L222 464.7L222.5 464.5L223 466.1L223.5 444.5L224.5 441.9L225 443.3L225.5 443.6L226 441.8L226.5 444.3L227 454.8L227.5 449.9L228 466.7L228.5 465.8L229 463.1L229.5 463L230 460.9L230.5 462.4L231 462.6L232 461.9L232.5 465.5L233 465.9L233.5 465.1L234 466.9L234.5 466.8L235 469.3L235.5 467.5L236 467L236.5 462.5L237 463L237.5 462.6L238 465L238.5 465L239 458.9L239.5 459.1L240 439.3L241 441.6L241.5 445.8L242 445.2L242.5 447.5L243 447.1L244 441.2L244.5 443.6L245 445.2L245.5 434.2L246 426.6L246.5 421.3L247 425.1L247.5 426.2L248 414.5L248.5 414.1L249 416.2L249.5 432.1L250 429.1L250.5 437.2L251 435L251.5 437.8L252 437.9L252.5 436.7L253 454.6L254 448L254.5 457.5L255 455.9L255.5 455.9L256 454.8L256.5 455.5L257 452.6L257.5 432.2L258 435.6L258.5 434.5L259 447.6L259.5 449.4L260.5 450.9L261.5 445.3L262 445.6L262.5 440.5L263 444.1L263.5 463.3L264 465.2L264.5 463.8L265 463.8L265.5 463.5L266 469.1L266.5 465.3L267 469L267.5 467.4L268 468.7L268.5 469.3L269 466.6L269.5 467.9L270 463.5L270.5 466.2L271 467.6L271.5 463.5L272 465.3L272.5 446.3L273 446L273.5 434.2L274 434.3L274.5 432L275.5 434.5L276 446.9L276.5 444.5L277 448.4L277.5 446.1L278 449.4L278.5 450.8L279 448.7L279.5 454.5L280 452.8L280.5 453.7L281 456.3L281.5 455L282 452.9L282.5 455.1L283 455.8L283.5 455.2L284 455.2L284.5 452.7L285 454.8L285.5 451.2L286 451L286.5 448.1L287 446.9L287.5 450.6L288 449L288.5 445.9L289 445.8L289.5 449.1L290 454.7L290.5 455.8L291 455.8L291.5 454.3L292 455.5L292.5 450.3L293 453.4L293.5 455.8L294 454.1L295 456L295.5 455.7L296 450.2L296.5 454L297 452.3L297.5 454L298 452.5L298.5 453.8L299.5 452L300 447.6L300.5 447.2L301 450.2L301.5 450.6L302 448.3L302.5 449.8L303 455L303.5 449.4L304 458.5L304.5 456.2L305 457.7L305.5 456.7L306 453.2L306.5 453.8L307 452.5L307.5 451.8L308 447.6L308.5 450.5L309 448.9L309.5 445L310 447.5L310.5 447.1L311 446L311.5 440.2L312 447.2L312.5 449.1L313 447.3L313.5 451.1L314.5 448.4L315 449.1L316 448.9L317 440.5L317.5 444.2L318 442.3L318.5 436.7L319 439.7L319.5 445L320 444L320.5 441.5L321 448.8L321.5 449.1L322 447.7L322.5 449L323 443.6L324 441.1L324.5 443.4L325 442.7L325.5 444.8L326.5 445.8L327 444L327.5 451.6L328 450.6L328.5 448.5L329 449.2L329.5 451.5L330 449.3L330.5 450.8L331.5 451.4L332 452.1L332.5 453.6L333 451L334 453L334.5 450.9L335 451.2L335.5 449.2L336 452.8L336.5 454.1L337 453.2L337.5 451.4L338 451.4L338.5 452.1L339 454.1L339.5 454.9L340.5 448.6L341 449.8L341.5 452.1L342 450.2L342.5 449.3L343 449.1L343.5 447.4L344 448.8L344.5 441.1L345 442.5L345.5 440.9L346 442.1L347 443.1L347.5 441.6L348 444.2L348.5 441.9L349 445.2L349.5 442.9L350 443.3L350.5 443.8L351 441.5L351.5 443.6L352 444.3L352.5 444.4L353 438.6L353.5 442L354 442.3L354.5 430.9L355 428.7L355.5 431L356 427.4L356.5 425.1L357 425.4L357.5 434L358 431.9L358.5 434.3L359 434.5L359.5 449.5L360 448.9L360.5 447.4L361 451.1L361.5 450.8L362 455.3L362.5 461.4L363 459L363.5 460.5L364 461.3L364.5 463.6L365 463L365.5 465.2L366 464.8L366.5 464.3L367 465.3L367.5 465.8L368 465.2L368.5 464.9L369 466L369.5 463L370.5 466.5L371 463.1L371.5 461.1L372 463.4L372.5 463.7L373 466.5L373.5 466.1L374 466.4L374.5 466.2L375.5 467.8L376 462.4L376.5 468.1L377 466.5L377.5 468L378 463.5L378.5 463.6L379 467.6L379.5 468.6L380 468.3L380.5 465.9L381 467.5L381.5 466.7L382 464.4L382.5 463.1L383 458.5L383.5 466.3L384 461.9L384.5 466L385 464.9L385.5 464.2L386 463L386.5 464.7L387 463.8L387.5 460.3L388 462.4L388.5 454.3L389 452.1L389.5 453.4L390 456.3L390.5 456.4L391 457.8L392 457.5L392.5 451.2L393 449.8L393.5 451.4L394 443.6L394.5 446.5L395 447.9L395.5 448.4L396 445.5L396.5 453.7L397 453.6L397.5 449.6L398 454.8L398.5 462.4L399 461.9L399.5 465.4L400 466L400.5 463L401 467.6L401.5 466.7L402 465.4L402.5 461.1L403 468.4L403.5 465.1L404 465.8L404.5 469.3L405 466.6L405.5 468.2L406 464.8L406.5 465.4L407 465.3L407.5 467.2L408 463.9L408.5 463.5L409 459.1L409.5 458.5L410 459.4L410.5 461.4L411 460L411.5 460.3L412 463.1L412.5 462.8L413 462.2L413.5 468.5L414 470.2L414.5 462.8L415 469L415.5 470.9L416 467L416.5 469.3L417 464.9L417.5 467.8L418 472.5L418.5 469.5L419 471.9L419.5 469.4L420 469.3L420.5 469.9L421 468L421.5 467.1L422 459.4L422.5 466.1L423 460.1L423.5 467.2L424 467.8L424.5 465.4L425 465.4L425.5 465.3L426 459.1L426.5 460.3L427.5 460.8L428 463.6L428.5 462.8L429 468.7L429.5 468.1L430.5 472.7L431 471.2L432 473.9L432.5 473.7L433 472.5L433.5 473.6L434 472.3L434.5 472.1L435 471.5L435.5 468.5L436 472L436.5 471.9L437 471.4L437.5 471.9L438 470.5L438.5 469.7L439 469.7L439.5 471.2L440 471.3L441 467.6L442 469.8L442.5 466.7L443 465.1L443.5 465.2L444 466.6L444.5 464.6L445.5 461.6L446 465.3L446.5 465.1L447 459.7L448 466.1L448.5 468.3L449 468.8L449.5 470.4L450 467.8L450.5 469.5L452 465.9L452.5 462.2L453 462.5L453.5 459.6L454 464L454.5 464.7L455 464.6L455.5 463.2L456 465.1L456.5 465.7L457 467.1L457.5 466.1L458 467.3L458.5 470.1L459 467.1L459.5 468L460 469.9L460.5 468.8L461 468.9L461.5 469.7L462 469.2L462.5 466.8L463 468L463.5 464.7L464 466.9L464.5 465.7L465 467.5L465.5 465L466 465.8L467 463.2L467.5 464.6L468.5 465.7L469 464L469.5 464.9L470 464.9L470.5 466.2L471 467L471.5 465.3L472 469.3L472.5 464.6L473 472L473.5 473.2L474 473.2L474.5 464.7L475 474.9L475.5 472.4L476 473.4L476.5 471L477 473.5L477.5 469.8L478 473.7L478.5 473.8L479 473.2L479.5 469.3L480 472.4L480.5 468.1L481 466.9L481.5 472.4L482 471.2L482.5 468.8L483 467.3L483.5 470.1L484 466L484.5 467.9L485 468L485.5 468.2L486 467.5L486.5 468.2L487 468.7L487.5 464.1L488.5 468L489 466.1L489.5 470.3L490 468.4L490.5 470.3L491 464.8L491.5 472.4L492.5 471.2L493 473.5L493.5 468.7L494 469.6L494.5 467.4L495 466.9L495.5 464.5L496 464.6L496.5 464.3L497.5 462.8L498 464.8L498.5 465.3L499 465.4L499.5 467.1L500 467.4L500.5 468.4L501 469.9L501.5 467.3L502 468.5L502.5 469.5L503 467.9L503.5 462.5L504 465.6L504.5 468.1L505 465.2L505.5 463.4L506 462.9L506.5 463.4L507 463.1L507.5 463.5L508 457.8L508.5 456.8L509 458.8L509.5 459L510 447.1L510.5 455.4L511 453.9L511.5 454.3L512 458.5L512.5 460.1L513 463.5L513.5 464.3L514 464L514.5 458.6L515 462L515.5 458.6L516 458.8L516.5 456.4L517 461.5L517.5 460.7L518 460.8L518.5 455.8L519 464.1L519.5 463.9L520 468.5L520.5 466.9L521 467.1L521.5 467.6L522 463.8L522.5 462.6L523 463.9L523.5 464L524 461.9L524.5 462.2L525 462.8L525.5 462.4L526 460.3L526.5 459.2L527 462.1L527.5 461.3L528 462L528.5 461.1L529 459.6L529.5 460.3L530 457.5L530.5 455.4L531 462.2L531.5 460.7L532 462.1L532.5 457.8L533 457.3L534 461.3L534.5 457L535 461.7L536 461.7L536.5 461.2L537.5 462.8L538 462.5L538.5 459.4L539 460.7L539.5 464.5L540 461.7L540.5 462.3L541 461.2L541.5 463.5L542 461.7L543 463.7L543.5 459.7L544 461.4L544.5 460L545 452.8L545.5 458.6L546 456.9L546.5 456.2L547 457.4L547.5 457L548 457.6L548.5 457.4L549 460.3L549.5 460.3L550 461.8L550.5 459.2L551 462L551.5 463L552 463.4L552.5 462.3L554 467.4L554.5 464.5L555 462.7L555.5 465.6L556 462L556.5 465.4L557 468L557.5 467.8L558 464.7L558.5 467.4L559 466.1L559.5 461.6L560.5 466.5L561 468.4L561.5 468.5L562 465.1L562.5 468.8L563 468.1L563.5 465.5L564 468.9L564.5 468.3L565 468.9L565.5 469.2L566 461.4L566.5 462.6L567 467.5L567.5 467.5L568 466.6L568.5 462.9L569 466.4L569.5 467.1L570 466.6L570.5 468L571 467.4L571.5 463.6L572 467.7L572.5 463.6L573 466.5L573.5 464.7L574 465.2L574.5 465.4L575 463.7L575.5 465.8L576 465.5L576.5 466.5L577 464.5L577.5 465.8L578 464.3L578.5 460.4L579 460.2L579.5 453.1L580 462.3L581 456.3L581.5 456.8L582 463.2L583 463.7L583.5 462.8L584 463.9L585 460.5L585.5 463.2L586.5 463.5L587 463.2L587.5 463.5L588 465.1L589 461.6L589.5 463.3L590 456.5L590.5 463.5L591 463.5L591.5 461.3L592 457.6L593 459.6L593.5 459.4L594 458.1L594.5 459.6L595.5 457.8L596 462.5L596.5 454.5L597 461L597.5 461.7L598 462.9L599 458.9L599.5 462.1L600.5 461.8L601 459.6L601.5 459.4L602 455.8L602.5 454.1L603 456.7L603.5 453.5L604 456.4L604.5 458.1L605 456.4L605.5 458.2L606 458.4L606.5 453.2L607 454.8L607.5 459.4L608 459.3L608.5 460.2L609 460.6L609.5 457.6L610 456.1L610.5 451.1L611 458.5L611.5 457.5L612 460.2L612.5 459.7L613 455.1L613.5 457.2L614 458.4L614.5 458.1L615 438.3L615.5 438.4L616 437.5L616.5 442.2L617 449.2L617.5 449.1L618 449.2L618.5 451.7L619 452.6L620 455.8L620.5 456.8L621 457.4L621.5 455.1L622 456.4L622.5 457.1L623 460.6L623.5 459.8L624 453.4L624.5 456.4L625 461.4L626 456.2L626.5 459.4L627 457.4L627.5 460.3L628 457.5L628.5 458.3L629 455.6L629.5 456.5L630 457.1L630.5 449.8L631 452L631.5 448.5L632 451.3L632.5 452.4L633 448.9L633.5 449.5L634.5 448.1L635 449.3L635.5 442.1L636 443.8L636.5 444.8L637 448.4L638 449.5L638.5 450.8L639 451L639.5 451.6L640 449.9L640.5 454.4L641 453.5L641.5 452.2L642 453.2L642.5 449.6L643 455.6L643.5 456.3L644 457.7L644.5 457.9L645 459.8L645.5 458.5L646 454.4L646.5 460.4L647 461L647.5 460.7L648 462.1L648.5 461.9L649 461.3L649.5 460.4L650 457.9L650.5 465.6L651 465.2L651.5 462.9L652 459.2L652.5 465.1L653 465.5L653.5 466.1L654 462.2L654.5 462.4L655 465L655.5 465.7L656 466.7L656.5 462.2L657 467.1L657.5 468.3L658.5 464.3L659 460.3L659.5 468.2L660 468.6L660.5 463.4L661 469L661.5 470L662 462.1L662.5 465.4L663 471.1L663.5 469.7L664 471.9L665 471.5L665.5 469.9L666 470.7L666.5 463L667 468.4L667.5 470.6L668 470.4L668.5 472.2L669 472L669.5 469.6L670 470.8L670.5 471.1L671 472.1L671.5 468.1L672 470.9L672.5 471.4L673 470L673.5 472.5L674 473.1L674.5 470.8L675 470.3L676 471.8L677.5 475.2L678 472.4L678.5 473.7L679 473.8L680 472L681 473.5L681.5 472.5L682.5 469.6L683 469.1L683.5 470L684 469.4L684.5 468.3L685 471.5L685.5 470.1L686 471.2L686.5 470L687 471.9L687.5 471.7L688 471.9L688.5 473.1L689 471.5L689.5 472.5L690 467.5L690.5 471.2L691 461.8L691.5 468.8L692 467.3L692.5 467.5L693 466.2L693.5 466.1L694 462.7L694.5 461.8L695 459.1L695.5 451.6L696 454L696.5 455.1L697 452.6L697.5 454.8L698 462.8L698.5 463L699 462L699.5 464.1L700 469.3L700.5 465.4L701.5 471.4L702 463.5L702.5 466.9L703.5 468.5L704 470.3L704.5 467.9L705 469.8L705.5 470.6L706 469.1L706.5 465.8L707 469.5L707.5 470.4L708 469.6L709 469.5L709.5 471.2L710 469.8L710.5 470.4L711.5 469.1L712 469.3L712.5 471.5L713 466.6L713.5 466.7L714 465.8L714.5 469.7L715 462.5L715.5 468L716 468.8L716.5 466.7L717 465.4L717.5 464.9L718 465.6L718.5 462.4L719 464.9L719.5 463.5L720 463.9L720.5 463.8L721 465.5L721.5 461.2L722 464.1L722.5 465.6L723 464.4L723.5 466.4L724 459.3L724.5 467.6L725 460.6L725.5 467.8L726 465.2L726.5 467.1L727 466.6L727.5 467.6L728 466.3L728.5 457.9L729 460L729.5 463.9L730 463.1L730.5 466.6L731 466.2L731.5 464.9L732 465.7L732.5 467L733 467.1L733.5 465.9L734 464.1L734.5 468.5L735 471.1L736 469.1L736.5 471.7L737 463.6L737.5 469.7L738 470.7L738.5 469.1L739 468.4L739.5 465.2L740 471.3L740.5 469.3L741 465L741.5 467.4L742 471.8L742.5 472.4L743 472.7L743.5 470.1L744 470.2L744.5 472.2L745 470.4L745.5 466.1L746 470.1L746.5 470.4L747 469.3L747.5 471.4L748 464.7L748.5 468L749.5 466.2L750 470.2L750.5 470.9L751 470.8L751.5 466.3L752 470.8L752.5 472.3L753 469.7L753.5 472.3L754 471.3L754.5 464.4L755 471.5L755.5 469.4L756 471.4L756.5 466.3L757 468.8L757.5 468.9L758 466L758.5 474L759 472.6L759.5 466.1L760 464.7L760.5 471.3L761 471.2L761.5 471.8L762.5 468.2L763 468L763.5 470.4L764.5 469.9L765 464.2L765.5 469.2L766 468.4L766.5 467.2L767 460L767.5 467.5L768 461.3L768.5 465.9L769 465L769.5 465.9L770 466L770.5 462.5L771 463.8L771.5 456.9L772 456.7L772.5 459.5L773 463.8L773.5 463.2L774.5 468L775 465.5L775.5 465.4L776 469L776.5 470.7L777 469.8L777.5 467.8L778 464.7L778.5 467.4L779 460.1L780 464.7L780.5 462.7L781 467L782 470.6L782.5 469.8L783 469.8L783.5 471.9L784 471.2L784.5 464.2L785 472.3L785.5 474.2L786 470.2L786.5 473.8L787 473.5L787.5 471.6L788 473.3L788.5 472.3L789 473.9L789.5 472.3L790 474.5L790.5 471.4L791 475L791.5 471.3L792 470.4L792.5 473.4L793 473.1L793.5 474.2L794 474.5L794.5 472.2L795 472.4L795.5 469.2L796 469.5L796.5 468.9L797 468.6L797.5 471L798.5 469.6L799 470L799.5 470.3L800 470.2L800.5 469.3L801 470.1L801.5 470.5L802 471.9L802.5 467.8L803 471.9L803.5 470.6L804 469.9L804.5 468.4L805 468.8L805.5 465.3L806 469L806.5 466L807 465.1L807.5 466.5L808 467.3L808.5 466.4L809 463.2L809.5 465.7L810 463.6L810.5 466.2L811 464L811.5 464.3L812 465.6L812.5 464.6L813 469L813.5 469.9L814 469.4L814.5 467.3L815 466.7L815.5 463.1L816 464.4L816.5 456.9L817 452.1L817.5 459.1L818 460.3L818.5 459.9L819 453.1L819.5 453.2L820.5 458L821 457.6L821.5 458.4L822 464.2L822.5 463L823 467.3L823.5 467.2L824 465.8L824.5 466L825 461.6L825.5 463.2L826 465.4L826.5 465L827 462.4L827.5 465.4L828 463.7L828.5 463.5L829 468.1L829.5 464.8L830 470.6L830.5 471.1L831 468.1L831.5 469.9L832 471L832.5 469.6L833 467.7L833.5 471.7L834 468.3L834.5 469.8L835 467.5L835.5 467.5L836 471.7L836.5 471.4L837 470.3L837.5 469.9L838 468.7L838.5 469.8L839 467L839.5 468.4L840 462.2L840.5 469.4L841 470.5L842 470.3L842.5 470.6L843 468.6L843.5 469.4L844 470.5L844.5 471L845.5 466.3L846 470.5L846.5 468.5L847 469.6L847.5 468.7L848 471.6L848.5 472L849 473.2L849.5 472.4L850 465.6L850.5 472.8L851 468.1L851.5 466.1L852 473.6L852.5 474.4L853 474.5L853.5 474.4L854 474L854.5 473.2L855 473.9L855.5 474.1L856 475.3L856.5 476.2L857 476.3L857.5 468.2L858 476.4L858.5 475.7L859 475.8L859.5 475.3L860.5 474.8L861 474.8L861.5 473.3L862 471.4L862.5 471.2L863 471.7L863.5 470.3L864.5 471.8L865.5 467.9L866 468.4L866.5 465.8L867 470.5L867.5 470.7L868 467.6L868.5 467.8L869 471.6L869.5 468.3L870 470.6L870.5 469.5L871 467.3L871.5 467.6L872 469.5L872.5 469.9L873 468.6L873.5 466.6L874 469.4L874.5 462.5L875 470.7L875.5 466.8L876 470.8L876.5 471.7L877 464.5L877.5 470.2L878 470.9L878.5 469.8L879 472.4L879.5 473L880 466.5L880.5 473.3L881 471.8L881.5 471.5L882 470.7L882.5 473.1L883 471.7" fill="none" stroke="#fff" stroke-opacity="0.28" stroke-width="0.6"/>
<path d="M102 50L102.5 300L103 420L104 445L105 459.8L105.5 463.8L108 472L108.5 473.2L114.5 479.4L123 482.5L137 484.2L140.5 484.2L142 484.1L142.5 484.3L143 483.9L143.5 484.2L144 484.3L144.5 483.7L145 484.4L145.5 483.6L146 484.5L146.5 484.5L147 484.3L148 484.4L148.5 484.1L149 484.5L149.5 484.1L150 484.4L150.5 483.4L151 484.1L151.5 484L152 484.4L152.5 483.5L153 484.4L153.5 484.5L154 484.4L154.5 484L155 484.6L156 484.4L156.5 484.7L157 484.7L158 484L158.5 484.1L159 484.7L160 483.6L160.5 483.8L161 484.5L161.5 484.6L162 481.4L162.5 483.6L163 484.3L163.5 483.5L164 483.9L164.5 483.7L165 484.2L165.5 483.8L166 484.3L166.5 484.3L167 484.5L168 483L168.5 484.6L169 485L169.5 484.9L170 483.8L170.5 484.8L171 485.1L171.5 483.3L172 484.4L172.5 485L173 483.7L173.5 484.5L174 483.4L174.5 483.6L175 483.5L175.5 483L176 484.6L176.5 483.5L177 484.4L177.5 484L178 484.8L178.5 484L179 484.9L179.5 482.9L180 484.8L181 483.1L181.5 483.3L182 483L182.5 484.3L183 484.9L183.5 480.6L184 484.5L184.5 482.9L185 484.5L185.5 484.3L186.5 484.2L187 483.4L188 484.9L188.5 484.3L189 485L189.5 483.2L190 484.7L191 484.1L191.5 484.6L192 482.8L192.5 483.7L193 485L193.5 484.7L194 483.7L194.5 484.2L195 483.9L195.5 484.3L196 484L196.5 483.9L197 482.4L197.5 484.2L198 483.1L198.5 484.7L199.5 484.7L200 482.4L200.5 484.9L201.5 484.3L202 483.8L202.5 483.9L203 485L204 483.8L204.5 484.8L205 484.9L205.5 483.1L206 484.9L207 484.7L207.5 482.9L208 484L208.5 483.9L209 483.6L209.5 482.1L210 484.3L210.5 484.5L211.5 483.4L212 484.3L213 483.4L213.5 484.2L214 483.9L214.5 484.4L215 482.1L215.5 484.7L216 484.5L216.5 483.7L217 484.2L217.5 483.4L218 483.8L218.5 479.8L219 483.4L219.5 484L220 484.3L220.5 483.9L221 483.1L221.5 483.2L222 483.2L222.5 483.7L223 481.7L223.5 484L224 483.8L224.5 481.3L225 483L225.5 483.9L226 482.9L226.5 482.9L227 483.9L227.5 483.8L228 482.7L228.5 483.7L229 483.7L229.5 483.5L230 484.2L230.5 484.1L231 480L231.5 484L232 482.7L232.5 484.3L233 483.7L233.5 483.4L234 483.8L234.5 481.1L235 480.7L235.5 483.5L236 483.6L236.5 481.1L238 483.3L238.5 483.5L239 482.1L239.5 482.3L240 482.7L240.5 482.8L241 482.7L241.5 482.5L242.5 481.7L243 482L244 482L244.5 481L245 479.1L245.5 481L246 478.4L246.5 477.4L247 476.9L248 474L248.5 477L249.5 480.1L250 480.3L250.5 481.5L251 482.2L252 481.7L252.5 481.8L253 482.2L253.5 480.5L254 481.2L254.5 482.1L255.5 482.4L256 482.9L256.5 482L257 482.7L257.5 481.7L258 481.1L258.5 482.4L260 482.3L260.5 482.6L261 482.1L261.5 482L262 482.2L262.5 480.2L263.5 481.4L264 481.8L264.5 480.5L265 481.5L265.5 479.8L266.5 481.9L267 480.8L268 481.5L268.5 480.4L269 481.4L269.5 481.7L270 481.8L270.5 480.8L271 481.5L271.5 481.6L272 478.7L273 449.8L273.5 447.9L274 447.5L274.5 448L275 449.4L275.5 446.8L277.5 476.7L278 477.4L278.5 476.4L279 479.1L279.5 480L280 480.5L280.5 479.8L281 480.5L281.5 478.1L282 481L282.5 480.6L283 479.9L283.5 480.1L284 479.2L284.5 480.2L285.5 477.9L286.5 480.6L287 480.8L287.5 480.7L288 481L288.5 481.2L289 480.9L289.5 481.2L290 481.2L290.5 481.7L291 477.8L291.5 481.3L292 480.7L292.5 480.9L293 480.2L293.5 479.1L294 477.6L294.5 479.4L295 477.3L295.5 479.7L296 479.4L296.5 479.5L297 476.5L297.5 479.5L298 479.1L298.5 477.7L299 478.8L299.5 479L300.5 478.2L301 478.3L301.5 478.6L302 478.3L303 478.9L303.5 478.4L304 478.9L304.5 478.8L305 476.2L305.5 476.7L306 478.2L306.5 477.8L307 478.6L307.5 478.7L308 477.9L308.5 475.7L309 478.3L309.5 477.8L310 476.6L310.5 477.8L311 476.7L311.5 477.1L312 475.7L312.5 475.4L313 474.7L313.5 475.1L314 476.3L314.5 475.2L315 475L315.5 475.2L316 475.1L316.5 474.5L317 474.6L317.5 474.6L318 471.9L318.5 474.4L319 472.6L319.5 474L320 472.8L320.5 473.4L321 473.7L321.5 473.7L322 474.4L323 474.1L323.5 474.6L324 473.2L324.5 474L325 474.3L325.5 474.2L326 475.1L326.5 475.3L327 475.4L327.5 473.3L328 474.9L328.5 472.1L329 475.4L329.5 475.5L330 475.4L330.5 474.8L331 475.9L331.5 475.9L332 476.2L332.5 476.3L333 473.9L333.5 474.1L334 475.9L334.5 476.2L335 474.3L335.5 475.6L336 474.7L337 476.1L337.5 474.9L338 476.2L338.5 473.5L339 476L339.5 475.5L340 475.7L340.5 475.1L341 473.8L341.5 474.4L342.5 473.6L343 473.2L343.5 472L344 472L344.5 470.5L345 470.3L345.5 470.2L346 468L346.5 467.6L347 470.9L347.5 470.2L348 470.9L348.5 472.1L349 470.7L349.5 472.3L350.5 470.3L351 471.8L351.5 471.9L352 472.4L353 473.6L353.5 473.5L354 473.7L354.5 472.5L355 472.3L355.5 471.2L356 474.8L356.5 473.7L357 474.2L357.5 477.3L358 477.2L358.5 478.3L359 478.9L359.5 479L360 478.6L360.5 479.6L361 479.6L361.5 479.1L362 479.2L362.5 480L363 480.1L363.5 480.4L364 480.2L364.5 476.1L365 480.7L365.5 479.5L366 479.9L366.5 479.1L367 479.5L367.5 481.1L368 480.9L368.5 479.8L369 480.8L369.5 480L370 482.1L370.5 480.4L371 481.5L371.5 480.4L372.5 481.6L373 481.5L373.5 482.4L374 479.9L375 481.6L375.5 481.7L376 481.4L376.5 482.2L377 482.4L377.5 481.7L378 478.6L378.5 481L379 481.6L379.5 483.1L380.5 482.7L381 482.2L381.5 480.3L382 481.8L382.5 481.4L383 481.7L383.5 481.9L384 481.7L384.5 477.8L385 479.6L385.5 480.6L386 480.6L386.5 481.4L387 481.6L387.5 481.6L388 481.5L388.5 481.1L389 477.1L389.5 480.1L390 480.5L391 480.9L391.5 480.8L392.5 480.4L393 480.4L393.5 480.1L394 479.3L394.5 480.1L395 479.9L395.5 478.4L396 480L396.5 479.6L397 480.5L397.5 479.9L398 481.3L398.5 481.1L399 479.6L399.5 481.6L400 480.9L400.5 481.8L401 482L401.5 481.4L402 481.4L402.5 482.1L403 481.3L403.5 481.6L404 481.5L405 479.6L405.5 481.4L406 481.4L406.5 480.5L407 480.7L407.5 481.5L408 481.3L408.5 481.9L409 480.9L409.5 480.8L410 478.8L410.5 479.3L411 478.4L411.5 476L412 478.4L412.5 478.8L413 480.4L413.5 481.1L414 482.2L414.5 480.6L415 481.8L416 482.7L416.5 482.9L418 482.5L418.5 481.7L419 479.6L419.5 482L420 481.9L420.5 483.1L421 482.3L421.5 482.7L422 482.2L422.5 483.3L423 482.8L423.5 483L424 482.2L424.5 483.1L425 482L425.5 481.5L426 482.8L426.5 482.8L427 482.2L427.5 482.8L428 480.2L428.5 480.9L429 482.9L429.5 482.6L430 483.5L430.5 481.3L431.5 483.8L432 483.8L432.5 481.8L433 482.1L434 483.1L434.5 483.2L435 482.9L435.5 481.3L436 482.7L436.5 483.8L437.5 483.8L438 481.9L438.5 482.2L439 481.4L439.5 483.4L440.5 483.9L441 483.5L441.5 483.3L442.5 483.4L443 482.4L443.5 481.7L444 483.1L444.5 481.8L445 483.1L445.5 483.4L446 482L446.5 483.4L447 483.4L447.5 479L448 482.7L448.5 482.7L449 481.9L449.5 481.2L450 483L450.5 481.8L451 483.4L451.5 481.3L452 482.9L452.5 482.8L453 483.3L453.5 483.2L454 482.9L454.5 483.2L455 482.3L455.5 478.9L456 482.9L456.5 481.8L457 482.3L457.5 482.3L458 481.6L458.5 482.5L459 481.4L459.5 483L460 481.6L461 482.3L461.5 482.4L462 479.7L462.5 481.8L463 482.3L463.5 482.3L464 481.4L465 483L465.5 480.7L466 481.6L467.5 482.4L468 482.9L468.5 479.4L469 481.9L469.5 482.7L470 481L470.5 482.2L471 482.7L471.5 480.7L472 482.8L472.5 482.5L473 482.9L473.5 482.2L474 482.1L475 479.7L475.5 480.5L476 481.6L476.5 482.3L477 480.1L477.5 482.8L478 482.7L478.5 482.2L479 482.4L479.5 481.8L480 482.5L480.5 482.5L481 482.9L481.5 482.4L482 482.8L482.5 481.4L483 482.8L483.5 482.9L484 482L484.5 482.9L485 481.4L485.5 482.4L486 482.8L486.5 481.5L487 478.2L487.5 482.2L488 482L488.5 482.1L489 480L489.5 478.8L490 483.2L490.5 482.6L491 481.6L491.5 482.6L492 482.3L492.5 482.3L493 483.1L493.5 483L494 480.6L494.5 482.3L496 481.3L496.5 480.4L497 482.5L497.5 481.8L498 482.7L499 481.1L499.5 482L500 482.1L500.5 480.8L501 481.4L501.5 480.1L502 481.9L502.5 482.2L503 481.2L503.5 481.5L504 482.3L504.5 481.9L505 478.7L505.5 481L506 482.1L506.5 480.6L507 480.4L507.5 481.7L508 477.1L508.5 480.7L509.5 478.4L510 478.3L510.5 479.1L511 479.3L511.5 479.6L512 478L512.5 479.2L513 477.6L513.5 480.5L514 481.4L514.5 481.6L515 479.7L515.5 479.6L516 481.7L516.5 480.4L517 481.8L517.5 482L518 481.5L518.5 479.8L519 481.4L519.5 480.3L520 480.2L520.5 480.5L521 481.8L521.5 479.8L522 482L522.5 481.4L523 482.1L523.5 481.8L524 480L524.5 479.7L525 476.2L525.5 479.2L526 478.3L526.5 479.3L527 479.3L527.5 478L528 480.4L528.5 479.5L529 481.8L529.5 480.2L530 481.4L530.5 478.2L531 481.4L531.5 481.4L532 480.7L532.5 480.3L533 480.4L533.5 481.1L534 480.5L534.5 481.5L535 481.3L536.5 481.8L537 481.6L537.5 481.2L538 481.1L538.5 481.7L539 481.1L539.5 481.4L540 480.1L540.5 481.6L541 480.1L541.5 479.4L542 481.1L542.5 480.8L543 477.9L543.5 481.7L544 481.7L545 479L545.5 478.8L546 478.3L547 479.2L547.5 478.3L548 480.6L548.5 480L549 481.5L549.5 479.8L550 481.3L550.5 479.9L551 481.2L551.5 480.8L552 481.1L552.5 478.7L553 481.6L553.5 481.2L554 481L554.5 481.5L555 479L555.5 481.2L556 481.5L556.5 481.4L557.5 479.3L558 480.9L558.5 478.7L559 481.6L559.5 479.8L560 480.4L560.5 481.5L561 481.8L561.5 481.6L562.5 481.4L563 480.7L563.5 481.8L564.5 481.2L565 481.4L566 480.5L566.5 481.2L567 481.3L567.5 480.3L568 481.7L568.5 479.8L569.5 481.5L570 481.6L570.5 479.7L571 481.4L571.5 480.4L572 481.3L572.5 481L573 482.1L573.5 481.2L574 482L574.5 481.2L575 478.6L575.5 481L576 481.6L577 481.5L577.5 480.4L578 480.7L578.5 481.8L579 481.5L579.5 481.9L580 481.5L580.5 481.6L581 478.9L581.5 481.4L582 481.5L582.5 481.1L583 481.7L583.5 482L584.5 480.2L585 481.4L586 481.8L586.5 481.3L587 481.8L587.5 481.4L588 481.3L588.5 482L589 481.6L589.5 480.1L590 481.7L590.5 480.5L591 481.2L591.5 480.6L592 480.5L592.5 479.5L593 480.1L593.5 479.8L594 479.4L594.5 477.7L595 480L595.5 479L596 480.3L596.5 477.1L597 481.5L597.5 479.3L598 481.1L598.5 481.2L599 480.7L599.5 480.9L600 476.9L601 479.8L601.5 480.4L602 479.9L602.5 479.1L603 479.1L603.5 478.8L604 479.3L604.5 479.4L605.5 480.2L606 480.4L606.5 478L607 479.8L607.5 480.6L608 478.5L608.5 478.8L609 481.3L609.5 481.5L610.5 480.4L611 476.4L611.5 480.9L612 479.7L612.5 479.3L613 480.6L614 475.3L614.5 475.4L615 472.7L615.5 474.5L616 475.1L616.5 477.8L617 478.1L617.5 480.7L618 480.7L618.5 480.5L619 480.7L619.5 480.6L620 480.7L620.5 476.4L621 480.3L622 480.5L622.5 479L623 481.2L623.5 478.8L624 481.3L624.5 479.5L625 481.1L625.5 480.7L626 481.2L626.5 479.9L627 481.5L627.5 480.1L628 480.3L628.5 479.2L629 476.7L629.5 479.7L630 481.1L630.5 479.7L631 481.3L631.5 480L632 479.1L632.5 481.2L633 480.7L633.5 478.5L634 479.1L635.5 476L636 478.7L636.5 478L637 477.9L638 480.5L638.5 479L639 481.2L639.5 479.3L640 481L640.5 480.8L641 481.4L641.5 481.5L642 479.1L642.5 481.2L643 480.4L643.5 481L644 480.6L645 481.5L645.5 481.3L646 480.6L646.5 481.5L647 478.8L647.5 481.7L648 481L648.5 479.8L649 480.5L649.5 481.7L650 482L650.5 480.7L651.5 482L652 481.9L652.5 481L653 482.1L653.5 481.7L654 479.1L654.5 481.8L655 480.3L655.5 482.2L656 482.2L656.5 482.4L657 481.1L657.5 481.3L658 480.7L658.5 480.4L659 480.6L659.5 481.7L660 481.6L660.5 482L661 480.4L661.5 481.6L662 481.4L663 477.3L663.5 481L664 481.5L664.5 480L665 480.5L665.5 482.1L666 481.6L666.5 479.2L667 478L668 481.2L668.5 481.8L669 479.7L669.5 481.7L670 481.1L670.5 481.7L671 480.2L671.5 481.8L672 481.6L672.5 480.2L673 480.8L673.5 477.6L674 481.9L674.5 481.9L675 480.8L675.5 481L676 479.4L676.5 480.9L677 481.5L677.5 480.9L678 481.5L678.5 480L679 480.2L679.5 480.1L680 482L680.5 481.6L681 482.3L681.5 478.6L682 482.2L682.5 481.4L683 481L683.5 482.2L684 481.7L684.5 482.4L685.5 482.3L686 482.5L687 481.3L687.5 479.9L688 482.1L688.5 481.9L689 481.4L689.5 482.3L690.5 482.2L691 480.7L691.5 482.2L692 481L692.5 482.2L693 481.8L694 481.7L694.5 481.8L695 481.6L695.5 480.5L696 481L696.5 477.7L697 481.9L698 481.7L698.5 481.4L699 482L699.5 480.4L700 481.4L700.5 482L701 481.4L701.5 481.7L702 482.1L702.5 482.1L703 481.5L703.5 477.9L704 481.2L704.5 482.1L705 482.3L705.5 481.9L706 482.3L707 481.9L708 482.3L708.5 479.8L709 479.7L709.5 481.2L710 479.9L710.5 481.5L711 480.9L711.5 481.6L712 481.2L712.5 480.5L713 481.1L713.5 480.7L714.5 481.9L715 480.6L715.5 480.2L716 482.2L716.5 482.2L717 482.6L717.5 482.3L718 482.3L718.5 482.1L719 482.3L719.5 481.9L720 482.2L720.5 479.1L721 482.3L721.5 482.2L722 479.7L722.5 482L723 481.2L723.5 482.3L724 482.8L724.5 482.9L725 480.2L725.5 482.9L726 482.5L726.5 482.8L727 482L727.5 482.8L728 481.5L728.5 482.8L729 482.5L729.5 479.2L730 482.3L730.5 480L731 483L731.5 480.9L732 482.3L732.5 478.2L733 481.4L733.5 482.1L734 481L734.5 482.3L735.5 481.3L736 482.5L736.5 482.6L737 480.9L737.5 482.5L738 481.2L738.5 481.9L739 482.4L739.5 480.6L740 482.1L740.5 482.3L741.5 478.2L742 482.4L742.5 479.2L743 482.8L743.5 481.1L744.5 482.5L745 482.3L745.5 482.4L746 481.6L746.5 482.1L747 482L747.5 481.6L748.5 483L749 482.4L749.5 481.3L750 482.9L750.5 482.9L751 480.7L751.5 482.9L752 479.7L752.5 482.5L753 482.5L754 480.4L754.5 482L755 482.4L756 482.8L756.5 481.7L757 481.7L757.5 482.9L758 482.4L758.5 481.5L759 481.7L759.5 481.6L760 480.2L760.5 482.6L761 479.2L761.5 481.8L762 482.4L762.5 481.7L763 482.5L763.5 482.7L764 481.5L764.5 481.4L765 482.1L765.5 481.3L766 480.6L766.5 482.1L767 482.6L767.5 479.8L768 482.7L768.5 482.4L769 483L770 481.7L770.5 482.9L771 482.2L771.5 482.2L772.5 480.2L773.5 482.4L774 482.2L774.5 482.2L775 482.5L775.5 480.9L776 482.4L777 482.7L777.5 482.3L778 481.3L778.5 482.8L779 482.4L780 482.9L781 481.7L781.5 481.8L782 478.3L782.5 481.6L783 480.2L783.5 481.5L784 481.6L784.5 480.5L785 480.8L785.5 481.5L786 482.5L786.5 482.5L787 480.7L787.5 482.6L788 482.1L788.5 480.8L789 482.4L789.5 482L790 482.4L791 481.1L791.5 482.8L792 482.2L792.5 480.7L793 481.9L793.5 478.7L794 482.3L794.5 481.9L795 482.6L795.5 480.8L796 482.2L796.5 481.3L797 481.7L797.5 482.4L798 480.8L798.5 482.6L799 480L800 482.2L800.5 482L801 482.4L801.5 482.2L802 479.8L802.5 482.4L803 482L803.5 482.8L804 482.8L804.5 482.4L805 482.5L805.5 480.3L806 482.3L806.5 480.7L807 482.2L807.5 480.3L808 482.6L808.5 482.9L809 481.7L809.5 482L810 482.9L810.5 483L811 482.6L811.5 481.2L812 482.5L812.5 483L813 482.6L813.5 482.9L814 482.6L814.5 482.6L815 481.6L815.5 482.7L816 481.9L816.5 482.5L817 482.5L817.5 480.5L818 479.4L818.5 480L819 477L819.5 478.8L820 480L820.5 480.4L821 481.9L821.5 482.2L822 481.4L822.5 482.3L823 479.4L823.5 482.6L824 482.6L824.5 482.9L825 480.4L825.5 482.4L826 482.9L826.5 483.1L827 482L827.5 482.8L828 480.8L828.5 482.6L829 481.3L829.5 480.9L830 482.8L830.5 482.1L831 481.7L831.5 482.2L832 482.3L832.5 480.5L833 482.4L833.5 482L834 483L834.5 482.2L835 479.5L835.5 482.4L836 481.4L836.5 482.4L837.5 482.3L838 480.8L838.5 482.6L839 482.9L839.5 482L840 481.9L840.5 482L841.5 482.7L842 481.9L842.5 482.7L843.5 482.9L844.5 482.9L845 481.9L845.5 482.4L846 482.2L846.5 482.7L847 482.6L847.5 481.7L848 480.2L848.5 482.7L849 481.8L849.5 479.7L850 482.2L850.5 480.5L851 482.6L851.5 481.2L852 482.9L852.5 482.7L853 482.9L853.5 482.9L854 481.3L854.5 482.4L855 482.4L855.5 481.7L856 482.8L856.5 481.3L857 483L857.5 479.3L858.5 482.3L859 480.3L859.5 481.2L860 480.2L860.5 483L861 482.6L861.5 482.9L862 482.8L862.5 482.3L863 481.3L863.5 482.9L864 482.4L864.5 482.9L865 482.7L865.5 483.1L866 482.2L866.5 482L867 482.1L867.5 480.9L868 482.1L868.5 482.4L869 479.7L869.5 482.2L870 482.3L871 481.7L871.5 482.6L872 482.6L872.5 482.8L873 482L873.5 482.2L874 481.2L874.5 482.8L875 482.2L875.5 482.8L876.5 482.5L877 481.5L877.5 481.2L878 482.1L878.5 480.9L879 481L879.5 481L880 481.8L880.5 482.4L881 482.4L881.5 481.5L882 482.8L882.5 482.9L883 478.5L884 487L102 487Z" fill="#b83e72"/>
<path d="M102 50L102.5 300L103 420L104 445L105 459.8L105.5 463.8L108 472L108.5 473.2L114.5 479.4L123 482.5L137 484.2L140.5 484.2L142 484.1L142.5 484.3L143 483.9L143.5 484.2L144 484.3L144.5 483.7L145 484.4L145.5 483.6L146 484.5L146.5 484.5L147 484.3L148 484.4L148.5 484.1L149 484.5L149.5 484.1L150 484.4L150.5 483.4L151 484.1L151.5 484L152 484.4L152.5 483.5L153 484.4L153.5 484.5L154 484.4L154.5 484L155 484.6L156 484.4L156.5 484.7L157 484.7L158 484L158.5 484.1L159 484.7L160 483.6L160.5 483.8L161 484.5L161.5 484.6L162 481.4L162.5 483.6L163 484.3L163.5 483.5L164 483.9L164.5 483.7L165 484.2L165.5 483.8L166 484.3L166.5 484.3L167 484.5L168 483L168.5 484.6L169 485L169.5 484.9L170 483.8L170.5 484.8L171 485.1L171.5 483.3L172 484.4L172.5 485L173 483.7L173.5 484.5L174 483.4L174.5 483.6L175 483.5L175.5 483L176 484.6L176.5 483.5L177 484.4L177.5 484L178 484.8L178.5 484L179 484.9L179.5 482.9L180 484.8L181 483.1L181.5 483.3L182 483L182.5 484.3L183 484.9L183.5 480.6L184 484.5L184.5 482.9L185 484.5L185.5 484.3L186.5 484.2L187 483.4L188 484.9L188.5 484.3L189 485L189.5 483.2L190 484.7L191 484.1L191.5 484.6L192 482.8L192.5 483.7L193 485L193.5 484.7L194 483.7L194.5 484.2L195 483.9L195.5 484.3L196 484L196.5 483.9L197 482.4L197.5 484.2L198 483.1L198.5 484.7L199.5 484.7L200 482.4L200.5 484.9L201.5 484.3L202 483.8L202.5 483.9L203 485L204 483.8L204.5 484.8L205 484.9L205.5 483.1L206 484.9L207 484.7L207.5 482.9L208 484L208.5 483.9L209 483.6L209.5 482.1L210 484.3L210.5 484.5L211.5 483.4L212 484.3L213 483.4L213.5 484.2L214 483.9L214.5 484.4L215 482.1L215.5 484.7L216 484.5L216.5 483.7L217 484.2L217.5 483.4L218 483.8L218.5 479.8L219 483.4L219.5 484L220 484.3L220.5 483.9L221 483.1L221.5 483.2L222 483.2L222.5 483.7L223 481.7L223.5 484L224 483.8L224.5 481.3L225 483L225.5 483.9L226 482.9L226.5 482.9L227 483.9L227.5 483.8L228 482.7L228.5 483.7L229 483.7L229.5 483.5L230 484.2L230.5 484.1L231 480L231.5 484L232 482.7L232.5 484.3L233 483.7L233.5 483.4L234 483.8L234.5 481.1L235 480.7L235.5 483.5L236 483.6L236.5 481.1L238 483.3L238.5 483.5L239 482.1L239.5 482.3L240 482.7L240.5 482.8L241 482.7L241.5 482.5L242.5 481.7L243 482L244 482L244.5 481L245 479.1L245.5 481L246 478.4L246.5 477.4L247 476.9L248 474L248.5 477L249.5 480.1L250 480.3L250.5 481.5L251 482.2L252 481.7L252.5 481.8L253 482.2L253.5 480.5L254 481.2L254.5 482.1L255.5 482.4L256 482.9L256.5 482L257 482.7L257.5 481.7L258 481.1L258.5 482.4L260 482.3L260.5 482.6L261 482.1L261.5 482L262 482.2L262.5 480.2L263.5 481.4L264 481.8L264.5 480.5L265 481.5L265.5 479.8L266.5 481.9L267 480.8L268 481.5L268.5 480.4L269 481.4L269.5 481.7L270 481.8L270.5 480.8L271 481.5L271.5 481.6L272 478.7L273 449.8L273.5 447.9L274 447.5L274.5 448L275 449.4L275.5 446.8L277.5 476.7L278 477.4L278.5 476.4L279 479.1L279.5 480L280 480.5L280.5 479.8L281 480.5L281.5 478.1L282 481L282.5 480.6L283 479.9L283.5 480.1L284 479.2L284.5 480.2L285.5 477.9L286.5 480.6L287 480.8L287.5 480.7L288 481L288.5 481.2L289 480.9L289.5 481.2L290 481.2L290.5 481.7L291 477.8L291.5 481.3L292 480.7L292.5 480.9L293 480.2L293.5 479.1L294 477.6L294.5 479.4L295 477.3L295.5 479.7L296 479.4L296.5 479.5L297 476.5L297.5 479.5L298 479.1L298.5 477.7L299 478.8L299.5 479L300.5 478.2L301 478.3L301.5 478.6L302 478.3L303 478.9L303.5 478.4L304 478.9L304.5 478.8L305 476.2L305.5 476.7L306 478.2L306.5 477.8L307 478.6L307.5 478.7L308 477.9L308.5 475.7L309 478.3L309.5 477.8L310 476.6L310.5 477.8L311 476.7L311.5 477.1L312 475.7L312.5 475.4L313 474.7L313.5 475.1L314 476.3L314.5 475.2L315 475L315.5 475.2L316 475.1L316.5 474.5L317 474.6L317.5 474.6L318 471.9L318.5 474.4L319 472.6L319.5 474L320 472.8L320.5 473.4L321 473.7L321.5 473.7L322 474.4L323 474.1L323.5 474.6L324 473.2L324.5 474L325 474.3L325.5 474.2L326 475.1L326.5 475.3L327 475.4L327.5 473.3L328 474.9L328.5 472.1L329 475.4L329.5 475.5L330 475.4L330.5 474.8L331 475.9L331.5 475.9L332 476.2L332.5 476.3L333 473.9L333.5 474.1L334 475.9L334.5 476.2L335 474.3L335.5 475.6L336 474.7L337 476.1L337.5 474.9L338 476.2L338.5 473.5L339 476L339.5 475.5L340 475.7L340.5 475.1L341 473.8L341.5 474.4L342.5 473.6L343 473.2L343.5 472L344 472L344.5 470.5L345 470.3L345.5 470.2L346 468L346.5 467.6L347 470.9L347.5 470.2L348 470.9L348.5 472.1L349 470.7L349.5 472.3L350.5 470.3L351 471.8L351.5 471.9L352 472.4L353 473.6L353.5 473.5L354 473.7L354.5 472.5L355 472.3L355.5 471.2L356 474.8L356.5 473.7L357 474.2L357.5 477.3L358 477.2L358.5 478.3L359 478.9L359.5 479L360 478.6L360.5 479.6L361 479.6L361.5 479.1L362 479.2L362.5 480L363 480.1L363.5 480.4L364 480.2L364.5 476.1L365 480.7L365.5 479.5L366 479.9L366.5 479.1L367 479.5L367.5 481.1L368 480.9L368.5 479.8L369 480.8L369.5 480L370 482.1L370.5 480.4L371 481.5L371.5 480.4L372.5 481.6L373 481.5L373.5 482.4L374 479.9L375 481.6L375.5 481.7L376 481.4L376.5 482.2L377 482.4L377.5 481.7L378 478.6L378.5 481L379 481.6L379.5 483.1L380.5 482.7L381 482.2L381.5 480.3L382 481.8L382.5 481.4L383 481.7L383.5 481.9L384 481.7L384.5 477.8L385 479.6L385.5 480.6L386 480.6L386.5 481.4L387 481.6L387.5 481.6L388 481.5L388.5 481.1L389 477.1L389.5 480.1L390 480.5L391 480.9L391.5 480.8L392.5 480.4L393 480.4L393.5 480.1L394 479.3L394.5 480.1L395 479.9L395.5 478.4L396 480L396.5 479.6L397 480.5L397.5 479.9L398 481.3L398.5 481.1L399 479.6L399.5 481.6L400 480.9L400.5 481.8L401 482L401.5 481.4L402 481.4L402.5 482.1L403 481.3L403.5 481.6L404 481.5L405 479.6L405.5 481.4L406 481.4L406.5 480.5L407 480.7L407.5 481.5L408 481.3L408.5 481.9L409 480.9L409.5 480.8L410 478.8L410.5 479.3L411 478.4L411.5 476L412 478.4L412.5 478.8L413 480.4L413.5 481.1L414 482.2L414.5 480.6L415 481.8L416 482.7L416.5 482.9L418 482.5L418.5 481.7L419 479.6L419.5 482L420 481.9L420.5 483.1L421 482.3L421.5 482.7L422 482.2L422.5 483.3L423 482.8L423.5 483L424 482.2L424.5 483.1L425 482L425.5 481.5L426 482.8L426.5 482.8L427 482.2L427.5 482.8L428 480.2L428.5 480.9L429 482.9L429.5 482.6L430 483.5L430.5 481.3L431.5 483.8L432 483.8L432.5 481.8L433 482.1L434 483.1L434.5 483.2L435 482.9L435.5 481.3L436 482.7L436.5 483.8L437.5 483.8L438 481.9L438.5 482.2L439 481.4L439.5 483.4L440.5 483.9L441 483.5L441.5 483.3L442.5 483.4L443 482.4L443.5 481.7L444 483.1L444.5 481.8L445 483.1L445.5 483.4L446 482L446.5 483.4L447 483.4L447.5 479L448 482.7L448.5 482.7L449 481.9L449.5 481.2L450 483L450.5 481.8L451 483.4L451.5 481.3L452 482.9L452.5 482.8L453 483.3L453.5 483.2L454 482.9L454.5 483.2L455 482.3L455.5 478.9L456 482.9L456.5 481.8L457 482.3L457.5 482.3L458 481.6L458.5 482.5L459 481.4L459.5 483L460 481.6L461 482.3L461.5 482.4L462 479.7L462.5 481.8L463 482.3L463.5 482.3L464 481.4L465 483L465.5 480.7L466 481.6L467.5 482.4L468 482.9L468.5 479.4L469 481.9L469.5 482.7L470 481L470.5 482.2L471 482.7L471.5 480.7L472 482.8L472.5 482.5L473 482.9L473.5 482.2L474 482.1L475 479.7L475.5 480.5L476 481.6L476.5 482.3L477 480.1L477.5 482.8L478 482.7L478.5 482.2L479 482.4L479.5 481.8L480 482.5L480.5 482.5L481 482.9L481.5 482.4L482 482.8L482.5 481.4L483 482.8L483.5 482.9L484 482L484.5 482.9L485 481.4L485.5 482.4L486 482.8L486.5 481.5L487 478.2L487.5 482.2L488 482L488.5 482.1L489 480L489.5 478.8L490 483.2L490.5 482.6L491 481.6L491.5 482.6L492 482.3L492.5 482.3L493 483.1L493.5 483L494 480.6L494.5 482.3L496 481.3L496.5 480.4L497 482.5L497.5 481.8L498 482.7L499 481.1L499.5 482L500 482.1L500.5 480.8L501 481.4L501.5 480.1L502 481.9L502.5 482.2L503 481.2L503.5 481.5L504 482.3L504.5 481.9L505 478.7L505.5 481L506 482.1L506.5 480.6L507 480.4L507.5 481.7L508 477.1L508.5 480.7L509.5 478.4L510 478.3L510.5 479.1L511 479.3L511.5 479.6L512 478L512.5 479.2L513 477.6L513.5 480.5L514 481.4L514.5 481.6L515 479.7L515.5 479.6L516 481.7L516.5 480.4L517 481.8L517.5 482L518 481.5L518.5 479.8L519 481.4L519.5 480.3L520 480.2L520.5 480.5L521 481.8L521.5 479.8L522 482L522.5 481.4L523 482.1L523.5 481.8L524 480L524.5 479.7L525 476.2L525.5 479.2L526 478.3L526.5 479.3L527 479.3L527.5 478L528 480.4L528.5 479.5L529 481.8L529.5 480.2L530 481.4L530.5 478.2L531 481.4L531.5 481.4L532 480.7L532.5 480.3L533 480.4L533.5 481.1L534 480.5L534.5 481.5L535 481.3L536.5 481.8L537 481.6L537.5 481.2L538 481.1L538.5 481.7L539 481.1L539.5 481.4L540 480.1L540.5 481.6L541 480.1L541.5 479.4L542 481.1L542.5 480.8L543 477.9L543.5 481.7L544 481.7L545 479L545.5 478.8L546 478.3L547 479.2L547.5 478.3L548 480.6L548.5 480L549 481.5L549.5 479.8L550 481.3L550.5 479.9L551 481.2L551.5 480.8L552 481.1L552.5 478.7L553 481.6L553.5 481.2L554 481L554.5 481.5L555 479L555.5 481.2L556 481.5L556.5 481.4L557.5 479.3L558 480.9L558.5 478.7L559 481.6L559.5 479.8L560 480.4L560.5 481.5L561 481.8L561.5 481.6L562.5 481.4L563 480.7L563.5 481.8L564.5 481.2L565 481.4L566 480.5L566.5 481.2L567 481.3L567.5 480.3L568 481.7L568.5 479.8L569.5 481.5L570 481.6L570.5 479.7L571 481.4L571.5 480.4L572 481.3L572.5 481L573 482.1L573.5 481.2L574 482L574.5 481.2L575 478.6L575.5 481L576 481.6L577 481.5L577.5 480.4L578 480.7L578.5 481.8L579 481.5L579.5 481.9L580 481.5L580.5 481.6L581 478.9L581.5 481.4L582 481.5L582.5 481.1L583 481.7L583.5 482L584.5 480.2L585 481.4L586 481.8L586.5 481.3L587 481.8L587.5 481.4L588 481.3L588.5 482L589 481.6L589.5 480.1L590 481.7L590.5 480.5L591 481.2L591.5 480.6L592 480.5L592.5 479.5L593 480.1L593.5 479.8L594 479.4L594.5 477.7L595 480L595.5 479L596 480.3L596.5 477.1L597 481.5L597.5 479.3L598 481.1L598.5 481.2L599 480.7L599.5 480.9L600 476.9L601 479.8L601.5 480.4L602 479.9L602.5 479.1L603 479.1L603.5 478.8L604 479.3L604.5 479.4L605.5 480.2L606 480.4L606.5 478L607 479.8L607.5 480.6L608 478.5L608.5 478.8L609 481.3L609.5 481.5L610.5 480.4L611 476.4L611.5 480.9L612 479.7L612.5 479.3L613 480.6L614 475.3L614.5 475.4L615 472.7L615.5 474.5L616 475.1L616.5 477.8L617 478.1L617.5 480.7L618 480.7L618.5 480.5L619 480.7L619.5 480.6L620 480.7L620.5 476.4L621 480.3L622 480.5L622.5 479L623 481.2L623.5 478.8L624 481.3L624.5 479.5L625 481.1L625.5 480.7L626 481.2L626.5 479.9L627 481.5L627.5 480.1L628 480.3L628.5 479.2L629 476.7L629.5 479.7L630 481.1L630.5 479.7L631 481.3L631.5 480L632 479.1L632.5 481.2L633 480.7L633.5 478.5L634 479.1L635.5 476L636 478.7L636.5 478L637 477.9L638 480.5L638.5 479L639 481.2L639.5 479.3L640 481L640.5 480.8L641 481.4L641.5 481.5L642 479.1L642.5 481.2L643 480.4L643.5 481L644 480.6L645 481.5L645.5 481.3L646 480.6L646.5 481.5L647 478.8L647.5 481.7L648 481L648.5 479.8L649 480.5L649.5 481.7L650 482L650.5 480.7L651.5 482L652 481.9L652.5 481L653 482.1L653.5 481.7L654 479.1L654.5 481.8L655 480.3L655.5 482.2L656 482.2L656.5 482.4L657 481.1L657.5 481.3L658 480.7L658.5 480.4L659 480.6L659.5 481.7L660 481.6L660.5 482L661 480.4L661.5 481.6L662 481.4L663 477.3L663.5 481L664 481.5L664.5 480L665 480.5L665.5 482.1L666 481.6L666.5 479.2L667 478L668 481.2L668.5 481.8L669 479.7L669.5 481.7L670 481.1L670.5 481.7L671 480.2L671.5 481.8L672 481.6L672.5 480.2L673 480.8L673.5 477.6L674 481.9L674.5 481.9L675 480.8L675.5 481L676 479.4L676.5 480.9L677 481.5L677.5 480.9L678 481.5L678.5 480L679 480.2L679.5 480.1L680 482L680.5 481.6L681 482.3L681.5 478.6L682 482.2L682.5 481.4L683 481L683.5 482.2L684 481.7L684.5 482.4L685.5 482.3L686 482.5L687 481.3L687.5 479.9L688 482.1L688.5 481.9L689 481.4L689.5 482.3L690.5 482.2L691 480.7L691.5 482.2L692 481L692.5 482.2L693 481.8L694 481.7L694.5 481.8L695 481.6L695.5 480.5L696 481L696.5 477.7L697 481.9L698 481.7L698.5 481.4L699 482L699.5 480.4L700 481.4L700.5 482L701 481.4L701.5 481.7L702 482.1L702.5 482.1L703 481.5L703.5 477.9L704 481.2L704.5 482.1L705 482.3L705.5 481.9L706 482.3L707 481.9L708 482.3L708.5 479.8L709 479.7L709.5 481.2L710 479.9L710.5 481.5L711 480.9L711.5 481.6L712 481.2L712.5 480.5L713 481.1L713.5 480.7L714.5 481.9L715 480.6L715.5 480.2L716 482.2L716.5 482.2L717 482.6L717.5 482.3L718 482.3L718.5 482.1L719 482.3L719.5 481.9L720 482.2L720.5 479.1L721 482.3L721.5 482.2L722 479.7L722.5 482L723 481.2L723.5 482.3L724 482.8L724.5 482.9L725 480.2L725.5 482.9L726 482.5L726.5 482.8L727 482L727.5 482.8L728 481.5L728.5 482.8L729 482.5L729.5 479.2L730 482.3L730.5 480L731 483L731.5 480.9L732 482.3L732.5 478.2L733 481.4L733.5 482.1L734 481L734.5 482.3L735.5 481.3L736 482.5L736.5 482.6L737 480.9L737.5 482.5L738 481.2L738.5 481.9L739 482.4L739.5 480.6L740 482.1L740.5 482.3L741.5 478.2L742 482.4L742.5 479.2L743 482.8L743.5 481.1L744.5 482.5L745 482.3L745.5 482.4L746 481.6L746.5 482.1L747 482L747.5 481.6L748.5 483L749 482.4L749.5 481.3L750 482.9L750.5 482.9L751 480.7L751.5 482.9L752 479.7L752.5 482.5L753 482.5L754 480.4L754.5 482L755 482.4L756 482.8L756.5 481.7L757 481.7L757.5 482.9L758 482.4L758.5 481.5L759 481.7L759.5 481.6L760 480.2L760.5 482.6L761 479.2L761.5 481.8L762 482.4L762.5 481.7L763 482.5L763.5 482.7L764 481.5L764.5 481.4L765 482.1L765.5 481.3L766 480.6L766.5 482.1L767 482.6L767.5 479.8L768 482.7L768.5 482.4L769 483L770 481.7L770.5 482.9L771 482.2L771.5 482.2L772.5 480.2L773.5 482.4L774 482.2L774.5 482.2L775 482.5L775.5 480.9L776 482.4L777 482.7L777.5 482.3L778 481.3L778.5 482.8L779 482.4L780 482.9L781 481.7L781.5 481.8L782 478.3L782.5 481.6L783 480.2L783.5 481.5L784 481.6L784.5 480.5L785 480.8L785.5 481.5L786 482.5L786.5 482.5L787 480.7L787.5 482.6L788 482.1L788.5 480.8L789 482.4L789.5 482L790 482.4L791 481.1L791.5 482.8L792 482.2L792.5 480.7L793 481.9L793.5 478.7L794 482.3L794.5 481.9L795 482.6L795.5 480.8L796 482.2L796.5 481.3L797 481.7L797.5 482.4L798 480.8L798.5 482.6L799 480L800 482.2L800.5 482L801 482.4L801.5 482.2L802 479.8L802.5 482.4L803 482L803.5 482.8L804 482.8L804.5 482.4L805 482.5L805.5 480.3L806 482.3L806.5 480.7L807 482.2L807.5 480.3L808 482.6L808.5 482.9L809 481.7L809.5 482L810 482.9L810.5 483L811 482.6L811.5 481.2L812 482.5L812.5 483L813 482.6L813.5 482.9L814 482.6L814.5 482.6L815 481.6L815.5 482.7L816 481.9L816.5 482.5L817 482.5L817.5 480.5L818 479.4L818.5 480L819 477L819.5 478.8L820 480L820.5 480.4L821 481.9L821.5 482.2L822 481.4L822.5 482.3L823 479.4L823.5 482.6L824 482.6L824.5 482.9L825 480.4L825.5 482.4L826 482.9L826.5 483.1L827 482L827.5 482.8L828 480.8L828.5 482.6L829 481.3L829.5 480.9L830 482.8L830.5 482.1L831 481.7L831.5 482.2L832 482.3L832.5 480.5L833 482.4L833.5 482L834 483L834.5 482.2L835 479.5L835.5 482.4L836 481.4L836.5 482.4L837.5 482.3L838 480.8L838.5 482.6L839 482.9L839.5 482L840 481.9L840.5 482L841.5 482.7L842 481.9L842.5 482.7L843.5 482.9L844.5 482.9L845 481.9L845.5 482.4L846 482.2L846.5 482.7L847 482.6L847.5 481.7L848 480.2L848.5 482.7L849 481.8L849.5 479.7L850 482.2L850.5 480.5L851 482.6L851.5 481.2L852 482.9L852.5 482.7L853 482.9L853.5 482.9L854 481.3L854.5 482.4L855 482.4L855.5 481.7L856 482.8L856.5 481.3L857 483L857.5 479.3L858.5 482.3L859 480.3L859.5 481.2L860 480.2L860.5 483L861 482.6L861.5 482.9L862 482.8L862.5 482.3L863 481.3L863.5 482.9L864 482.4L864.5 482.9L865 482.7L865.5 483.1L866 482.2L866.5 482L867 482.1L867.5 480.9L868 482.1L868.5 482.4L869 479.7L869.5 482.2L870 482.3L871 481.7L871.5 482.6L872 482.6L872.5 482.8L873 482L873.5 482.2L874 481.2L874.5 482.8L875 482.2L875.5 482.8L876.5 482.5L877 481.5L877.5 481.2L878 482.1L878.5 480.9L879 481L879.5 481L880 481.8L880.5 482.4L881 482.4L881.5 481.5L882 482.8L882.5 482.9L883 478.5" fill="none" stroke="#fff" stroke-opacity="0.28" stroke-width="0.6"/>
<g opacity="0.095" fill="#7d7d7d" stroke="#7d7d7d" stroke-width="1.5" stroke-linejoin="round"><text transform="translate(351.58,302.5) scale(1.0319,1)" font-size="64">g</text><text transform="translate(391.88,302.5) scale(0.7111,1)" font-size="64">l</text><text transform="translate(405.27,302.5) scale(1.0951,1)" font-size="64">a</text><text transform="translate(449.12,302.5) scale(0.9138,1)" font-size="64">s</text><text transform="translate(477.93,302.5) scale(0.8528,1)" font-size="64">s</text><text transform="translate(504.90,302.5) scale(1.1402,1)" font-size="64">n</text><text transform="translate(543.73,302.5) scale(1.1251,1)" font-size="64">o</text><text transform="translate(585.66,302.5) scale(1.1500,1)" font-size="64">d</text><text transform="translate(627.55,302.5) scale(1.0656,1)" font-size="64">e</text></g>
<path d="M192.4 444.1L192.7 430.2L193 434.1L193.4 437.5L193.7 441.6L194 441L194.4 440.4L194.7 440.1L195 438.9L195.3 437.5L195.7 437.2L196 436.1L196.3 436L196.7 436.1L197 436.3L197.3 436.6L197.6 437.9L198 436.6L198.3 437.1L198.6 437.3L199 438.8L199.3 439.1L199.6 438.8L199.9 438.5L200.3 438.7L200.6 438.3L200.9 438.5L201.3 438.1L201.6 438.8L201.9 438.3L202.2 438.2L202.6 438.9L202.9 437.4L203.1 438.5L203.4 438.1L203.7 437.7L204.1 438.8L204.4 438.9L204.7 438.7L205 438.5L205.4 438.1L205.5 438.5L205.9 435.1L206.2 432.3L206.5 429.4L206.7 427.3L207 425.8L207.3 422.9L207.7 422.3L208 419.9L208.3 417.9L208.7 417.2L208.8 415.4L209.2 413.6L209.5 411.2L209.8 411.2L210 409.3L210.3 403L210.6 396.4L211 389.9L211.3 395.6L211.6 400.3L211.8 403.2L212.1 402.6L212.4 402.8L212.8 400.8L213.1 400.3L213.4 399.5L213.8 398.6L213.9 399.2L214.2 400.5L214.6 402.1L214.9 404.4L215.2 404.8L215.6 406.7L215.9 406.4L216.2 405.7L216.5 405.6L216.9 404.8L217.2 404L217.5 402.3L217.9 403.6L218 402.1L218.4 402.2L218.7 400.4L219 398.9L219.3 398.6L219.7 399.3L220 397.4L220.3 397.9L220.7 395.2L221 394.9L221.3 394.1L221.6 391.9L222 390.9L222.3 390.5L222.6 390L223 389.4L223.3 388.8L223.6 387.6L223.9 387.7L224.3 387.3L224.4 387.4L224.8 382.4L225.1 379L225.4 372.7L225.8 368.7L226.1 366.4L226.4 364.7L226.6 364L226.9 366.4L227.2 367L227.6 367.5L227.9 369.3L228.2 370.2L228.5 368.9L228.9 367.9L229.2 369.1L229.5 367.1L229.7 367.9L230 368L230.4 368.9L230.7 369.1L231 369.4L231.3 370.2L231.7 370.1L232 371.7L232.3 372L232.7 371.6L232.8 372.5L233.2 372.7L233.5 373.5L233.8 372.7L234.1 372.6L234.5 374L234.8 374.9L235.1 374.4L235.5 374.6L235.8 372.9L236.1 371.3L236.4 368.6L236.8 368.3L237.1 366L237.4 362.6L237.8 361.5L238.1 358.6L238.4 355.2L238.7 353L239.1 346.1L239.4 340L239.7 334.1L240.1 331.9L240.4 330L240.7 328L241 325.8L241.2 325.1L241.5 318.2L241.9 311.2L242.2 312.8L242.5 314.5L242.8 316.6L243.2 318.5L243.5 315.8L243.8 313.7L244.2 310.6L244.5 309.4L244.8 307.3L245.2 299.9L245.5 292.2L245.8 281.6L246 276.1L246.3 286.7L246.6 297.2L247 291.2L247.1 288.6L247.5 289.7L247.8 290.1L248.1 290.1L248.4 293.6L248.8 293L249.1 294.3L249.4 294.2L249.8 294.7L250.1 295.5L250.4 296.3L250.7 296.8L251.1 296.4L251.4 296.8L251.7 297.5L252.1 296L252.4 297.4L252.7 298.2L252.9 298L253.2 298.2L253.5 298.4L253.9 298.4L254.2 300.1L254.5 298.9L254.8 298.8L255.2 302.8L255.5 308.5L255.8 312.5L256.2 310.2L256.5 307.2L256.8 304.9L257.2 303L257.5 303L257.8 305.8L258.1 305.9L258.5 306.8L258.8 307.1L259.1 307.7L259.3 308.7L259.6 312.1L259.9 311.6L260.3 314.9L260.6 315.4L260.9 318.4L261.3 319.2L261.4 320.2L261.8 320.6L262.1 322.5L262.4 323.4L262.7 324.6L263.1 324L263.4 324.3L263.7 324.4L264.1 323.3L264.4 323.6L264.7 324.3L264.9 324.1L265.2 323.5L265.5 326.9L265.9 326.7L266.2 328.5L266.5 329.3L266.7 329.9L267 332.9L267.3 336.7L267.7 339.9L268 343.7L268.3 343.3L268.7 342L269 339.3L269.3 339L269.6 337.6L270 335.7L270.3 336.9L270.6 335.7L271 336.4L271.3 336.3L271.5 337.4L271.8 340.4L272.1 342.3L272.4 345.5L272.8 347.3L273.1 345.4L273.4 343.5L273.8 343.5L274.1 340.6L274.4 340.1L274.7 338.9L275.1 339L275.4 339.5L275.7 336.9L276.1 337.2L276.4 336.5L276.7 335.7L277 333.9L277.4 332.7L277.7 330.8L278 330.5L278.4 329.9L278.7 327.4L279 325.9L279.3 324.7L279.7 324.4L280 323L280.3 321.1L280.7 317.9L281 316L281.1 314.9L281.5 315.7L281.8 315.8L282.1 317.7L282.5 319.8L282.8 319.3L283.1 319.8L283.4 320.9L283.8 319.6L284.1 320.1L284.4 321L284.8 320.9L285.1 321.1L285.4 321.5L285.7 322.8L286.1 322.9L286.4 324.6L286.7 324.8L287 325.4L287.4 326.2L287.7 328L288 327.9L288.4 326.4L288.7 327.5L289 326.5L289.3 326.6L289.7 324.2L289.8 324.6L290.2 325L290.5 324L290.8 323.8L291.1 323.4L291.5 323.5L291.8 322.7L292.1 322.5L292.5 321.7L292.8 323.1L293.1 323L293.4 323L293.8 324L294.1 324.9L294.4 324.8L294.8 324.1L294.9 324.9L295.2 325.7L295.6 324.8L295.9 323.7L296.2 323.6L296.6 323.9L296.9 323.2L297.2 323.4L297.5 324L297.9 324.1L298 323L298.4 323.5L298.7 322.7L299 323.7L299.3 324L299.7 324L300 324.6L300.3 323.8L300.7 324.6L301 323.7L301.3 324.1L301.6 325.4L302 323.6L302.3 324.1L302.6 324.8L303 323L303.3 323.5L303.6 324.6L303.9 323.7L304.3 322.8L304.6 323.2L304.9 322.8L305.2 321.6L305.6 320.9L305.9 320.2L306.2 319.6L306.6 318.3L306.9 318L307.2 317.6L307.5 317.2L307.9 318.6L308.2 316.6L308.5 316.2L308.9 317.1L309.2 317L309.5 315.4L309.8 316.4L310.2 316.6L310.5 314.4L310.8 312.3L311.1 313.4L311.5 311.6L311.8 310L312.1 310.3L312.5 309.3L312.8 308.7L313.1 308.3L313.4 309.1L313.8 308.3L314.1 307.8L314.4 307.2L314.8 307.5L314.9 307.3L315.2 306.3L315.6 305.6L315.9 304L316.2 302.1L316.6 301.4L316.9 300.8L317.2 299.7L317.4 298.6L317.7 306.5L317.9 311.8L318.2 308.9L318.5 306.8L318.9 304.7L319.2 306L319.5 303.8L319.8 303.6L320.2 302.6L320.5 303L320.8 303L321.1 302.4L321.5 303.6L321.8 301.5L322.1 301.6L322.3 301.7L322.6 301.9L323 300.6L323.3 300.1L323.6 301.9L323.9 301.3L324.3 300.5L324.6 300.4L324.9 300.4L325.2 301L325.6 301.8L325.9 300.3L326.2 301.4L326.6 303.1L326.9 303.6L327.2 302.2L327.5 303L327.9 302.9L328.2 303.9L328.5 305.4L328.9 305.2L329.2 304.9L329.5 306.2L329.8 305.1L330.2 304.5L330.5 304L330.8 304.6L331.1 304L331.5 303.8L331.8 303.1L332.1 302.8L332.5 302.3L332.8 302.2L333.1 302.2L333.4 301.1L333.8 301.2L334.1 301.4L334.4 300.9L334.8 300.2L334.9 300L335.2 299.8L335.6 299.5L335.9 299.4L336.2 299.1L336.6 299.1L336.9 299.5L337.2 298.3L337.5 298.4L337.9 297.7L338.2 298.1L338.5 298.5L338.9 298.1L339.2 299L339.5 299.5L339.8 298.3L340 298.4L340.3 298.7L340.7 297.4L341 298.3L341.3 299L341.6 297.8L342 296L342.3 296.7L342.6 295.8L343 295.4L343.3 293.9L343.6 292.1L343.9 291L344.3 290.1L344.4 289.7L344.8 287.9L345.1 287.4L345.4 286.9L345.8 285.6L346.1 284L346.4 283.5L346.6 283.6L346.9 281.8L347.2 281.9L347.6 280.2L347.9 278.5L348.2 277.8L348.5 277.1L348.9 275.4L349.2 274.7L349.5 273.6L349.7 273.7L350 272.2L350.4 268.9L350.7 268L351 267.2L351.2 266.2L351.5 269.9L351.8 267.2L352.2 263.1L352.5 262.1L352.8 259.3L353.2 256.2L353.5 253.5L353.8 251.4L354.1 248.7L354.5 246.4L354.8 243L355 241.7L355.3 236.5L355.6 231L355.9 226.2L356.1 224.1L356.4 241.2L356.6 250.9L356.9 253.8L357.3 256.8L357.6 251L357.9 245.8L358.2 240.7L358.6 235.4L358.9 238L359.2 240.9L359.6 243L359.9 246.6L360.1 247.3L360.4 246.1L360.7 244.2L361 243.5L361.2 241.9L361.5 242L361.9 242.7L362.2 241.7L362.5 240.7L362.8 240.8L363.2 240.2L363.5 240.4L363.8 240.2L364.2 240.7L364.5 238.5L364.8 239.4L365.2 240.3L365.5 241.2L365.8 243.6L366.1 244.5L366.3 245L366.6 246.1L367 244.6L367.3 244.6L367.6 246.4L367.9 245.3L368.3 245L368.6 246.5L368.8 245.5L369.1 248.6L369.4 250.2L369.8 252L370.1 254.5L370.4 255.7L370.7 253.4L371.1 250.9L371.4 248.4L371.6 247.6L371.9 247.1L372.2 246.5L372.5 246.7L372.9 248.1L373.2 247.5L373.5 247.7L373.7 247.1L374 247.5L374.4 246.7L374.7 246.4L375 245.9L375.3 246.9L375.7 246.4L376 245.5L376.3 245.2L376.7 244.8L377 244.4L377.3 243.7L377.6 243.6L378 242.2L378.3 241.8L378.6 241.6L378.8 241.2L379.1 241.3L379.5 240.7L379.8 242L380.1 240.6L380.4 239.7L380.6 239.6L380.9 240.5L381.3 239.5L381.6 239.6L381.9 240.5L382.2 239.9L382.6 239.9L382.9 239.5L383.1 239.8L383.4 240.3L383.7 241.5L384.1 242.9L384.4 243.3L384.7 244.1L385 245L385.4 243.1L385.7 241.9L386 241L386.4 239.2L386.7 238.2L387 235.9L387.3 234.3L387.7 232.8L388 230.4L388.3 228.6L388.7 228.6L389 228L389.3 227.5L389.6 227.8L390 227.3L390.3 222.3L390.6 219.9L391 215.4L391.1 214.1L391.5 211.9L391.8 209.2L391.9 208.6L392.3 204.3L392.6 198.3L392.8 195.3L393.1 201.1L393.4 196.9L393.8 192.6L394.1 187.4L394.4 184.6L394.6 182.7L394.9 182L395.2 182.1L395.4 182.4L395.7 190.7L395.9 195.3L396.2 189.3L396.4 186.5L396.7 190.6L397 194.2L397.4 199.1L397.7 202.5L398 199.5L398.4 198.4L398.7 195.4L399 193.2L399.3 190.9L399.7 191.3L400 190.1L400.3 188.4L400.7 188.1L400.8 187.6L401.2 188.5L401.5 188.2L401.8 188.4L402.1 188.7L402.5 189.9L402.8 188.8L403.1 190.2L403.5 189.4L403.8 190.6L404.1 190.7L404.4 191.3L404.8 190.4L405.1 191.8L405.4 191.2L405.8 191.8L406.1 193.3L406.4 194.6L406.7 195L407.1 195.8L407.2 197.2L407.6 198.1L407.9 199.4L408.2 199.4L408.5 200.8L408.9 201.4L409 202.1L409.4 199.7L409.7 198.4L410 197.7L410.2 196.6L410.5 195.7L410.8 197.4L411.2 197.3L411.5 198.6L411.8 198.6L412.2 200L412.5 198.3L412.8 199.7L413.2 199.8L413.5 202.3L413.8 203.3L414.1 204.3L414.5 203.5L414.8 205.1L415.1 207L415.5 208.3L415.8 210.1L416.1 211.5L416.3 212.3L416.6 209.7L416.9 206.1L417.3 203L417.6 204.4L417.9 204.1L418.2 204.4L418.6 204.8L418.9 205.7L419.2 206.6L419.6 206.5L419.7 206.8L420.1 207.1L420.4 205.9L420.7 206.4L421 207L421.4 207.3L421.7 207.4L422 207.6L422.4 207.3L422.7 207.1L423 205.5L423.3 204L423.7 202.6L424 200.3L424.3 200.6L424.7 198.7L424.8 198L425.2 196.6L425.5 199.6L425.8 199.1L426.1 198.9L426.5 199.2L426.8 199.3L427.1 199.7L427.5 199.6L427.8 199L428.1 198.9L428.4 198.2L428.8 199.6L429.1 198.7L429.4 197.9L429.8 197.6L430.1 198.3L430.4 198.4L430.7 197.5L431.1 198.4L431.4 197.7L431.7 197.7L432.1 198.1L432.4 198L432.7 198.5L432.9 198.5L433.2 199.5L433.5 198.9L433.9 198.8L434.2 199.5L434.5 199.5L434.8 199.1L435.2 200.3L435.5 200L435.8 200.5L436.2 200.6L436.5 202.9L436.8 203.4L437.2 204.4L437.5 204.3L437.6 205.7L438 205.4L438.3 205L438.6 205.9L439 205.4L439.3 205.3L439.6 206.3L439.9 205.1L440.3 204.8L440.6 205.6L440.9 207.7L441.3 206.7L441.6 207.7L441.9 207.9L442.2 208.4L442.6 210L442.9 209.8L443.1 209.9L443.4 209.8L443.7 211.8L444.1 212.8L444.4 213.8L444.7 214.5L445 214.3L445.4 214.3L445.5 215.7L445.9 214.1L446.2 213L446.5 210.5L446.8 210.8L447 209.9L447.3 210.8L447.7 210.6L448 211.1L448.3 212.6L448.7 213.2L449 212.9L449.3 213.4L449.6 214.1L450 214.1L450.3 212.7L450.6 212.1L451 210.7L451.3 210.2L451.6 209.4L451.9 208.6L452.3 209.3L452.6 209L452.9 209.2L453.3 210.8L453.6 210.6L453.9 211.6L454.2 212.2L454.6 211.9L454.9 211.8L455.2 211.5L455.6 212.9L455.9 212.9L456.2 213L456.5 214.2L456.9 213.5L457.2 213.7L457.5 214.5L457.9 214.2L458.2 215.5L458.5 216.3L458.8 215.5L459.2 215.7L459.5 216.5L459.7 216.4L460 217.2L460.3 219L460.7 220.1L461 222.9L461.3 224.7L461.6 228.3L462 230.2L462.1 231L462.5 229.1L462.8 226.8L463.1 225.5L463.5 223.4L463.8 222.1L464.1 219.8L464.4 221.4L464.8 222.4L465.1 224.9L465.4 225.1L465.8 223.1L466.1 224.8L466.4 224.2L466.7 224L467.1 223.3L467.4 223.7L467.7 224.2L468.1 224.4L468.4 222.5L468.7 222L469 221.8L469.4 220.3L469.7 221.6L470 220.8L470.4 220.1L470.7 219L471 218.6L471.3 217.2L471.5 217.8L471.8 219.3L472.2 219.5L472.5 222.1L472.8 220.3L473.2 221.8L473.5 221.7L473.6 222.7L474 221.6L474.3 223.1L474.6 223.5L475 223.9L475.3 224.3L475.6 224.4L475.9 223.9L476.3 224.5L476.6 224.7L476.9 225.1L477.1 225.1L477.4 224.4L477.8 224.5L478.1 224.7L478.4 224L478.7 224.3L479.1 224.8L479.4 223L479.7 223.7L480.1 223.5L480.4 224.3L480.7 223.1L481 223.5L481.4 224.7L481.7 222.8L482 223.5L482.4 223.2L482.7 223.6L482.8 223.7L483.2 224L483.5 224.9L483.8 223.6L484.2 224.3L484.5 224.6L484.8 224.4L485.2 224.7L485.5 224.9L485.8 224.2L486.1 224.5L486.5 224L486.8 225L487.1 223.6L487.5 222.7L487.8 222L487.9 222.7L488.3 222.6L488.6 222.2L488.9 221L489.3 221.9L489.6 221L489.8 221.3L490.1 219.4L490.4 219.5L490.7 218L491.1 218.2L491.4 216.8L491.6 216.5L491.9 216.9L492.2 217L492.5 216.7L492.9 216.3L493.2 218.4L493.5 218.6L493.7 218.4L494 218.4L494.4 219.6L494.7 219L495 219.2L495.3 220L495.7 219.7L496 221.3L496.3 220.6L496.7 221L497 223.2L497.3 223.6L497.6 224.3L498 225.1L498.3 225.2L498.6 226.5L499 226L499.3 225.8L499.6 224.8L499.9 223.7L500.3 224.2L500.6 223.7L500.9 223.5L501.3 223L501.6 223.6L501.9 224.5L502.2 222.2L502.6 222.4L502.9 224.9L503.2 223.8L503.6 223.5L503.9 223.7L504.2 223L504.5 223L504.9 223.5L505.2 223.8L505.5 223L505.9 222.2L506.2 223.4L506.4 222.7L506.7 222.7L507 221.6L507.3 222.2L507.7 220.7L508 220.3L508.3 219.2L508.7 219.4L508.8 218.7L509.2 218.2L509.5 217L509.8 215.8L510 215.3L510.3 211.5L510.5 209.2L510.8 211.3L511.1 213L511.5 214.9L511.6 216.5L511.9 215.3L512.3 216.5L512.6 216.1L512.9 217.1L513.3 214.2L513.6 215.6L513.9 214.9L514.2 214L514.6 212.8L514.9 213.1L515.2 211.1L515.6 210.5L515.9 209.7L516.2 209.9L516.5 207.7L516.9 206.3L517.2 206.1L517.5 207.6L517.9 206.4L518.2 207.1L518.5 207.3L518.8 207.7L519.2 207.5L519.3 208.5L519.7 208.2L520 207.1L520.3 207.5L520.7 206.4L521 206.4L521.3 208.2L521.6 209.1L522 209.3L522.3 211.3L522.5 212.3L522.8 212.3L523.1 212.8L523.4 212.6L523.8 211.9L524.1 211.4L524.4 211.6L524.8 211.5L525.1 211.8L525.4 211.3L525.7 210.1L526.1 210.7L526.4 210.3L526.7 209L527 209L527.4 208.8L527.7 208.5L528 207.9L528.2 207.5L528.5 207.3L528.9 207.6L529.2 208.7L529.5 207.8L529.8 208.1L530.2 209L530.5 208.1L530.8 208.9L531.1 209L531.3 208.9L531.6 208.4L532 208.1L532.3 209.3L532.6 208.6L533 209.4L533.3 207.5L533.6 209.1L533.9 208.1L534.3 209.2L534.6 208.3L534.9 208.8L535.2 207.2L535.6 209.9L535.9 208.4L536.2 207.6L536.6 207.7L536.9 207.9L537.2 205.9L537.5 207L537.9 207.8L538.2 206.1L538.5 207.4L538.9 206.1L539.2 205.5L539.5 206.5L539.8 206.2L540.2 205.5L540.5 206.2L540.8 207.2L541.1 207.4L541.5 205.7L541.8 206L542.1 206.5L542.5 206.4L542.8 204.9L543.1 204.5L543.4 203.9L543.8 205.1L544.1 203.3L544.4 202L544.6 202.3L544.9 201.5L545.2 201L545.6 202.6L545.9 200.7L546.2 200.1L546.4 200.2L546.7 196.5L547 195.8L547.4 192.9L547.7 195L548 196.7L548.4 198.1L548.5 199.5L548.9 199L549.2 197.2L549.5 197.5L549.8 196.2L550.2 196.1L550.5 196.6L550.8 196.3L551.1 196.8L551.5 197.4L551.8 195.8L552.1 196.3L552.5 196.9L552.8 196.5L553 196.6L553.3 196.9L553.6 198.9L553.9 199.2L554.3 199.6L554.6 200.5L554.9 201.8L555.1 202.1L555.4 203.1L555.7 200.9L556.1 201.2L556.4 201.2L556.7 201.1L557 200.6L557.2 200.6L557.5 200.7L557.9 200.9L558.2 200.6L558.5 200.4L558.9 200.2L559.2 200.4L559.5 199.1L559.8 200.2L560.2 198.8L560.5 199.7L560.7 199L561 198.7L561.3 198.1L561.6 198.8L562 199.4L562.3 198.9L562.6 198.8L563 199.9L563.3 199.2L563.6 198.7L563.9 199.1L564.3 198.8L564.6 198.4L564.9 198.8L565.2 198.2L565.6 198L565.9 198L566.2 198.4L566.6 198.1L566.9 198.1L567.2 198L567.5 197.7L567.9 198.5L568.2 197.5L568.5 197.2L568.9 197L569.2 197.3L569.5 196.4L569.8 195.8L570.2 195.9L570.3 195.7L570.7 194.3L571 197L571.3 195.4L571.6 196.3L572 194.5L572.3 194.9L572.6 193.1L573 196L573.3 194.2L573.6 193.8L573.9 194.1L574.3 193.4L574.6 194.9L574.9 193.3L575.2 192.3L575.6 192.2L575.9 191.9L576.2 191.8L576.6 190.6L576.9 190.8L577.2 189.9L577.5 189.9L577.9 190.5L578.2 188.7L578.5 188.2L578.9 187.2L579.2 185.9L579.5 186L579.8 184.6L580.2 183.3L580.5 182.8L580.8 185.5L581.2 187.7L581.5 190L581.6 192.5L582 192.5L582.3 192.6L582.6 190.4L583 189.5L583.3 189.4L583.6 188.9L583.9 188.9L584.3 188.9L584.6 188.7L584.9 187.4L585.3 188.1L585.6 188.3L585.9 187.5L586.2 185.1L586.6 186.3L586.9 184.5L587.2 185.5L587.6 185L587.9 183.8L588.2 183.8L588.5 182L588.9 182.2L589 181.9L589.4 181.6L589.7 179.6L590 179.5L590.4 180.9L590.7 181.5L591 182.7L591.2 183.3L591.5 182.4L591.8 181.1L592.2 180.2L592.5 182.4L592.8 184.9L593.2 187L593.5 187.6L593.8 187.6L594.1 186.5L594.5 185.2L594.8 184.4L595.1 183.3L595.5 182.8L595.8 182.4L596.1 182.7L596.4 182.4L596.8 182.9L597.1 181.4L597.4 180.8L597.8 180.4L598.1 180.5L598.4 180.3L598.7 179.9L599.1 178.1L599.4 177.5L599.7 175.9L600.1 174.8L600.4 173.8L600.7 172L601 171.9L601.2 171L601.5 170L601.9 169.1L602.2 167.9L602.5 165.3L602.8 164L603.2 163.9L603.5 162.4L603.7 162.1L604 167.3L604.3 164.8L604.7 163.3L605 161.3L605.3 161L605.6 158.5L606 158.5L606.3 157.8L606.5 157.8L606.8 159.7L607.1 162.7L607.5 162.5L607.8 163.1L608.1 162.7L608.4 162.9L608.8 163L609.1 161.5L609.4 162.7L609.6 162.3L609.9 163.1L610.2 162.7L610.6 164.1L610.9 165.4L611.2 166.8L611.6 167L611.9 167.1L612.2 168.9L612.5 163.7L612.9 159L613.2 158.4L613.5 159.2L613.9 159.1L614.2 159.7L614.5 159.5L614.8 159.9L615.2 157.4L615.5 157.4L615.8 154.8L616.2 153L616.5 151.7L616.8 149.9L617.2 148L617.5 147.1L617.8 146L618.1 146.4L618.5 146.2L618.8 146.9L619.1 144.4L619.5 145.1L619.8 144.8L619.9 144.6L620.3 146.9L620.6 148L620.9 150.3L621.3 151.2L621.6 152.7L621.9 154.6L622.1 155.4L622.4 154.4L622.7 154.1L623.1 151.8L623.4 152.2L623.7 152L623.9 150.4L624.2 150L624.5 149.8L624.9 149.5L625.2 148.6L625.5 147.9L625.9 146.6L626.2 146.3L626.5 144.5L626.8 142.4L627.2 141.8L627.5 141.1L627.8 139.8L628 139.3L628.3 138.9L628.7 138.3L629 137.3L629.3 137.3L629.6 138.2L630 136.2L630.3 135.5L630.6 135.2L631 133.7L631.1 133.7L631.5 137L631.8 139.7L632.1 137.5L632.4 134.2L632.8 133.9L633.1 131.2L633.4 130.5L633.8 129.3L634.1 128.6L634.4 126.9L634.7 124.2L634.9 123.8L635.2 120.2L635.6 116.9L635.9 112.2L636.2 114.9L636.4 115.4L636.7 113.2L637 112L637.4 109.9L637.5 108.7L637.9 112.1L638.2 115.2L638.4 117.6L638.7 115.3L639 114.3L639.2 114.1L639.5 117.8L639.7 119.8L640 117.4L640.3 114.3L640.7 112.2L640.8 111.9L641.2 114.3L641.5 116.1L641.8 118.4L642.1 120.8L642.5 123L642.8 121.5L643.1 119.6L643.5 121.8L643.8 122.9L644.1 124.9L644.4 124.8L644.8 126.7L645.1 128.5L645.4 132.5L645.8 135.7L646.1 133.1L646.4 131.6L646.7 131.6L647.1 127.6L647.4 126.5L647.7 124L648.1 124.2L648.2 122.6L648.5 122.2L648.9 122.3L649.2 122.4L649.5 122.3L649.9 121.8L650.2 123.3L650.4 122.4L650.7 124.9L651 126.7L651.3 128L651.7 129.8L652 131.2L652.3 130.3L652.7 129.6L653 129L653.3 130.3L653.6 132L654 133.1L654.3 133.6L654.6 135L654.8 136L655.1 135.3L655.5 134.8L655.8 133L656.1 133.6L656.4 132.1L656.6 132.1L656.9 130.8L657.3 131L657.6 129.7L657.9 130.2L658.2 128.3L658.6 128.1L658.7 127.9L659.1 128.6L659.4 126.9L659.7 127.6L660.1 126L660.4 126.5L660.7 127.6L661 128.1L661.4 128.5L661.7 129.6L662 129.9L662.4 131.1L662.7 131.1L663 132.2L663.3 132.8L663.7 135.3L664 133.7L664.2 134.7L664.5 134.1L664.8 134.3L665.2 132.8L665.5 133.7L665.8 134.5L666.1 135.1L666.5 137.3L666.8 137.6L667.1 137L667.5 138.3L667.8 137L668.1 138.8L668.4 138.6L668.8 139.5L669.1 140.3L669.3 139.7L669.6 138.4L669.9 137.8L670.2 136.7L670.6 136.4L670.9 136.2L671.2 135.9L671.6 135.9L671.9 134.7L672.2 134L672.5 133.5L672.9 132L673.2 131.5L673.5 131L673.9 131.9L674.2 132.4L674.5 133.3L674.8 133.9L675.2 134.3L675.5 134.9L675.8 136.7L676.2 137.9L676.5 136.9L676.8 138.4L677 138.9L677.3 137.7L677.6 138.8L678 137.5L678.3 136.7L678.6 137.1L679 136L679.3 135.1L679.6 135.2L679.9 135.6L680.3 135.9L680.6 137.9L680.9 138.8L681.1 138.2L681.4 137.7L681.8 137.2L682.1 137.4L682.4 138L682.7 136.5L683.1 136.2L683.4 136.4L683.7 136.2L684.1 136.9L684.4 136.4L684.7 136.2L685 137.1L685.4 137.9L685.7 136.7L686 136.7L686.4 137L686.7 137.1L687 136.6L687.3 137.6L687.7 137.4L688 137.6L688.3 137.1L688.7 136.6L689 137.8L689.3 136.5L689.6 136.8L690 137.8L690.3 137.9L690.6 138.5L691 138.3L691.3 140L691.6 140.4L691.9 141.5L692.1 141.1L692.4 142.7L692.8 144L693.1 146.3L693.4 148.2L693.8 150.4L693.9 151.2L694.2 150.5L694.6 150.7L694.9 148.7L695.1 148.9L695.4 150.2L695.7 151.7L696.1 152.5L696.4 153.6L696.7 153.6L697 154.5L697.2 155.7L697.5 154.7L697.9 151.9L698.2 150.2L698.4 149.9L698.7 150.4L699 151.1L699.3 150.8L699.7 150.8L700 150.4L700.3 150.9L700.7 150.9L701 152.3L701.3 151.2L701.6 152.5L702 151.3L702.3 152.8L702.6 152.8L703 153.1L703.3 153.2L703.6 152.3L703.9 152.8L704.3 153.2L704.4 153.7L704.8 153.6L705.1 154.8L705.4 154.3L705.8 154.3L706.1 154.7L706.2 154.1L706.6 153.2L706.9 153.3L707.2 152.6L707.6 152.1L707.9 152.1L708.2 149.9L708.5 148.8L708.7 149.2L709 149.7L709.4 150.8L709.7 150.9L710 152.4L710.4 150.5L710.7 149.7L711 150.1L711.3 149.6L711.7 149.2L712 149.2L712.3 150L712.7 149L712.8 149.6L713.2 149L713.5 150.4L713.8 149.6L714.1 150.2L714.5 149.4L714.8 149.2L715.1 144.3L715.5 143.7L715.8 144.4L716.1 144.7L716.4 142.4L716.8 142.7L717.1 141.8L717.4 143.2L717.8 141.5L718.1 140.6L718.4 141.6L718.7 140.6L719.1 142.1L719.4 142L719.7 142.3L720.1 140.8L720.4 138.4L720.7 136.8L721 135.7L721.4 134.9L721.7 132.5L722 133.1L722.4 134.4L722.7 134L723 132.6L723.3 132.1L723.7 130.6L724 130.2L724.3 130.4L724.5 129.8L724.8 130.6L725.2 130.8L725.5 132.6L725.8 132.3L726.1 131.1L726.5 129.9L726.8 129.2L727.1 129.3L727.5 127.2L727.8 126.5L728.1 124.7L728.4 121.9L728.8 120L728.9 119.4L729.3 119.8L729.6 123.2L729.9 124.5L730.2 122.7L730.6 121.6L730.9 121.7L731.1 120.2L731.4 122.4L731.7 123.7L732.1 125.8L732.4 127.3L732.7 127.4L733 127.1L733.4 127.8L733.7 127.1L734 127.7L734.2 127.3L734.5 126.4L734.8 124.5L735.2 123.9L735.5 122.1L735.7 121.7L736 121.6L736.3 123.4L736.7 124.3L737 124.6L737.2 125.5L737.5 126L737.8 125.4L738.1 127L738.5 126.2L738.8 127.1L739.1 127.6L739.5 127.3L739.8 125.6L740.1 126.2L740.4 124.1L740.6 124.6L740.9 124.3L741.3 124L741.6 125.6L741.9 124.4L742.2 124.4L742.6 125.4L742.9 125.6L743.1 125.6L743.4 126.4L743.7 129.3L743.9 130.4L744.2 130.8L744.5 131.1L744.9 130.7L745.2 130.9L745.5 131.3L745.9 131.5L746.2 130.8L746.5 132.3L746.8 132.1L747.2 131.8L747.5 133.5L747.8 132.5L748.2 132.3L748.5 133.7L748.8 130.4L749 128L749.3 128.9L749.6 129.1L750 129.7L750.3 128.6L750.6 130.1L751 128.9L751.1 129.3L751.5 129.1L751.8 131.6L752.1 131.5L752.4 133.1L752.8 132.2L753.1 133.7L753.4 134.1L753.8 134.6L753.9 134.9L754.2 134.4L754.6 134.7L754.9 134.3L755.2 134.4L755.6 133.8L755.9 134.2L756.2 135.5L756.5 135.2L756.9 136.9L757.2 136.5L757.5 136.6L757.9 135.2L758.2 136L758.5 136.5L758.8 135.3L759.2 135.7L759.5 135.8L759.8 134.6L760.2 134.4L760.5 132.9L760.8 132.5L761.1 132.2L761.5 132L761.8 131.5L762.1 129.5L762.5 129.5L762.8 129L763.1 130L763.4 131.1L763.8 131.2L763.9 130.7L764.3 128.6L764.6 130.2L764.9 129L765.2 128.3L765.6 127.9L765.9 127.4L766.2 127.5L766.6 126.7L766.9 124.5L767 125.2L767.4 126.3L767.7 126L768 128.1L768.4 127.9L768.7 128.2L769 128.4L769.2 129.3L769.5 129.8L769.8 128.6L770.2 128.6L770.5 129.1L770.8 128.5L771.1 134.6L771.5 141.6L771.6 144.3L772 144.4L772.3 143.8L772.6 142.2L773 142.2L773.3 139L773.6 137.9L773.8 136.4L774.1 137L774.4 136.1L774.8 135L775.1 135.4L775.4 134.1L775.7 135.2L776.1 134.2L776.4 135.2L776.7 133.8L777 134.7L777.4 134.6L777.7 135.9L778 135.7L778.4 133.9L778.7 133L779 131.6L779.3 130.7L779.7 129.5L780 127.9L780.3 127.9L780.7 127.1L780.8 126.1L781.1 128.9L781.3 129.5L781.6 128.2L782 128.8L782.3 128.5L782.6 127.9L783 126.8L783.3 126.9L783.6 127.2L783.9 126.4L784.3 126.4L784.6 126.1L784.9 125.6L785.2 126.5L785.6 126.2L785.9 126.7L786.2 126.7L786.6 126.9L786.9 127.1L787.2 127.6L787.5 129L787.9 128.1L788.2 128.3L788.5 127.4L788.9 128.9L789.2 128.5L789.5 128.3L789.8 128.2L790.2 128.4L790.5 127.6L790.8 128.5L791.1 127.6L791.5 129.1L791.8 129.3L792.1 127.5L792.5 128L792.8 128L793 128.3L793.3 126.8L793.6 125.3L793.9 124.8L794.1 123.5L794.4 122.4L794.8 122.6L795.1 121.7L795.4 121L795.7 121.3L796.1 122.4L796.4 121.9L796.7 120.3L797 120.9L797.4 120.9L797.5 120.6L797.9 120.6L798.2 121.1L798.5 121.3L798.9 121L799.2 121.1L799.5 120.4L799.8 121.4L800 121.5L800.3 122.7L800.7 125.5L801 124.2L801.3 124L801.6 124.2L802 124.5L802.3 124.2L802.6 124.2L803 124.3L803.1 123.8L803.4 123.9L803.8 124.4L804.1 123.2L804.4 124L804.8 124.7L804.9 124.5L805.2 125.1L805.6 123.5L805.9 123.3L806.2 123.2L806.6 122.7L806.9 122.9L807.2 120.7L807.5 120.6L807.9 118.5L808.2 119.6L808.5 119.2L808.9 118.9L809.2 117.5L809.5 117.9L809.8 117.6L810.2 116.5L810.5 115.7L810.8 114.4L811.1 114.2L811.5 112.4L811.8 112.1L812.1 111.1L812.5 111.8L812.6 111.3L813 110.6L813.3 110.5L813.6 108.9L813.8 109.1L814.1 111.5L814.3 112L814.6 110.2L814.9 108.7L815.2 108.5L815.6 108.7L815.9 110.5L816.2 109.6L816.6 110.7L816.9 109L817.2 106.9L817.5 104.5L817.9 104.5L818.2 102.3L818.5 101.2L818.9 101.7L819.2 100.6L819.5 99.7L819.8 98.3L820.2 96.1L820.3 94.9L820.7 91.6L821 90L821.2 89.4L821.5 92L821.8 94.1L822.1 90.4L822.5 93.1L822.8 94.3L823.1 95.2L823.3 96.7L823.6 95.9L823.9 97L824.3 97L824.6 96.3L824.9 95.2L825.1 94.5L825.4 93.4L825.8 89.7L826.1 88.7L826.4 86L826.7 84.4L827.1 85.1L827.4 83.9L827.7 82.1L828.1 81.8L828.4 80.4L828.7 81.8L829 84L829.4 86.4L829.5 86.7L829.9 85.1L830.2 83.8L830.5 84.2L830.8 80.7L831.2 80.3L831.5 78.9L831.7 78.8L832 80.6L832.3 80.7L832.7 81.2L833 81.1L833.3 83.3L833.6 83.2L834 82.8L834.3 82.6L834.6 80.7L835 79.7L835.3 79.2L835.6 80.1L835.9 79.1L836.3 78L836.6 77.1L836.8 77.8L837.1 78.8L837.4 80.5L837.6 81L837.9 82.7L838.2 83.6L838.6 84.4L838.7 84.6L839.1 83.5L839.4 82.6L839.7 80.6L840.1 80.6L840.4 80.1L840.7 80.5L840.9 79.8L841.2 81.5L841.5 84.3L841.9 84.8L842.2 86L842.5 89.9L842.7 91.9L843 93L843.3 93.6L843.7 92.1L843.8 90.3L844.2 90.9L844.5 89.9L844.8 90.8L845.2 90.4L845.5 92.7L845.8 93.7L846 94.6L846.3 92.8L846.6 90.9L847 89.6L847.3 90.8L847.6 91.9L847.9 94.8L848.3 95.9L848.6 94.5L848.9 94.6L849.3 92.8L849.4 92.7L849.8 93.2L850.1 93.7L850.4 94.3L850.7 94L851.1 94.7L851.4 94.3L851.7 95.1L852.1 95.4L852.4 96.4L852.7 97.5L852.9 97.5L853.2 96L853.5 93.9L853.9 91.7L854.2 90.2L854.5 88.6L854.8 89.2L855.2 88.4L855.3 90.1L855.7 88.6L856 87.3L856.3 86.5L856.7 86.6L857 86.2L857.3 85.7L857.6 85L858 85.4L858.3 83.5L858.5 84.3L858.8 85L859.1 84.4L859.5 86.6L859.8 85.6L860.1 84.7L860.4 83.6L860.8 82.7L860.9 85.8L861.3 86L861.6 86.2L861.9 86.8L862.2 86L862.6 85.3L862.7 85L863.1 88.6L863.2 89.4L863.6 89.7L863.9 90.5L864.2 88.7L864.5 88.9L864.9 85.1L865.2 83.5L865.5 82.3L865.7 81.4L866 81.3L866.4 80.5L866.7 78.5L867 77.9L867.2 78.6L867.5 77.9L867.8 76.6L868 76.8L868.3 78.6L868.7 79.6L869 79.8L869.2 80L869.5 79.9L869.8 79.3L870 78.9L870.3 78.1L870.6 75.8L871 77.3L871.3 76.2L871.6 77.2L871.9 78.1L872.3 79.2L872.6 79.6L872.8 80.7L873.1 79.8L873.4 81L873.6 80.4L873.9 81.6L874.1 82.2L874.4 82.9L874.7 83.1L875.1 84.8L875.4 84.5L875.7 85.6L876.1 86.2L876.2 85.3L876.5 85.2L876.9 85.6L877.2 85.9L877.5 86.1L877.9 86.5L878.2 84.7L878.5 83.6L878.8 84L879.2 83.7L879.5 85.4L879.8 86.1L880.2 87.1L880.5 87.1L880.7 87.7L881 87.9L881.3 88.5L881.5 88.7L881.8 88.2L882.1 88.4L882.3 87.9L882.6 89.3L883 90.8L883.3 92.3" fill="none" stroke="#161616" stroke-opacity="0.88" stroke-width="1" stroke-linejoin="round"/>
</g>
<g><circle cx="176.7" cy="24.8" r="3.7" fill="#5e4fa2"/><circle cx="221.6" cy="24.8" r="3.7" fill="#3283bf"/><circle cx="275.3" cy="24.8" r="3.7" fill="#48bbae"/><circle cx="323.6" cy="24.8" r="3.7" fill="#98d6a4"/><circle cx="371.3" cy="24.8" r="3.7" fill="#cfee9c"/><circle cx="419.6" cy="24.8" r="3.7" fill="#f4faaa"/><circle cx="468" cy="24.8" r="3.7" fill="#feec96"/><circle cx="527.8" cy="24.8" r="3.7" fill="#feca73"/><circle cx="581.5" cy="24.8" r="3.7" fill="#fb9850"/><circle cx="635.4" cy="24.8" r="3.7" fill="#ee6446"/><circle cx="688.8" cy="24.8" r="3.7" fill="#d33b4f"/><circle cx="738.2" cy="24.8" r="3.7" fill="#a00043"/><circle cx="777.6" cy="24.8" r="3.7" fill="#7a7a7a"/></g>
<g class="leg" style="filter:grayscale(1)"><text x="184.6" y="28.6" textLength="21.3" lengthAdjust="spacingAndGlyphs">&gt;10y</text><text x="229.3" y="28.6" textLength="30.5" lengthAdjust="spacingAndGlyphs">7y-10y</text><text x="283" y="28.6" textLength="25.8" lengthAdjust="spacingAndGlyphs">5y-7y</text><text x="331.2" y="28.6" textLength="26.5" lengthAdjust="spacingAndGlyphs">3y-5y</text><text x="379" y="28.6" textLength="26.3" lengthAdjust="spacingAndGlyphs">2y-3y</text><text x="427" y="28.6" textLength="24.8" lengthAdjust="spacingAndGlyphs">1y-2y</text><text x="475.2" y="28.6" textLength="37" lengthAdjust="spacingAndGlyphs">6m-12m</text><text x="535.4" y="28.6" textLength="32.5" lengthAdjust="spacingAndGlyphs">3m-6m</text><text x="589" y="28.6" textLength="31.2" lengthAdjust="spacingAndGlyphs">1m-3m</text><text x="643.2" y="28.6" textLength="28.8" lengthAdjust="spacingAndGlyphs">1w-1m</text><text x="696" y="28.6" textLength="26.7" lengthAdjust="spacingAndGlyphs">1d-1w</text><text x="745.8" y="28.6" textLength="17.5" lengthAdjust="spacingAndGlyphs">24h</text><text x="784.8" y="28.6" textLength="52" lengthAdjust="spacingAndGlyphs">Price [USD]</text></g>
<g class="ax" style="filter:grayscale(1)"><text x="88.6" y="47.8" text-anchor="end" textLength="37.1" lengthAdjust="spacingAndGlyphs">100.00%</text><text x="88.6" y="91.4" text-anchor="end" textLength="32.2" lengthAdjust="spacingAndGlyphs">90.00%</text><text x="88.6" y="135" text-anchor="end" textLength="32.2" lengthAdjust="spacingAndGlyphs">80.00%</text><text x="88.6" y="178.6" text-anchor="end" textLength="32.2" lengthAdjust="spacingAndGlyphs">70.00%</text><text x="88.6" y="222.2" text-anchor="end" textLength="32.2" lengthAdjust="spacingAndGlyphs">60.00%</text><text x="88.6" y="265.8" text-anchor="end" textLength="32.2" lengthAdjust="spacingAndGlyphs">50.00%</text><text x="88.6" y="309.4" text-anchor="end" textLength="32.2" lengthAdjust="spacingAndGlyphs">40.00%</text><text x="88.6" y="353" text-anchor="end" textLength="32.2" lengthAdjust="spacingAndGlyphs">30.00%</text><text x="88.6" y="396.6" text-anchor="end" textLength="32.2" lengthAdjust="spacingAndGlyphs">20.00%</text><text x="88.6" y="440.2" text-anchor="end" textLength="32.2" lengthAdjust="spacingAndGlyphs">10.00%</text><text x="88.6" y="483.8" text-anchor="end" textLength="27.0" lengthAdjust="spacingAndGlyphs">0.00%</text>
<text x="895.6" y="64.3" textLength="56" lengthAdjust="spacingAndGlyphs">$100,000.00</text><text x="895.6" y="124.3" textLength="50" lengthAdjust="spacingAndGlyphs">$10,000.00</text><text x="895.6" y="184.3" textLength="44.4" lengthAdjust="spacingAndGlyphs">$1,000.00</text><text x="895.6" y="244.3" textLength="36" lengthAdjust="spacingAndGlyphs">$100.00</text><text x="895.6" y="304.3" textLength="30.3" lengthAdjust="spacingAndGlyphs">$10.00</text><text x="895.6" y="364.3" textLength="24.5" lengthAdjust="spacingAndGlyphs">$1.00</text><text x="895.6" y="424.3" textLength="23.5" lengthAdjust="spacingAndGlyphs">$0.10</text><text x="895.6" y="484.3" textLength="23.3" lengthAdjust="spacingAndGlyphs">$0.01</text>
<text x="160.5" y="502.8" text-anchor="middle" textLength="21.2" lengthAdjust="spacingAndGlyphs">2010</text><text x="220.4" y="502.8" text-anchor="middle" textLength="21.2" lengthAdjust="spacingAndGlyphs">2011</text><text x="280.4" y="502.8" text-anchor="middle" textLength="21.2" lengthAdjust="spacingAndGlyphs">2012</text><text x="340.4" y="502.8" text-anchor="middle" textLength="21.2" lengthAdjust="spacingAndGlyphs">2013</text><text x="400.3" y="502.8" text-anchor="middle" textLength="21.2" lengthAdjust="spacingAndGlyphs">2014</text><text x="460.2" y="502.8" text-anchor="middle" textLength="21.2" lengthAdjust="spacingAndGlyphs">2015</text><text x="520.2" y="502.8" text-anchor="middle" textLength="21.2" lengthAdjust="spacingAndGlyphs">2016</text><text x="580.2" y="502.8" text-anchor="middle" textLength="21.2" lengthAdjust="spacingAndGlyphs">2017</text><text x="640.1" y="502.8" text-anchor="middle" textLength="21.2" lengthAdjust="spacingAndGlyphs">2018</text><text x="700.1" y="502.8" text-anchor="middle" textLength="21.2" lengthAdjust="spacingAndGlyphs">2019</text><text x="760" y="502.8" text-anchor="middle" textLength="21.2" lengthAdjust="spacingAndGlyphs">2020</text><text x="820" y="502.8" text-anchor="middle" textLength="21.2" lengthAdjust="spacingAndGlyphs">2021</text><text x="879.9" y="502.8" text-anchor="middle" textLength="21.2" lengthAdjust="spacingAndGlyphs">2022</text></g>
</svg>
</body></html>
